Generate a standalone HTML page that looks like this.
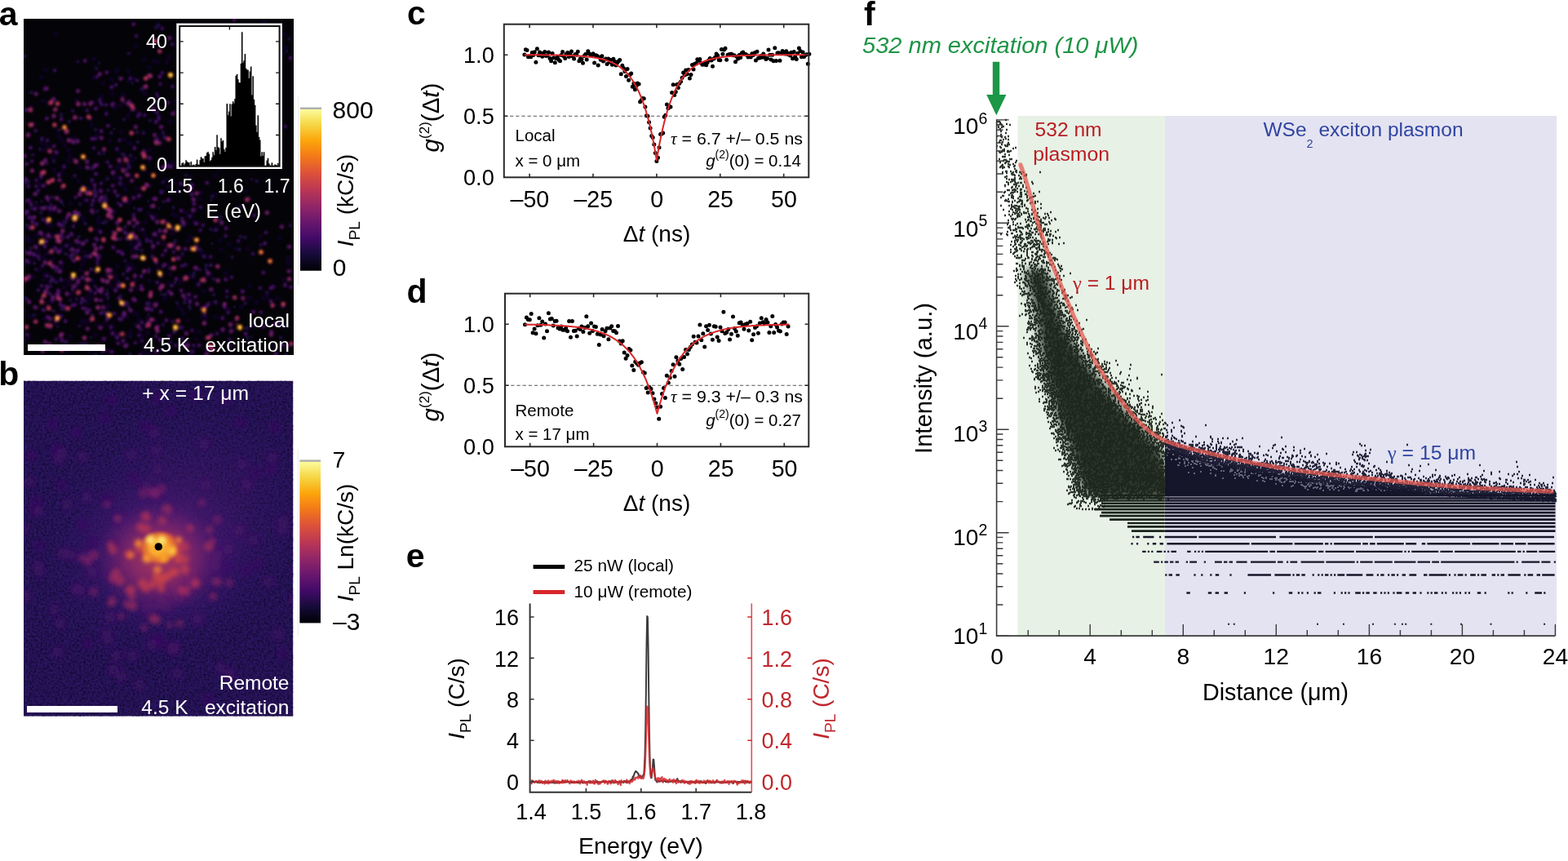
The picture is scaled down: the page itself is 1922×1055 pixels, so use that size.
<!DOCTYPE html>
<html><head><meta charset="utf-8"><title>Figure</title>
<style>html,body{margin:0;padding:0;background:#fff;overflow:hidden}svg{display:block}</style></head>
<body><svg width="1922" height="1055" viewBox="0 0 1922 1055" font-family="'Liberation Sans', Arial, Helvetica, sans-serif">
<defs><linearGradient id="cbar" x1="0" y1="1" x2="0" y2="0"><stop offset="0.0" stop-color="#000004"/><stop offset="0.1" stop-color="#160b39"/><stop offset="0.2" stop-color="#420a68"/><stop offset="0.3" stop-color="#6a176e"/><stop offset="0.4" stop-color="#932667"/><stop offset="0.5" stop-color="#bc3754"/><stop offset="0.6" stop-color="#dd513a"/><stop offset="0.7" stop-color="#f37819"/><stop offset="0.8" stop-color="#fca50a"/><stop offset="0.9" stop-color="#f6d746"/><stop offset="1.0" stop-color="#fcffa4"/></linearGradient><clipPath id="clipA"><rect x="29" y="23" width="331" height="412"/></clipPath><filter id="blurA" x="-5%" y="-5%" width="110%" height="110%"><feGaussianBlur stdDeviation="1.6"/></filter><clipPath id="clipB"><rect x="29" y="466.6" width="330.4" height="411.1"/></clipPath><filter id="noiseB" x="0" y="0" width="100%" height="100%" color-interpolation-filters="sRGB"><feTurbulence type="fractalNoise" baseFrequency="0.38" numOctaves="2" seed="3"/><feColorMatrix type="matrix" values="0 0 0 0 0.04  0 0 0 0 0.01  0 0 0 0 0.12  2.4 0 0 0 -0.95"/></filter><filter id="noiseB2" x="0" y="0" width="100%" height="100%" color-interpolation-filters="sRGB"><feTurbulence type="fractalNoise" baseFrequency="0.33" numOctaves="1" seed="9"/><feColorMatrix type="matrix" values="0 0 0 0 0.28  0 0 0 0 0.15  0 0 0 0 0.52  0 3.0 0 0 -1.55"/></filter><filter id="blurB" x="-30%" y="-30%" width="160%" height="160%"><feGaussianBlur stdDeviation="4"/></filter><filter id="blurB3" x="-30%" y="-30%" width="160%" height="160%"><feGaussianBlur stdDeviation="2.6"/></filter><radialGradient id="haloB"><stop offset="0" stop-color="#6a1e78" stop-opacity="0.9"/><stop offset="0.4" stop-color="#521a76" stop-opacity="0.6"/><stop offset="0.75" stop-color="#3c1670" stop-opacity="0.3"/><stop offset="1" stop-color="#2c1260" stop-opacity="0"/></radialGradient><radialGradient id="magB"><stop offset="0" stop-color="#c8444e"/><stop offset="0.45" stop-color="#a83262" stop-opacity="0.85"/><stop offset="1" stop-color="#7a2270" stop-opacity="0"/></radialGradient><radialGradient id="coreB"><stop offset="0" stop-color="#fbc040"/><stop offset="0.45" stop-color="#f7a02a"/><stop offset="0.75" stop-color="#ec7a2a" stop-opacity="0.8"/><stop offset="1" stop-color="#d85a3a" stop-opacity="0"/></radialGradient><filter id="blurP" x="-5%" y="-30%" width="110%" height="160%"><feGaussianBlur stdDeviation="2"/></filter><clipPath id="clipP"><rect x="1428" y="400" width="479" height="206"/></clipPath><filter id="blurF" x="-20%" y="-20%" width="140%" height="140%"><feGaussianBlur stdDeviation="6"/></filter><clipPath id="clipG"><rect x="1200" y="140" width="227.7" height="470"/></clipPath></defs>
<rect width="1922" height="1055" fill="#fff"/>
<text x="-1.2" y="31" font-size="41" font-weight="bold">a</text>
<rect x="29" y="23" width="331" height="412" fill="#040307"/>
<g clip-path="url(#clipA)"><g filter="url(#blurA)"><path d="M167.3 230.9h0M161.8 307h0M176.6 161.9h0M148.6 202h0M30.5 416.7h0M238.4 305.4h0M157.5 87.6h0M235.6 163.9h0M179.3 398.1h0M230 419.4h0M69.3 358.5h0M150.8 116.2h0M126.3 102.1h0M103.9 395.4h0M258.1 336.4h0M188.9 74.8h0M109.7 431.2h0M201.5 366.4h0M240.6 415h0M31.8 259.6h0M278.2 180.1h0M183.2 183.8h0M251.8 434.2h0M150.3 281.7h0M163.8 289.1h0M167.3 385.3h0M297.4 356.9h0M54.7 335.9h0M39.8 295.1h0M309.6 396.4h0M196.6 428.8h0M230.3 392.3h0M229.4 196.1h0M164.4 328.5h0M173.8 230.4h0M83.6 184h0M158.3 248.6h0M30.7 150.2h0M96.6 221.7h0M59.8 370.8h0M41 339.6h0M321.5 53.3h0M161.7 196.2h0M321.2 181.8h0M285.4 403.5h0M93.4 122.6h0M123.2 245.5h0M272 55.6h0M207.7 428.6h0M72.4 272.7h0M236 263.5h0M157.6 197.9h0M258.4 129.5h0M66.3 208.1h0M126.3 416.2h0M61.5 402.5h0M55.4 254.5h0M63.3 276.7h0M327 395.3h0M216.8 234.1h0M144.2 204.6h0M77.5 204h0M207.9 244.4h0M212.1 262.7h0M132.6 430h0M159.7 175.4h0M53.5 184.1h0M36.8 387.9h0M32.8 276.9h0M257.3 171.4h0M137.1 114.7h0M152.2 422.4h0M255.8 40.1h0M91.2 424.5h0M75.4 171h0M154.1 232.7h0M86 249.3h0M137.2 405.8h0M100.5 392.8h0M353.2 315.9h0M350.2 58.5h0M34 267h0M59.5 286.2h0M198.1 164.2h0M33.1 261.3h0M279.4 379.2h0M251.3 394.7h0M193.4 329.4h0M82.8 343.1h0M160.9 135.1h0M255.6 79.2h0M152.4 170.8h0M185.4 433.5h0M140.7 132.1h0M29.6 324h0M239.6 257.6h0M144.3 85.8h0M140.6 258.8h0M269.9 294.7h0M158 175.6h0M223.8 342.2h0M52.9 342.6h0M75 309h0M103 244.6h0M40.1 315.3h0M241.9 273.4h0M234.4 230.8h0M100.8 323.5h0M50.6 94.4h0M229.7 295.5h0M191.6 264.8h0M149.9 242.2h0M82.7 343.4h0M192.8 204.3h0M249.6 356.6h0M112.5 223.6h0M47.2 306.4h0M202.7 169.1h0M84 429.6h0M176.2 431.4h0M114.6 95.4h0M65.4 304h0M52.6 123.5h0M316.4 153.2h0M117.2 410.1h0M315 72.7h0M218.3 376.5h0M57.7 275.1h0M305 169h0M165.8 56.6h0M324.1 26.2h0M157.3 141.8h0M57.7 178.4h0M91 216.6h0M328.2 361.7h0M75.9 210.9h0M170.4 391.6h0M48.8 312.9h0M203.4 220.4h0M39.7 267.4h0M247.8 387.8h0M64.1 317.5h0M216.4 47.5h0M225.2 384.5h0M99 301.4h0M351.7 424.7h0M207.9 203h0M200.8 298.3h0M130.8 378.7h0M339.9 365.2h0M247.8 312.1h0M211 286.2h0M244.6 344.5h0M310.7 204.9h0M152.5 228.1h0M106.1 348.9h0M135.9 259.7h0M273.8 406h0M155.5 388.5h0M99.5 341.6h0M149.1 226.1h0M194.1 29.1h0M216.5 402.8h0M92.5 272.2h0M160.3 406.8h0M70.5 344.4h0M31.3 291.7h0M237.9 272.2h0M145.6 217.2h0M143.3 409.3h0M169.1 139h0M143.8 184.5h0M54.7 271.6h0M264.5 123.1h0M118.6 166.6h0M192.1 289.9h0M179.3 433.8h0M44.3 288.3h0M86.2 412h0M91.2 169.1h0M178.1 114.8h0M349.3 399.7h0M126 272.4h0M91.8 270.3h0M296.1 375.6h0M79.1 178h0M108.3 370.6h0M66.2 192.4h0M129.4 243.9h0M268.4 104.5h0M81 162.9h0M164.4 96.6h0M34.2 167.1h0M134.7 172.5h0M105 231.8h0M165.6 344.6h0M270.7 305.4h0M100.9 266.8h0M230.6 340.2h0M177.1 400.2h0M57.2 310.2h0M287.3 114.7h0M291.1 61.8h0M265.6 371.4h0M130.8 218.9h0M76.8 379.5h0M107.4 231.3h0M140.7 217.5h0M103.4 318.9h0M75.9 323.9h0M33.8 291h0M117.4 334h0M99.1 331.2h0M233.1 433.1h0M101.3 232.4h0M143.9 325.9h0M177.4 288.1h0M65 121.9h0M205.2 202.5h0M61.7 259.6h0M246.7 236.1h0M190.6 392.6h0M169.9 241.2h0M78.8 421.7h0M88.3 261.9h0M181.8 261.7h0M65.4 193h0M183 344h0M137.4 398.9h0M48 331.1h0M213.7 223.9h0M336.4 424.4h0M219.6 233.6h0M137.4 284h0M174.8 411.6h0M224.4 47.5h0M338.5 115.7h0M207.4 69.7h0M59.1 126.8h0M114.3 309.4h0M75.5 329.9h0M219.4 315.2h0M247.2 308.7h0M133.6 374.8h0M130.3 345.9h0M69.3 42.2h0M306 364.9h0M84.8 299.2h0M288.4 395.3h0M51.5 175.4h0M65.5 302.9h0M234 216.8h0M245.1 243.7h0M251.9 414.6h0M44.1 253.7h0M126.4 360.1h0M168.7 353.9h0M263.7 238.9h0M159.8 323.4h0M309.6 395.7h0M77.2 430h0M33.1 225.2h0M208.8 336.1h0M131.1 331.4h0M246.2 377.3h0M345.9 66.8h0M301.3 234.2h0M306.3 350.2h0M208.6 149.3h0M35 412.9h0M233.9 290.3h0M170.4 280.7h0M136.7 351.4h0M195.1 284h0M166.8 295h0M64.7 327.4h0M276.6 334.6h0M265.7 278.9h0M148.2 162.1h0M308.5 100h0M98.1 205.1h0M55.9 85.3h0M311.3 399.5h0M243.2 194.7h0M252.1 389h0M193.8 76.1h0M341.9 291.7h0M123.5 312.8h0M216.1 123.6h0M141.2 356.1h0M187.1 305.9h0M260.6 172.8h0M222.6 378.8h0M114.8 72.6h0M134.9 387.9h0M111.4 365.6h0M103.6 272.1h0M78.8 351.7h0M344.3 177.5h0M114.3 344.7h0M150 242.5h0M353.2 322.3h0M348.3 42.5h0M318.8 289.9h0M234 338.7h0M264.2 215.8h0M314.4 108.1h0M71.8 165.7h0M33 225.6h0M237.5 430.3h0M166 342.7h0M107.9 230.6h0M88.2 360.5h0M103.5 392.7h0M160.4 298.5h0M197.3 348.6h0M183.3 195.7h0M78.2 425.9h0M30.5 295.2h0M338.3 433.5h0M157.3 411.7h0M141.2 337.9h0M223.5 402.1h0M33.1 295.3h0M142.4 345.9h0M165.8 398.1h0M154.2 387.3h0M84.9 347.9h0M127.1 296.3h0M324.1 365.2h0M328.8 115.4h0M176.8 72.4h0M175.9 424.3h0M132.6 376.3h0M58.2 374.1h0M163.4 382.7h0M76.5 303.5h0M103.6 308.7h0M38.1 131h0M178.4 209.7h0M178.4 272.3h0M142 339.3h0M54.8 290h0M101.6 315.7h0M119.2 398.6h0M174.1 110h0M334.2 351.1h0M157.8 99.1h0M238.9 48.2h0M142.4 88h0M37.8 295.7h0M159.4 292.2h0M296.8 115.4h0M182.1 370.4h0M205.7 228.5h0M224.5 101.7h0M112.1 152.7h0M232.1 304.5h0M142.9 414.5h0M205 76.3h0M212 200.1h0M180.8 407.9h0M268 207.1h0M128.2 397.8h0M191.6 128.6h0M192.5 371h0M54.3 390.5h0M108.1 362.6h0M216.1 136.8h0M303.8 304.8h0M182.8 82.6h0M97.3 299.8h0M289.1 304.7h0M120.3 281.2h0M45 236.8h0M203.1 270.4h0M54 316.8h0M83.7 197.4h0M155.9 326.2h0M120.6 272.3h0M228.1 260.5h0M253.3 340.3h0M96 350.6h0M244.2 406.5h0M268.2 193.3h0M187.4 288.1h0M346.6 341.8h0M109.9 392.9h0M117.6 318.9h0M148.2 204h0M136.9 97h0M216.5 264.4h0M205.3 302.1h0M247.9 53.1h0M245.5 182.5h0M201.6 362.6h0M206 347h0M98.8 356.8h0M85.7 190.7h0M154.5 242.1h0M71.2 287.6h0M280.9 299.1h0M305.3 402.3h0M187.6 373.2h0M268.7 150h0M124.4 118.2h0M180.7 390.5h0M103.6 231.5h0M49.4 225.5h0M147.6 129.7h0M232.4 366.1h0M264.2 388.2h0M65.4 258.4h0M228.9 274.6h0M74.6 231.1h0M234.7 336.8h0M221.6 346.4h0M31.6 222.4h0M313.9 369.7h0M121.2 267h0" stroke="#160b39" stroke-width="6" stroke-linecap="round" opacity="0.6"/><path d="M153.6 192.3h0M140.2 158.1h0M294.2 403h0M182 385.6h0M70.9 400.2h0M77.4 251.1h0M62.7 291.7h0M125 432h0M30.1 346.8h0M36.1 221.9h0M79.1 277.1h0M308.4 412.8h0M258.8 245.4h0M162.1 102.1h0M351.5 63.1h0M127.3 188.4h0M181.7 246.2h0M270.7 271.6h0M308.4 219.5h0M200.2 234.4h0M138.2 129.7h0M74.6 341h0M197.4 360.6h0M44.3 247.9h0M50.9 171.5h0M123.8 341.5h0M111.4 413.6h0M160.3 412.8h0M287.6 376.1h0M75.8 249.1h0M84.2 377.1h0M186.1 93.4h0M256.7 370.6h0M50.9 246.8h0M195.3 255.3h0M252.3 344.9h0M217 276.4h0M164.5 255.1h0M145.4 345h0M166.2 193.6h0M153 126.4h0M130.2 140.8h0M46.5 376.9h0M98 264.2h0M131.3 355.4h0M121.4 76.9h0M259.7 298.6h0" stroke="#11082c" stroke-width="4.5" stroke-linecap="round"/><path d="M183.9 147.8h0M234.9 430.5h0M30.2 365h0M48.6 182.7h0M128.4 383.1h0M152 245.3h0M302.2 402.3h0M98.2 250.3h0M284.5 315.3h0M293.6 305.8h0M119.4 258.8h0M151.1 336.1h0M179.9 295.6h0M75 140.2h0M156.8 201.3h0M40.3 189.6h0M144.3 274.1h0M38.2 113.3h0M343.9 413.9h0M170.9 295h0M319.4 300.2h0M68.4 332h0M48 317.8h0M116.4 232.6h0M182.6 330.1h0M200.2 162.2h0M240.1 306.4h0M29.9 366.2h0M153.7 278h0M81 311.1h0M90.7 195.2h0M205 272.7h0M117.5 236.9h0M195.1 174.4h0M132.4 365.4h0M261.7 341.8h0M258.5 281.1h0M81.2 272h0M132.6 233h0M67.1 289h0M44.2 330.3h0M189.7 172.4h0M111 145.3h0M63.9 241.5h0M62 344.5h0M102.2 228.3h0M262.2 361.3h0M89.2 336.2h0M153.5 319.6h0M155.2 207.5h0M109.5 206h0M238 334.7h0M93.8 366.5h0M211.5 393.5h0M101.6 421.9h0M191.9 114.7h0M200.1 397.8h0M41.7 386.2h0M226.4 371.1h0M168.5 162.2h0M314.6 221.9h0M104.6 274.3h0M160.2 190.6h0M350.8 434.7h0M126.4 273h0M294.5 253.6h0M93.4 309.4h0M228 214.6h0M149.6 391.9h0M137.1 263.7h0M169.4 299.9h0M300.8 371.8h0M278.1 363.6h0M195.5 281.8h0M244.9 305.5h0M212.6 254.4h0M29.4 381.4h0M173.9 306.9h0M251.1 385.5h0M197.4 339h0M74.4 306.5h0M111.6 343h0M78.4 271.5h0M37.7 303.8h0M303.3 413.7h0M176.7 184h0M304.2 419.7h0M117.2 434.7h0M72.2 159.3h0M171.6 403.3h0M33.7 276h0M354.4 47.6h0M66 380.9h0M209.2 419.6h0M148.5 292.7h0M89.2 135.9h0M157.6 376.1h0M211.2 279.9h0M33.1 365.7h0M118.1 83.6h0M129.4 240.2h0M153.6 386.1h0M97.6 399.5h0M57.5 200.6h0M168.7 173.9h0M68.5 346h0M144.7 248.7h0M154.5 247h0M179.5 371.8h0M104.3 368.7h0M152.3 190h0M86.1 367.6h0M151.8 146.5h0M175.5 163.4h0M327.1 358.6h0M121.4 313.4h0M65.8 197.6h0M146.2 350.5h0M260 240.5h0M227.4 338.6h0M294.9 289.7h0M114 261.5h0M50.4 261h0M155.7 372.7h0M144.6 238.8h0M136.5 162.9h0M349.6 348.4h0M252.9 330.2h0M32.2 246.1h0M311.7 421.6h0M93.7 425.8h0M149.9 188.9h0M177.9 188.8h0M233.1 377.8h0M199.5 223.6h0M150 281.4h0M270.6 265.7h0M252.4 325.2h0M63.3 339.6h0M194 31.4h0M131.8 218.9h0M39 255.3h0M197.2 234.3h0M77.3 292.4h0M237.1 257.3h0M147.8 362.8h0M173.1 404.3h0M62.6 250.5h0M96.7 290.1h0M191.2 33.8h0M112.4 311.4h0M86.5 305.9h0M84.9 148.8h0M131.5 336.5h0M185 252.9h0M174 108.7h0M300.5 290.9h0M214.7 295.3h0M200.4 247h0M156.1 422.3h0M236.7 339.3h0M244.8 330.5h0M355.8 276.4h0M202.1 361.1h0M91.7 214.9h0M113 385.9h0M217.2 371h0M88.4 287.9h0M214.6 346.6h0M226.7 425.2h0M157.8 65.5h0M305.2 243.3h0M189.6 125.9h0M130.2 271.8h0M58.8 254.2h0M117.8 236.9h0M105.2 313.8h0M167.9 305.1h0M116.6 350.8h0M158.9 434.2h0M232.3 375.5h0M31.5 308h0M209.6 329h0M207.9 328.5h0M117.3 158.6h0M130.2 244h0M87.9 316.4h0M162.5 350.3h0M42.3 322.5h0M95.4 75.6h0M76.3 378.2h0M223.6 311.3h0M62.1 350.9h0M92.4 263.1h0M85.5 314.2h0" stroke="#210b45" stroke-width="4.6" stroke-linecap="round"/><path d="M78.9 204.4h0M135.6 332.5h0M278.2 356.9h0M237.4 423.3h0M187.6 268h0M346.8 374.9h0M180.1 293.8h0M73.3 295.9h0M323.2 400.5h0M193.6 400h0M213.7 407h0M155.1 371h0M168.2 98.6h0M171.6 434.6h0M130.3 128.6h0M89.9 277.3h0M35.2 321.3h0M118.7 94.3h0M349.6 154.8h0M43.7 160h0M211.1 54.3h0M326.1 285h0M109.8 379.8h0M47 233.6h0M33.6 310.8h0M47 355.6h0M97.1 296.8h0M74.6 246.3h0M223.3 414.9h0M34.6 342.2h0M122.1 122.7h0M115.5 310.2h0M34.8 228.5h0M71 390.3h0M235.4 404.7h0M106.3 294.8h0M197.5 351.6h0M196.4 103.2h0M158.5 204.6h0M235.7 431.1h0M292.4 295.4h0M198.8 89.3h0M177.5 141.3h0M199.3 312.6h0M182.3 227.8h0M142.2 103.9h0M212.9 308.8h0M148.2 308.6h0M156.3 332h0M170.3 257.1h0M182.5 332.7h0M111.8 330.2h0M193.2 118.1h0M52 325.8h0M92.4 373.3h0M158.1 214.6h0M62.3 344.5h0M211 302.4h0M146.7 224.7h0M248.8 275.9h0M116.5 359.5h0M119.1 293.9h0M281.3 415.9h0M186.7 314.3h0M92.7 241.7h0M119.5 354.7h0M264 370.1h0M265.8 408.7h0M245.7 282.3h0M191.7 322.1h0M36.4 279.5h0M105.2 378.1h0M130.9 385h0M60.7 359.6h0M167 44.2h0M52.5 268.8h0M68.8 415.7h0M199.3 205.6h0M192.6 346.1h0M112.8 220.5h0M173.9 395h0M237.7 244.8h0M156 341.4h0M30.8 222.3h0M191.1 412.2h0M60.9 222.9h0M226.7 365.9h0M116.3 233.1h0M33.4 409.9h0M119.6 322.4h0M243.3 349.4h0M128.4 246.4h0M143.6 239.9h0M174.8 281.3h0M58.1 172h0M192.7 170.5h0M146.5 171.8h0M131.8 198.6h0M311.5 263.9h0M57.8 354.4h0M112.6 251.2h0M116.7 170.3h0M276.7 289h0M122.8 125.2h0M106.5 245.5h0M211.4 106h0M99.2 144.8h0M223.1 325.8h0M210.5 350h0M258.5 325h0M44.4 228.2h0M98.7 422.3h0M194.6 146.1h0M106.9 135.3h0M111 356.5h0M37.8 310.2h0M44.5 220.8h0M67.5 253.7h0M130.4 139h0M171.4 140h0M140.5 384.2h0M182.5 92.1h0M172.7 256.6h0M130.5 256.1h0M159.7 96h0M281.7 424.2h0M222.2 401.2h0M319 352.9h0M124.6 128.1h0M50.8 366.5h0M99.6 371h0M279.6 382.9h0M139.1 126.8h0M67.1 86.2h0M49.4 298.1h0M194.7 143.3h0M108.9 353.5h0M75.2 343.3h0M124.1 224.7h0M81.2 418.6h0M163.8 263.5h0M131.1 360.6h0M193.8 297.9h0M186.5 379.7h0M29.9 68.9h0M96.1 342.9h0M57.6 338h0M258.1 314.8h0M310.1 311.1h0M46.4 314.2h0M51.5 169.7h0M227.4 324.5h0M250.5 314.5h0M170.3 410.7h0M81.2 301.1h0M185.2 295.7h0M50.3 254.8h0M335.3 351.5h0M197.7 236.2h0M232.5 265.2h0M342.7 397.9h0M121.5 187.8h0M68.6 394h0M164.1 277.4h0M225.6 423.1h0M198.6 34.7h0M173.3 350.5h0M201.9 168.5h0M75.1 387.3h0M173.9 417.6h0M213 299.5h0M113.9 205.8h0M206.2 125.7h0M181.8 372.3h0M215.3 423.3h0M232.8 369.1h0M51 350.2h0M264.5 281.9h0M246.1 253.8h0M139.6 210.9h0M143.4 182.3h0M320 382.7h0M283.9 339.6h0M69.4 295.6h0M135.7 401h0M223.2 267.9h0M225.2 275.6h0M65 342.8h0M115.1 181.3h0M39.2 197.6h0M148.1 218.5h0M166 420.1h0M54.7 109h0M89.1 354.5h0M243.5 348.2h0M192.5 137.9h0M169.1 142.3h0" stroke="#370a5c" stroke-width="4.8" stroke-linecap="round"/><path d="M240.7 328.6h0M197.1 382h0M332 369.1h0M112.7 125.4h0M207.2 357.4h0M240.4 274h0M356 71.1h0M104.2 74.5h0M117 240.1h0M105.4 422.6h0M138 408.9h0M202.2 324.1h0M237.9 249.9h0M53.3 380h0M153.7 285.5h0M324.7 298.3h0M71.9 358.8h0M136.1 258.3h0M221.9 225.3h0M152.2 246.2h0M72.1 214.5h0M57.6 350.9h0M35.1 245.5h0M234.9 237.8h0M131.4 391.5h0M87.2 286.5h0M53.4 227.8h0M90.4 174.6h0M301.2 408.9h0M275.2 376h0M332 353h0M191.8 430.7h0M183.5 193.2h0M147.9 251.5h0M56.8 296h0M143.3 273.3h0M149.1 348.8h0M254.2 428.4h0M356.7 351.7h0M205.7 203.8h0M68.8 186.5h0M276.6 342.5h0M117.6 213.3h0M119.1 201.9h0M136.7 106.8h0M144.7 420.6h0M50.2 216.8h0M202.8 307h0M138.3 227.6h0M183 378.6h0M141.8 355.7h0M338 433.8h0M117.5 132.9h0M100.9 366.1h0M140.8 234.6h0M123.2 284.3h0M76 416.8h0M101.7 377.6h0M124.1 234.3h0M135.4 204h0M286.9 24.3h0M235.2 226.8h0M31.7 219.5h0M58.5 388.5h0M191.1 149.4h0M64.6 367.9h0M163.7 29.7h0M151 386.9h0M173.3 338.4h0M42.9 256.2h0M89.1 374.2h0M346.1 422.6h0M145.8 365.6h0M206.1 245.4h0M37.4 180.9h0M137.1 431.1h0M239.6 363.8h0M165 181.5h0M143.9 413.3h0M120.5 316.5h0M137.5 128.2h0M171.2 299.9h0M207.4 411.6h0M38 250h0M39.7 272.2h0M78.6 375.5h0M222.1 356h0M32.2 260.7h0M132.3 154.1h0M101.9 340.1h0M123.8 383.6h0M74.4 321.4h0M127.7 415h0M209.8 204.6h0M68.4 304.6h0M95.5 307h0M165.6 368.4h0M186.3 265.6h0M69.5 327.7h0M310.9 382.3h0M146.4 390.7h0M227 304.9h0M222.2 258.1h0M114.4 245.5h0M158.7 329.5h0M188.5 243.6h0M57.4 145.3h0M170.6 239.7h0M112.8 170h0M75.2 146.3h0M138.8 303.3h0M52.6 296.9h0M130.8 88.8h0M124.3 160.8h0M66.1 179.1h0M61.7 255.4h0M163.8 242.5h0M322.9 334.1h0M74.1 373.2h0M203.9 392.4h0M232.9 369.9h0M297.3 357.2h0M75 276.1h0M32.6 200.9h0M83.3 290.5h0M33.3 259.2h0M277.1 279.8h0M36.8 266.4h0M51 286.7h0M166.5 303.3h0M55.1 302.1h0M150.4 311.3h0M72.1 274.9h0M216.2 341.6h0M80.3 393.4h0M123.8 368h0M138.4 290.6h0M32.7 319.2h0M200.3 325.9h0M144.5 308.1h0M254.9 373.6h0M117.8 292.5h0M244.2 423.1h0M251.5 376.3h0M90.5 319.7h0M272.9 389.8h0M151.1 417.5h0M99.1 233.1h0M71.4 356h0M123.2 233.7h0M195.9 416.3h0M231.5 360.8h0M116.1 227h0M196.1 282.9h0M349.4 349.6h0M45 274.5h0M253.8 224.1h0M195.7 94h0M58.9 245h0M41.9 311.7h0M69.4 187.1h0M75.4 288.4h0M121.9 245.5h0M32.2 134.8h0M88.6 312.2h0M82.1 266.7h0" stroke="#4c0d6a" stroke-width="4.9" stroke-linecap="round"/><path d="M224.3 272.3h0M61 421.7h0M165.2 337.8h0M41.9 266.2h0M92.3 259.7h0M138.2 211.5h0M159.8 287.2h0M39.8 152.3h0M237 243.9h0M179.5 378.3h0M239.4 328.1h0M70.3 387.5h0M354.1 332.3h0M228.4 408.5h0M253.6 433.9h0M43 237.7h0M71.7 308.5h0M163.9 366.6h0M124.9 353.9h0M182.4 395.6h0M66.8 255.2h0M123.2 401.8h0M57.1 108.2h0M240.1 302.4h0M36.4 310.1h0M190.7 243.7h0M187.6 301.6h0M166.3 155.5h0M142.8 292.9h0M110.5 314.3h0M70.6 361.1h0M273 403.6h0M95.5 345.5h0M210.2 360h0M73.1 220.7h0M271.9 272.9h0M189.5 165.4h0M134.2 260.3h0M102.1 298.2h0M127.3 428.6h0M44.2 115.1h0M187.6 133.9h0M160.5 355.3h0M200.7 204.8h0M354.4 302.2h0M107.4 402.8h0M154.1 424h0M61.5 390.4h0M148 96.3h0M90.9 350.6h0M59.4 288.8h0M212 139.2h0M192.7 271.9h0M95.9 261.7h0M57.7 241.8h0M95.2 173h0M65.7 121.5h0M35.8 370.1h0M64.6 364.1h0M71.5 390.8h0M126.3 376.5h0M124.4 241.8h0M150.8 373.3h0M163 314.5h0M58.8 271.2h0M337.6 397h0M106.8 204.9h0M169.8 400h0M258.9 410.9h0M115.6 300.1h0M258.9 354.5h0M73.2 332.7h0M106.8 197.9h0M224.6 362.3h0M49.3 284.9h0M255 334.6h0M43.7 302.4h0M55.2 321.8h0M122.3 90.7h0M89.1 305.8h0M345.3 277.7h0M106.9 383h0M236.7 257.3h0M72.6 258.4h0M207.8 46.6h0M93.6 295.2h0M112.7 258.2h0M283.2 406.1h0M43 376.4h0M82.1 359.9h0M158.2 124.9h0M189.7 286.8h0M174.1 354.4h0M30 190.9h0M156.2 292.1h0M230 423.6h0M53.7 255h0M89.2 173.4h0M332.7 406.8h0M117.6 311.9h0M152.2 383.6h0M123.8 303.2h0M124.3 169.1h0M135.2 331h0M197.6 155.4h0M145.4 350.3h0M103.7 127.6h0M95.6 111.5h0M159.8 380.1h0M241.4 372.2h0M168.3 273.1h0M218.6 316.5h0M195.6 175.2h0M55.7 196.2h0M55.4 419.1h0M161.5 221.5h0M116.6 203.1h0" stroke="#60146c" stroke-width="5" stroke-linecap="round"/><path d="M282.3 397.6h0M176.7 332.2h0M131.9 344.9h0M241.1 236.8h0M126.3 343.6h0M136.5 266.6h0M69.8 242.7h0M166.8 290.6h0M164.5 268.7h0M39.5 209.1h0M267.2 343.7h0M190.7 373.8h0M97.7 237.9h0M157.7 126.9h0M35.3 338.8h0M106.4 236.6h0M297.8 365.3h0M84.4 171.9h0M275.3 372.6h0M74.4 411.1h0M146.2 196.3h0M327.3 260.5h0M110.8 127h0M155.7 214.1h0M127.6 182.7h0M123 356.8h0M158.3 272.7h0M167.2 314h0M64.6 326h0M193.1 405.5h0M34.6 165.1h0M84.4 262.8h0M52.1 429.9h0M196.6 353.4h0M76.8 282.9h0M332.4 410h0M89.3 341h0M118 367.3h0M162.7 286.5h0M55.6 357.6h0M179.6 226.4h0M232.8 231.1h0M150.1 121.9h0M187.8 252.2h0M250.2 396.3h0M117.8 305.1h0M151 208.9h0M75.8 409.5h0M66 142.1h0" stroke="#741b6c" stroke-width="5.1" stroke-linecap="round"/><path d="M51.7 200.2h0M202.7 283h0M96 127.5h0M184.9 358.6h0M178.7 106h0M266.8 326.4h0M163.3 132.8h0M176.6 316.7h0M106.4 335h0M67.8 134.2h0M135.1 259h0M186.1 391.6h0M199 350.7h0M120 376.7h0M73.5 366.7h0M91.9 144h0M103.5 414h0M192 401.8h0M354.6 341.8h0M93.2 197.9h0M132.5 330.9h0" stroke="#892269" stroke-width="5.3" stroke-linecap="round"/><path d="M61 322.7h0M154.2 195.9h0M135.4 339.5h0M195.8 62.8h0M71.2 365.1h0M191.7 174.9h0M357.2 421.2h0M302.8 244.7h0M43.7 394.1h0M218.5 304.1h0M183.7 93h0M182.4 398.1h0M61.1 185.3h0M61.8 399h0M260.5 428.3h0M51.6 212h0M217.3 281h0M63 308.2h0M107.4 342.4h0M290.7 389.8h0M72.5 295.5h0M264.2 269.7h0M175.3 188.3h0M133.1 256h0M37.5 134.7h0M81.9 160.7h0M181.5 398.7h0M334.1 374.3h0M57.7 398.6h0M213.2 328.2h0M140.9 286.2h0M116.4 311h0M31 341.5h0M287.7 364.5h0M132.6 264h0M184.3 362.5h0M32.6 400.8h0" stroke="#9d2a62" stroke-width="5.4" stroke-linecap="round"/><path d="M176.3 230.9h0M227.7 341.1h0M66.9 152.9h0M62.5 125.8h0M178.7 95.9h0M95.1 316.5h0M126.9 293.6h0M106.6 352.8h0M206.9 170.6h0M108.7 143.3h0M129.3 251.2h0M162.2 348.4h0M64.4 220.7h0M149.8 409.3h0M110.6 236.9h0M53.8 210.9h0M95.9 358.4h0M257.9 423.5h0M113.3 390.8h0M145.6 280.9h0M139.1 291.4h0M59.8 377.8h0M70.6 127.1h0M176.8 191.8h0M70.6 290.5h0M51.2 370h0M255.4 413.8h0M120.4 424.5h0M39.9 278.7h0M53.9 362.3h0M153.3 244.1h0M161.7 129.5h0M75.5 428.3h0M218.3 393.2h0M147 269.4h0M161.2 163h0M83.2 378.1h0M190.5 318.3h0M167.7 215.3h0M212.7 317.7h0M200.6 290.6h0M248.8 342.9h0M190.6 50.3h0M111.2 280.9h0M37.6 153.1h0M77.9 227.7h0M90.4 268h0M59.4 223.3h0M347.2 372.6h0M208.4 300.4h0M199.3 272h0" stroke="#b23359" stroke-width="5.5" stroke-linecap="round"/><path d="M188 215h0M151 350h0M320 309h0M331 320h0" stroke="#d54b40" stroke-width="5.8" stroke-linecap="round"/><path d="M188 215h0M151 350h0M320 309h0M331 320h0" stroke="#fab219" stroke-width="2.6" stroke-linecap="round"/><path d="M102 232h0M79 156h0M207 277h0M250 380h0" stroke="#e25b32" stroke-width="5.9" stroke-linecap="round"/><path d="M102 232h0M79 156h0M207 277h0M250 380h0" stroke="#f8ca37" stroke-width="2.6" stroke-linecap="round"/><path d="M60 269h0M175 205h0M241 294h0M237 305h0M134 386h0M102 192h0M160 290h0M70 390h0" stroke="#ee6e21" stroke-width="6.1" stroke-linecap="round"/><path d="M60 269h0M175 205h0M241 294h0M237 305h0M134 386h0M102 192h0M160 290h0M70 390h0" stroke="#f8e15e" stroke-width="2.6" stroke-linecap="round"/><path d="M149 371h0M196 335h0M51 296h0M128 252h0M120 330h0" stroke="#f58315" stroke-width="6.2" stroke-linecap="round"/><path d="M149 371h0M196 335h0M51 296h0M128 252h0M120 330h0" stroke="#faf388" stroke-width="2.6" stroke-linecap="round"/><path d="M209 92h0M92 267h0M175 316h0M90 337h0M218 279h0M294 401h0M215 401h0" stroke="#fa9a0e" stroke-width="6.3" stroke-linecap="round"/><path d="M209 92h0M92 267h0M175 316h0M90 337h0M218 279h0M294 401h0M215 401h0" stroke="#faf388" stroke-width="2.6" stroke-linecap="round"/></g></g>
<rect x="216.3" y="28.6" width="129.6" height="178.4" fill="#fff"/>
<path d="M220.2 203.7V203.7H221.4V203.7H222.6V199.9H223.9V199.4H225.1V202.4H226.3V200.4H227.5V196.4H228.8V198.2H230V199.2H231.2V199.2H232.4V203.7H233.7V198.2H234.9V203.7H236.1V201.9H237.3V202.2H238.6V203.7H239.8V201.1H241V195.8H242.2V201.7H243.5V202.1H244.7V196.3H245.9V192.5H247.1V194.3H248.4V194.4H249.6V199.1H250.8V191.6H252V191.1H253.2V187.3H254.5V186.2H255.7V188.7H256.9V197.4H258.1V196.2H259.4V193.1H260.6V186.4H261.8V190.3H263V180.3H264.3V184.2H265.5V165.5H266.7V180.3H267.9V181.4H269.2V189H270.4V169.4H271.6V173.4H272.8V172.2H274.1V182.9H275.3V186.1H276.5V180.9H277.7V127.3H279V141.2H280.2V136.8H281.4V127.5H282.6V142.6H283.8V127.8H285.1V124.5H286.3V126.7H287.5V121.2H288.7V92.9H290V91H291.2V97.3H292.4V101.3H293.6V101.6H294.9V78H296.1V39.4H297.3V76.9H298.5V74.5H299.8V66.2H301V83.9H302.2V85.6H303.4V85.9H304.7V96H305.9V87.7H307.1V81.8H308.3V116.6H309.6V93.6H310.8V122H312V128.9H313.2V153.7H314.4V162H315.7V141.6H316.9V168.1H318.1V171.7H319.3V191.5H320.6V186.5H321.8V190.9H323V186.5H324.2V203.7H325.5V203.7H326.7V196.7H327.9V193.9H329.1V200.6H330.4V202.7H331.6V203.7H332.8V199.6H334V203.7H335.3V203.7H336.5V201.7H337.7V202.1H338.9V203.4H340.2V200H341.4V203.7H342.6V203.7Z" fill="#000" stroke="#000" stroke-width="0.4"/>
<rect x="220.2" y="32" width="122.4" height="171.7" fill="none" stroke="#111" stroke-width="2"/>
<path d="M342.6 165.5h-4.5M220.2 165.5h4.5M342.6 127.3h-4.5M220.2 127.3h4.5M342.6 89.1h-4.5M220.2 89.1h4.5M342.6 50.9h-4.5M220.2 50.9h4.5M281.4 32v4.5" stroke="#111" stroke-width="1.4" fill="none"/>
<text x="205" y="58.7" font-size="23.3" text-anchor="end" fill="#fff">40</text>
<text x="205" y="135.8" font-size="23.3" text-anchor="end" fill="#fff">20</text>
<text x="205" y="210" font-size="23.3" text-anchor="end" fill="#fff">0</text>
<text x="220.3" y="236" font-size="23" text-anchor="middle" fill="#fff">1.5</text>
<text x="282.7" y="236" font-size="23" text-anchor="middle" fill="#fff">1.6</text>
<text x="339.5" y="236" font-size="23" text-anchor="middle" fill="#fff">1.7</text>
<text x="286.2" y="266.5" font-size="23.5" text-anchor="middle" fill="#fff" textLength="67.6" lengthAdjust="spacingAndGlyphs">E (eV)</text>
<text x="355" y="400.6" font-size="24.5" text-anchor="end" fill="#fff">local</text>
<text x="355" y="430.5" font-size="24.5" text-anchor="end" fill="#fff">excitation</text>
<text x="176" y="430.5" font-size="24.5" fill="#fff">4.5 K</text>
<rect x="34" y="422" width="95" height="8" fill="#fff"/>
<line x1="365.7" y1="118" x2="365.7" y2="350" stroke="#ececec" stroke-width="1"/>
<rect x="368" y="132.5" width="26" height="199.2" fill="url(#cbar)"/>
<rect x="368" y="131.5" width="26" height="2.5" fill="#b0b0b0"/>
<text x="407.6" y="144.6" font-size="30">800</text>
<text x="407.8" y="338.3" font-size="30">0</text>
<text transform="translate(432.5 245.4) rotate(-90)" font-size="28" text-anchor="middle"><tspan font-style="italic">I</tspan><tspan font-size="19" dy="8.7">PL</tspan><tspan dy="-8.7"> (kC/s)</tspan></text>
<text x="-1.7" y="472" font-size="41" font-weight="bold">b</text>
<g clip-path="url(#clipB)">
<rect x="29" y="466.6" width="330.4" height="411.1" fill="#28155c"/>
<rect x="29" y="466.6" width="330.4" height="411.1" filter="url(#noiseB)" opacity="0.7"/>
<rect x="29" y="466.6" width="330.4" height="411.1" filter="url(#noiseB2)" opacity="0.35"/>
<ellipse cx="215" cy="650" rx="190" ry="150" fill="url(#haloB)" opacity="0.5" transform="rotate(-35 215 650)"/>
<ellipse cx="198" cy="678" rx="120" ry="105" fill="url(#haloB)" opacity="1"/>
<g filter="url(#blurB)"><path d="M294.6 517h0M135.9 490.1h0M301.8 700h0M141 666.7h0M179.2 522.2h0M-9.1 602.1h0M113.8 664.6h0M75.9 594.5h0M331.6 575.2h0M313.4 579.2h0M129 512h0M346.2 800.5h0M282.4 828.5h0M255 857.8h0M107.5 788.4h0M280 695h0M209.6 503.7h0M93.3 529.4h0M44.4 613.7h0M41.1 626.6h0M194.3 487.6h0M64.6 519.7h0M197.7 786.2h0M315.1 691.7h0M364.7 701.5h0M241 484.5h0M275.3 489.9h0M370 624.2h0M193.8 785.6h0M101.8 643.7h0M7.2 670h0M69 551h0M38 558.2h0M336.7 523.2h0M163.5 586.4h0M131.3 611.1h0M48.5 669.2h0M190.4 782.4h0" stroke="#420a68" stroke-width="13" stroke-linecap="round" opacity="0.6"/><path d="M213 796.5h0M86.9 679.5h0M346.3 649.2h0M310.2 661.4h0M142.3 803.3h0M129.7 776.6h0M252.2 593.9h0M171.2 838.8h0M359.8 734.8h0M388 649.9h0M190.8 552h0M106.4 609.2h0M189.6 530.7h0M73.3 764.3h0M139.4 820.6h0M71.4 562.2h0M372.6 632h0M13.5 639.2h0M208.7 629.4h0M215.7 720.8h0M186.6 745.8h0M186.1 790h0M48 699.8h0M100.9 559.4h0M161.8 803.7h0M193 574.9h0M98.5 723.5h0M296.4 568.4h0M237 706.7h0M144.8 636.2h0M281.3 825.6h0M132.5 783.9h0M82.1 618h0M35.6 590.2h0M250 543.7h0M217.3 825.2h0M32.1 729.7h0M269.4 818.2h0M48 625.9h0M261.4 711.9h0M76.5 555.5h0M328.7 713.1h0M148.5 828.7h0M347.6 637.9h0M385.2 619.4h0M340.6 777.2h0M198.6 737.6h0M333.6 560.8h0M161.3 557.3h0M28.7 649.4h0M16.4 660.4h0M70.5 798.8h0M66.8 746.6h0M46.4 692.9h0" stroke="#4c0d6a" stroke-width="13" stroke-linecap="round" opacity="0.6"/><path d="M242.3 758.6h0M191.3 603.4h0M264.7 693.2h0M178.8 745.8h0M292.8 650.2h0M134.9 756.5h0M112.2 700.1h0M302.3 593.8h0M219.9 731.9h0M180 595.6h0M279.9 672.6h0M77 677.9h0M214.3 793.1h0M265.6 680.1h0M93.6 721.9h0M204.2 744.3h0M211.2 794.1h0M236 702.7h0M105.3 680.6h0M152.6 693.2h0M234.6 714h0M216.8 727h0" stroke="#56106b" stroke-width="13" stroke-linecap="round" opacity="0.6"/><path d="M185.1 718.6h0M215.7 718.7h0M138.2 706h0M231.7 702.1h0M234.1 716.1h0M190.5 712.1h0" stroke="#60146c" stroke-width="13" stroke-linecap="round" opacity="0.6"/></g>
<ellipse cx="195" cy="684" rx="78" ry="68" fill="url(#magB)" opacity="0.7"/>
<g filter="url(#blurB3)" opacity="0.85"><circle cx="174.8" cy="714.9" r="6" fill="#c73f4c" opacity="0.8"/><circle cx="179.3" cy="648.1" r="5.9" fill="#bf3952" opacity="0.8"/><circle cx="161.8" cy="730.4" r="5" fill="#aa305c" opacity="0.7"/><circle cx="143.9" cy="635" r="4.6" fill="#a82f5d" opacity="0.6"/><circle cx="218.5" cy="685.2" r="5.5" fill="#ce4546" opacity="0.9"/><circle cx="204.9" cy="705.8" r="5.3" fill="#d14744" opacity="0.9"/><circle cx="130.9" cy="617.9" r="5.4" fill="#882269" opacity="0.5"/><circle cx="187.2" cy="716.3" r="5" fill="#ca4249" opacity="0.8"/><circle cx="157.2" cy="679.2" r="5" fill="#bf3952" opacity="0.8"/><circle cx="213.2" cy="701" r="5.6" fill="#cf4645" opacity="0.9"/><circle cx="261.3" cy="730.7" r="5.3" fill="#9c2a63" opacity="0.6"/><circle cx="142.2" cy="702.1" r="6.2" fill="#b0325a" opacity="0.7"/><circle cx="220.4" cy="763.9" r="5.4" fill="#942766" opacity="0.5"/><circle cx="208.3" cy="663.4" r="5.9" fill="#c53e4d" opacity="0.9"/><circle cx="148.5" cy="755.2" r="4.8" fill="#942666" opacity="0.5"/><circle cx="135.7" cy="667.8" r="4.8" fill="#b33358" opacity="0.7"/><circle cx="160.6" cy="722.5" r="5.8" fill="#bd3853" opacity="0.7"/><circle cx="217.9" cy="672.4" r="6.2" fill="#c63f4c" opacity="0.9"/><circle cx="225.9" cy="697.7" r="5.9" fill="#c43d4e" opacity="0.8"/><circle cx="176.4" cy="769.3" r="5" fill="#912567" opacity="0.5"/><circle cx="172.4" cy="646" r="5.7" fill="#bc3754" opacity="0.8"/><circle cx="114.8" cy="725.1" r="6" fill="#902567" opacity="0.5"/><circle cx="190.6" cy="606.5" r="5" fill="#8c2368" opacity="0.5"/><circle cx="135.9" cy="739.2" r="4.7" fill="#a12c61" opacity="0.6"/><circle cx="162.4" cy="742.2" r="6.3" fill="#a62e5e" opacity="0.7"/><circle cx="197.1" cy="713.6" r="5.3" fill="#c7404b" opacity="0.9"/><circle cx="222.2" cy="723.5" r="4.9" fill="#b63557" opacity="0.7"/><circle cx="257.1" cy="648.9" r="4.9" fill="#9f2b62" opacity="0.6"/><circle cx="199.5" cy="708.7" r="5.4" fill="#cf4645" opacity="0.9"/><circle cx="175.6" cy="604.2" r="6.5" fill="#8b2368" opacity="0.5"/><circle cx="197.4" cy="721.4" r="4.7" fill="#c63f4c" opacity="0.8"/><circle cx="200.5" cy="658.4" r="5.5" fill="#c43d4e" opacity="0.8"/><circle cx="185.8" cy="603.5" r="5.7" fill="#902568" opacity="0.5"/><circle cx="218.3" cy="681.5" r="4.9" fill="#d24942" opacity="0.9"/><circle cx="146.8" cy="711.3" r="6.4" fill="#b43458" opacity="0.7"/><circle cx="207.2" cy="660.8" r="4.6" fill="#c43e4d" opacity="0.8"/><circle cx="138" cy="735.8" r="5.7" fill="#992964" opacity="0.6"/><circle cx="99.4" cy="683.8" r="4.5" fill="#962766" opacity="0.5"/><circle cx="191.3" cy="759.3" r="6.4" fill="#9f2b61" opacity="0.6"/><circle cx="227.5" cy="724" r="6.3" fill="#ae315b" opacity="0.7"/><circle cx="266.4" cy="712.9" r="5.9" fill="#9e2b62" opacity="0.6"/><circle cx="180.1" cy="633.9" r="5.1" fill="#af325a" opacity="0.7"/><circle cx="138.5" cy="709.3" r="5.2" fill="#aa305c" opacity="0.7"/><circle cx="238.8" cy="715.4" r="4.7" fill="#ad315b" opacity="0.7"/><circle cx="226.4" cy="684.9" r="5.3" fill="#c43d4e" opacity="0.8"/><circle cx="260.5" cy="663.1" r="4.6" fill="#9e2a62" opacity="0.6"/><circle cx="107.6" cy="687.5" r="5.8" fill="#972865" opacity="0.6"/><circle cx="255.9" cy="669.8" r="6" fill="#b13259" opacity="0.7"/><circle cx="138.4" cy="674" r="5.6" fill="#bb3754" opacity="0.7"/><circle cx="226.5" cy="669.7" r="5.7" fill="#be3952" opacity="0.8"/><circle cx="187.1" cy="757.5" r="5.6" fill="#a12c61" opacity="0.6"/><circle cx="266.2" cy="637" r="6.4" fill="#882269" opacity="0.5"/><circle cx="178.1" cy="632.5" r="6.3" fill="#b13259" opacity="0.7"/><circle cx="192.4" cy="706.4" r="5.7" fill="#d04744" opacity="0.9"/><circle cx="190.4" cy="603.4" r="4.9" fill="#8c2368" opacity="0.5"/><circle cx="170.6" cy="673.5" r="4.7" fill="#c9414a" opacity="0.9"/><circle cx="239.8" cy="714.6" r="6" fill="#b73556" opacity="0.7"/><circle cx="198.7" cy="637.8" r="5.6" fill="#b13259" opacity="0.7"/><circle cx="158" cy="723.5" r="5.4" fill="#b33358" opacity="0.7"/><circle cx="207.9" cy="766" r="4.6" fill="#8a2369" opacity="0.5"/><circle cx="247.4" cy="616" r="4.8" fill="#942667" opacity="0.5"/><circle cx="207.6" cy="660.3" r="6.4" fill="#ca4249" opacity="0.8"/><circle cx="197.8" cy="599.1" r="6.4" fill="#902567" opacity="0.5"/><circle cx="115.2" cy="679.9" r="6.3" fill="#9d2a62" opacity="0.6"/><circle cx="204.6" cy="623.4" r="6.5" fill="#ac305c" opacity="0.6"/><circle cx="281.2" cy="714.1" r="5.8" fill="#8f2568" opacity="0.5"/><circle cx="211.9" cy="676.3" r="4.6" fill="#cc4348" opacity="0.9"/><circle cx="155.2" cy="740.3" r="5.1" fill="#a52d5f" opacity="0.6"/><circle cx="233" cy="647.1" r="4.9" fill="#b23359" opacity="0.7"/><circle cx="178.6" cy="720.4" r="5.4" fill="#c43d4e" opacity="0.8"/></g>
<ellipse cx="195" cy="671" rx="25" ry="22" fill="url(#coreB)"/>
<g filter="url(#blurB3)"><circle cx="184.6" cy="661.4" r="5.5" fill="#fde46e"/><circle cx="198.3" cy="662" r="5.5" fill="#fde46e"/><circle cx="210.8" cy="675.1" r="5.5" fill="#fcc040"/><circle cx="200.5" cy="684" r="5" fill="#f7a22c"/><circle cx="180" cy="684" r="5.5" fill="#f49030"/><circle cx="170" cy="666" r="5" fill="#f08030"/><circle cx="190" cy="672" r="6" fill="#fbb030"/><circle cx="218.7" cy="662" r="4.5" fill="#e8703a"/><circle cx="160" cy="680" r="4.5" fill="#e06a3a"/><circle cx="193" cy="698" r="5" fill="#e07040"/></g>
</g>
<circle cx="194.3" cy="669.9" r="4.7" fill="#000"/>
<text x="174.3" y="490" font-size="24.5" fill="#fff" textLength="130.8" lengthAdjust="spacingAndGlyphs">+ x = 17 μm</text>
<text x="354.5" y="844.6" font-size="24.5" text-anchor="end" fill="#fff">Remote</text>
<text x="354.5" y="875" font-size="24.5" text-anchor="end" fill="#fff">excitation</text>
<text x="173.3" y="875" font-size="24.5" fill="#fff">4.5 K</text>
<rect x="33" y="865" width="111" height="8" fill="#fff"/>
<line x1="365.3" y1="550" x2="365.3" y2="780" stroke="#ececec" stroke-width="1"/>
<rect x="367.3" y="564.4" width="25.7" height="199" fill="url(#cbar)"/>
<rect x="367.3" y="563.4" width="25.7" height="2.5" fill="#b0b0b0"/>
<text x="407.6" y="572.8" font-size="28.5">7</text>
<text x="408" y="772.3" font-size="30">–3</text>
<text transform="translate(432.5 665) rotate(-90)" font-size="28" text-anchor="middle"><tspan font-style="italic">I</tspan><tspan font-size="19" dy="8.7">PL</tspan><tspan dy="-8.7"> Ln(kC/s)</tspan></text>
<text x="499" y="30.3" font-size="41" font-weight="bold">c</text>
<line x1="617.8" y1="142.2" x2="991.3" y2="142.2" stroke="#555" stroke-width="1.1" stroke-dasharray="4.2 3"/>
<path d="M642.9 67.1h0M644.4 60.7h0M646 61.4h0M647.5 69.7h0M649.1 68.7h0M650.7 69.8h0M652.2 64.5h0M653.8 67.6h0M655.3 63.7h0M656.9 76.2h0M658.4 59.8h0M660 67.8h0M661.6 64.1h0M663.1 68h0M664.7 69.2h0M666.2 65.1h0M667.8 63.4h0M669.4 68.4h0M670.9 68.1h0M672.5 64.1h0M674 71.6h0M675.6 74.7h0M677.1 65.6h0M678.7 70.7h0M680.3 76.8h0M681.8 71.5h0M683.4 69.8h0M684.9 73.3h0M686.5 74.8h0M688 67.5h0M689.6 63.4h0M691.2 68.9h0M692.7 71.4h0M694.3 66h0M695.8 64.5h0M697.4 69.4h0M699 65.4h0M700.5 63.1h0M702.1 69.1h0M703.6 72.1h0M705.2 66.6h0M706.7 67.2h0M708.3 63.2h0M709.9 74.7h0M711.4 71.8h0M713 72.8h0M714.5 77.2h0M716.1 68.4h0M717.7 66.6h0M719.2 72.9h0M720.8 62.8h0M722.3 65.7h0M723.9 66.9h0M725.4 68.1h0M727 65.7h0M728.6 76.9h0M730.1 67.8h0M731.7 68.2h0M733.2 79.9h0M734.8 70h0M736.3 73.2h0M737.9 68.7h0M739.5 74.9h0M741 73.3h0M742.6 72.1h0M744.1 78.4h0M745.7 71.9h0M747.3 75.9h0M748.8 73.6h0M750.4 79.2h0M751.9 72.2h0M753.5 75.3h0M755 79.9h0M756.6 76.9h0M758.2 74.9h0M759.7 73.4h0M761.3 90.7h0M762.8 80.2h0M764.4 83.5h0M765.9 87.6h0M767.5 93.6h0M769.1 84.4h0M770.6 98.3h0M772.2 91.4h0M773.7 90h0M775.3 106.2h0M776.9 102.3h0M778.4 109.8h0M780 105.1h0M781.5 102.1h0M783.1 102.9h0M784.6 124.7h0M786.2 122.7h0M787.8 120.6h0M789.3 120.8h0M790.9 131.1h0M792.4 141.8h0M794 142.3h0M795.6 149.8h0M797.1 157.1h0M798.7 166.5h0M800.2 168.5h0M801.8 176.9h0M803.3 187.5h0M804.9 197.4h0M806.5 193.2h0M808 180.7h0M809.6 164.6h0M811.1 163.9h0M812.7 163h0M814.2 143.3h0M815.8 141.2h0M817.4 128.1h0M818.9 132.8h0M820.5 130.6h0M822 131h0M823.6 113.6h0M825.2 103.8h0M826.7 116.6h0M828.3 112.5h0M829.8 103.4h0M831.4 107.5h0M832.9 102.2h0M834.5 100.1h0M836.1 95.3h0M837.6 88.9h0M839.2 92.1h0M840.7 86h0M842.3 90.7h0M843.9 85.6h0M845.4 96h0M847 91.4h0M848.5 79.4h0M850.1 84.9h0M851.6 78.2h0M853.2 77.4h0M854.8 72.7h0M856.3 74.3h0M857.9 72.5h0M859.4 77.2h0M861 79.3h0M862.5 78.9h0M864.1 77.1h0M865.7 79.7h0M867.2 76.4h0M868.8 73.7h0M870.3 71.6h0M871.9 74h0M873.5 81.3h0M875 72h0M876.6 70.3h0M878.1 65.9h0M879.7 68h0M881.2 73.6h0M882.8 73.8h0M884.4 60.4h0M885.9 66.2h0M887.5 60.9h0M889 59.3h0M890.6 73.3h0M892.1 67.3h0M893.7 66.8h0M895.3 66.2h0M896.8 66.2h0M898.4 67.7h0M899.9 67.7h0M901.5 75.7h0M903.1 69.2h0M904.6 71.9h0M906.2 67.6h0M907.7 70.4h0M909.3 65.1h0M910.8 64.1h0M912.4 66.5h0M914 66.4h0M915.5 67.4h0M917.1 69.9h0M918.6 68.5h0M920.2 70.1h0M921.8 65.8h0M923.3 67.6h0M924.9 64.8h0M926.4 74h0M928 63.3h0M929.5 71.2h0M931.1 71h0M932.7 68.4h0M934.2 70.2h0M935.8 66h0M937.3 70.2h0M938.9 72.5h0M940.4 71.5h0M942 61.1h0M943.6 67.2h0M945.1 73h0M946.7 67.3h0M948.2 74.8h0M949.8 58.7h0M951.4 74.6h0M952.9 65h0M954.5 64.7h0M956 74.3h0M957.6 65.8h0M959.1 62.5h0M960.7 65h0M962.3 66h0M963.8 62.7h0M965.4 66.5h0M966.9 65.6h0M968.5 67.9h0M970 64.2h0M971.6 71.8h0M973.2 63.4h0M974.7 69.7h0M976.3 72.5h0M977.8 65.5h0M979.4 59.1h0M981 62.6h0M982.5 69.7h0M984.1 63.9h0M985.6 69.4h0M987.2 67.8h0M988.7 66.8h0M990.3 78.3h0M991.9 66.3h0" stroke="#000" stroke-width="5" stroke-linecap="round" fill="none"/>
<path d="M642.9 67.3L643.6 67.3L644.4 67.3L645.2 67.3L646 67.3L646.8 67.3L647.5 67.3L648.3 67.3L649.1 67.3L649.9 67.3L650.7 67.3L651.4 67.3L652.2 67.3L653 67.3L653.8 67.3L654.6 67.3L655.3 67.3L656.1 67.3L656.9 67.3L657.7 67.3L658.4 67.3L659.2 67.3L660 67.3L660.8 67.3L661.6 67.3L662.3 67.3L663.1 67.3L663.9 67.4L664.7 67.4L665.5 67.4L666.2 67.4L667 67.4L667.8 67.4L668.6 67.4L669.4 67.4L670.1 67.4L670.9 67.4L671.7 67.4L672.5 67.4L673.2 67.4L674 67.4L674.8 67.5L675.6 67.5L676.4 67.5L677.1 67.5L677.9 67.5L678.7 67.5L679.5 67.5L680.3 67.5L681 67.5L681.8 67.6L682.6 67.6L683.4 67.6L684.2 67.6L684.9 67.6L685.7 67.6L686.5 67.6L687.3 67.7L688 67.7L688.8 67.7L689.6 67.7L690.4 67.7L691.2 67.8L691.9 67.8L692.7 67.8L693.5 67.8L694.3 67.8L695.1 67.9L695.8 67.9L696.6 67.9L697.4 67.9L698.2 68L699 68L699.7 68L700.5 68.1L701.3 68.1L702.1 68.1L702.9 68.2L703.6 68.2L704.4 68.2L705.2 68.3L706 68.3L706.7 68.4L707.5 68.4L708.3 68.5L709.1 68.5L709.9 68.6L710.6 68.6L711.4 68.7L712.2 68.7L713 68.8L713.8 68.8L714.5 68.9L715.3 69L716.1 69L716.9 69.1L717.7 69.2L718.4 69.3L719.2 69.3L720 69.4L720.8 69.5L721.5 69.6L722.3 69.7L723.1 69.8L723.9 69.9L724.7 70L725.4 70.1L726.2 70.2L727 70.3L727.8 70.4L728.6 70.5L729.3 70.7L730.1 70.8L730.9 70.9L731.7 71.1L732.5 71.2L733.2 71.4L734 71.5L734.8 71.7L735.6 71.9L736.3 72L737.1 72.2L737.9 72.4L738.7 72.6L739.5 72.8L740.2 73L741 73.3L741.8 73.5L742.6 73.7L743.4 74L744.1 74.2L744.9 74.5L745.7 74.8L746.5 75.1L747.3 75.4L748 75.7L748.8 76L749.6 76.3L750.4 76.7L751.1 77L751.9 77.4L752.7 77.8L753.5 78.2L754.3 78.6L755 79.1L755.8 79.5L756.6 80L757.4 80.5L758.2 81L758.9 81.5L759.7 82L760.5 82.6L761.3 83.2L762.1 83.8L762.8 84.4L763.6 85.1L764.4 85.7L765.2 86.4L765.9 87.2L766.7 87.9L767.5 88.7L768.3 89.5L769.1 90.4L769.8 91.3L770.6 92.2L771.4 93.1L772.2 94.1L773 95.2L773.7 96.2L774.5 97.3L775.3 98.5L776.1 99.7L776.9 100.9L777.6 102.2L778.4 103.5L779.2 104.9L780 106.3L780.8 107.8L781.5 109.3L782.3 110.9L783.1 112.6L783.9 114.3L784.6 116.1L785.4 118L786.2 119.9L787 121.9L787.8 124L788.5 126.2L789.3 128.4L790.1 130.7L790.9 133.1L791.7 135.7L792.4 138.3L793.2 141L794 143.8L794.8 146.7L795.6 149.7L796.3 152.8L797.1 156.1L797.9 159.5L798.7 163L799.4 166.6L800.2 170.4L801 174.3L801.8 178.4L802.6 182.6L803.3 187L804.1 191.6L804.9 196.3L805.7 191.6L806.5 187L807.2 182.6L808 178.4L808.8 174.3L809.6 170.4L810.4 166.6L811.1 163L811.9 159.5L812.7 156.1L813.5 152.8L814.2 149.7L815 146.7L815.8 143.8L816.6 141L817.4 138.3L818.1 135.7L818.9 133.1L819.7 130.7L820.5 128.4L821.3 126.2L822 124L822.8 121.9L823.6 119.9L824.4 118L825.2 116.1L825.9 114.3L826.7 112.6L827.5 110.9L828.3 109.3L829 107.8L829.8 106.3L830.6 104.9L831.4 103.5L832.2 102.2L832.9 100.9L833.7 99.7L834.5 98.5L835.3 97.3L836.1 96.2L836.8 95.2L837.6 94.1L838.4 93.1L839.2 92.2L840 91.3L840.7 90.4L841.5 89.5L842.3 88.7L843.1 87.9L843.9 87.2L844.6 86.4L845.4 85.7L846.2 85.1L847 84.4L847.7 83.8L848.5 83.2L849.3 82.6L850.1 82L850.9 81.5L851.6 81L852.4 80.5L853.2 80L854 79.5L854.8 79.1L855.5 78.6L856.3 78.2L857.1 77.8L857.9 77.4L858.7 77L859.4 76.7L860.2 76.3L861 76L861.8 75.7L862.5 75.4L863.3 75.1L864.1 74.8L864.9 74.5L865.7 74.2L866.4 74L867.2 73.7L868 73.5L868.8 73.3L869.6 73L870.3 72.8L871.1 72.6L871.9 72.4L872.7 72.2L873.5 72L874.2 71.9L875 71.7L875.8 71.5L876.6 71.4L877.3 71.2L878.1 71.1L878.9 70.9L879.7 70.8L880.5 70.7L881.2 70.5L882 70.4L882.8 70.3L883.6 70.2L884.4 70.1L885.1 70L885.9 69.9L886.7 69.8L887.5 69.7L888.3 69.6L889 69.5L889.8 69.4L890.6 69.3L891.4 69.3L892.1 69.2L892.9 69.1L893.7 69L894.5 69L895.3 68.9L896 68.8L896.8 68.8L897.6 68.7L898.4 68.7L899.2 68.6L899.9 68.6L900.7 68.5L901.5 68.5L902.3 68.4L903.1 68.4L903.8 68.3L904.6 68.3L905.4 68.2L906.2 68.2L906.9 68.2L907.7 68.1L908.5 68.1L909.3 68.1L910.1 68L910.8 68L911.6 68L912.4 67.9L913.2 67.9L914 67.9L914.7 67.9L915.5 67.8L916.3 67.8L917.1 67.8L917.9 67.8L918.6 67.8L919.4 67.7L920.2 67.7L921 67.7L921.8 67.7L922.5 67.7L923.3 67.6L924.1 67.6L924.9 67.6L925.6 67.6L926.4 67.6L927.2 67.6L928 67.6L928.8 67.5L929.5 67.5L930.3 67.5L931.1 67.5L931.9 67.5L932.7 67.5L933.4 67.5L934.2 67.5L935 67.5L935.8 67.4L936.6 67.4L937.3 67.4L938.1 67.4L938.9 67.4L939.7 67.4L940.4 67.4L941.2 67.4L942 67.4L942.8 67.4L943.6 67.4L944.3 67.4L945.1 67.4L945.9 67.4L946.7 67.3L947.5 67.3L948.2 67.3L949 67.3L949.8 67.3L950.6 67.3L951.4 67.3L952.1 67.3L952.9 67.3L953.7 67.3L954.5 67.3L955.2 67.3L956 67.3L956.8 67.3L957.6 67.3L958.4 67.3L959.1 67.3L959.9 67.3L960.7 67.3L961.5 67.3L962.3 67.3L963 67.3L963.8 67.3L964.6 67.3L965.4 67.3L966.2 67.3L966.9 67.3L967.7 67.3L968.5 67.3L969.3 67.2L970 67.2L970.8 67.2L971.6 67.2L972.4 67.2L973.2 67.2L973.9 67.2L974.7 67.2L975.5 67.2L976.3 67.2L977.1 67.2L977.8 67.2L978.6 67.2L979.4 67.2L980.2 67.2L981 67.2L981.7 67.2L982.5 67.2L983.3 67.2L984.1 67.2L984.8 67.2L985.6 67.2L986.4 67.2L987.2 67.2L988 67.2L988.7 67.2L989.5 67.2L990.3 67.2L991.1 67.2L991.9 67.2" stroke="#d8262a" stroke-width="2" fill="none" stroke-linejoin="round"/>
<rect x="617.8" y="29.7" width="373.5" height="187.6" fill="none" stroke="#2a2a2a" stroke-width="2"/>
<path d="M649.1 217.3v-4.5M649.1 29.7v4.5M727 217.3v-4.5M727 29.7v4.5M804.9 217.3v-4.5M804.9 29.7v4.5M882.8 217.3v-4.5M882.8 29.7v4.5M960.7 217.3v-4.5M960.7 29.7v4.5M617.8 142.2h4.7M991.3 142.2h-4.7M617.8 67.2h4.7M991.3 67.2h-4.7" stroke="#2a2a2a" stroke-width="1.6" fill="none"/>
<text x="605.8" y="77.3" font-size="27.2" text-anchor="end">1.0</text>
<text x="605.8" y="152.3" font-size="27.2" text-anchor="end">0.5</text>
<text x="605.8" y="227.4" font-size="27.2" text-anchor="end">0.0</text>
<text x="649.4" y="253.7" font-size="28.6" text-anchor="middle">–50</text>
<text x="727.3" y="253.7" font-size="28.6" text-anchor="middle">–25</text>
<text x="805.2" y="253.7" font-size="28.6" text-anchor="middle">0</text>
<text x="883.1" y="253.7" font-size="28.6" text-anchor="middle">25</text>
<text x="961" y="253.7" font-size="28.6" text-anchor="middle">50</text>
<text x="805" y="295.5" font-size="28" text-anchor="middle">Δ<tspan font-style="italic">t</tspan> (ns)</text>
<text transform="translate(538 144) rotate(-90)" font-size="29.5" text-anchor="middle"><tspan font-style="italic">g</tspan><tspan font-size="17" dy="-12">(2)</tspan><tspan dy="12">(Δ</tspan><tspan font-style="italic">t</tspan>)</text>
<text x="631.5" y="172.5" font-size="20.5">Local</text>
<text x="631.5" y="203.7" font-size="20.5">x = 0 μm</text>
<text x="984" y="177" font-size="20.5" text-anchor="end" textLength="162" lengthAdjust="spacingAndGlyphs"><tspan font-family="Liberation Serif, serif" font-style="italic">τ</tspan> = 6.7 +/– 0.5 ns</text>
<text x="982" y="204" font-size="20.5" text-anchor="end"><tspan font-style="italic">g</tspan><tspan font-size="14" dy="-10">(2)</tspan><tspan dy="10">(0) = 0.14</tspan></text>
<text x="498.6" y="370.7" font-size="41" font-weight="bold">d</text>
<line x1="619" y1="472.2" x2="991.3" y2="472.2" stroke="#555" stroke-width="1.1" stroke-dasharray="4.2 3"/>
<path d="M643.5 397.7h0M645.4 389h0M647.3 391.5h0M649.3 391.7h0M651.2 384.4h0M653.1 407.7h0M655.1 403h0M657 408.8h0M658.9 398.8h0M660.9 389.7h0M662.8 398.2h0M664.7 394h0M666.7 413.9h0M668.6 397h0M670.5 405.7h0M672.4 383.7h0M674.4 391.1h0M676.3 390.6h0M678.2 399h0M680.2 393.6h0M682.1 393.3h0M684 401.7h0M686 403.1h0M687.9 400h0M689.8 404.2h0M691.8 404.3h0M693.7 401.9h0M695.6 405.7h0M697.6 393.5h0M699.5 413.2h0M701.4 393.4h0M703.4 405.6h0M705.3 405.2h0M707.2 412h0M709.2 402.3h0M711.1 403.5h0M713 400.1h0M714.9 406.4h0M716.9 401.6h0M718.8 387.7h0M720.7 399.7h0M722.7 408.2h0M724.6 396.1h0M726.5 405.4h0M728.5 400h0M730.4 400.4h0M732.3 409.2h0M734.3 422.5h0M736.2 410.1h0M738.1 403.4h0M740.1 411.8h0M742 405.8h0M743.9 402.2h0M745.9 415.7h0M747.8 402h0M749.7 399.8h0M751.7 405.4h0M753.6 405.8h0M755.5 407.7h0M757.5 399.5h0M759.4 418h0M761.3 421h0M763.2 417.7h0M765.2 432h0M767.1 439.2h0M769 435.6h0M771 427.4h0M772.9 428.9h0M774.8 447.9h0M776.8 453.4h0M778.7 443.3h0M780.6 445.2h0M782.6 447.3h0M784.5 444.7h0M786.4 443.8h0M788.4 455.9h0M790.3 457h0M792.2 475.5h0M794.2 481h0M796.1 474.4h0M798 476.4h0M800 481.7h0M801.9 489h0M803.8 494.1h0M805.7 499.1h0M807.7 513.3h0M809.6 498.3h0M811.5 482.4h0M813.5 475.5h0M815.4 487.5h0M817.3 460.3h0M819.3 468.9h0M821.2 462.8h0M823.1 454.6h0M825.1 446.8h0M827 461.2h0M828.9 437.8h0M830.9 442.2h0M832.8 446.3h0M834.7 439.4h0M836.7 452.6h0M838.6 437.5h0M840.5 428.4h0M842.5 433.7h0M844.4 428.5h0M846.3 425.2h0M848.3 421.9h0M850.2 412.2h0M852.1 419.3h0M854 419.9h0M856 411.9h0M857.9 398h0M859.8 416.8h0M861.8 408.7h0M863.7 424.9h0M865.6 399.8h0M867.6 404.6h0M869.5 398.2h0M871.4 408.9h0M873.4 416.3h0M875.3 399.7h0M877.2 400.2h0M879.2 413h0M881.1 417.4h0M883 401h0M885 405.7h0M886.9 382.2h0M888.8 408.5h0M890.8 407.3h0M892.7 403.5h0M894.6 416h0M896.5 409.3h0M898.5 388.1h0M900.4 402.4h0M902.3 406.1h0M904.3 411.3h0M906.2 395.8h0M908.1 394.9h0M910.1 398.1h0M912 403.2h0M913.9 397.3h0M915.9 396.5h0M917.8 405.1h0M919.7 394.2h0M921.7 416.7h0M923.6 409.7h0M925.5 401.5h0M927.5 399.7h0M929.4 408.3h0M931.3 395.9h0M933.3 389.8h0M935.2 394.7h0M937.1 396.5h0M939.1 391.5h0M941 394.9h0M942.9 407.6h0M944.8 399.8h0M946.8 387.4h0M948.7 407.4h0M950.6 397.4h0M952.6 401.1h0M954.5 405.3h0M956.4 406.1h0M958.4 396.9h0M960.3 395.1h0M962.2 395.1h0M964.2 409.6h0M966.1 400h0" stroke="#000" stroke-width="5" stroke-linecap="round" fill="none"/>
<path d="M643.5 397.6L644.2 397.6L645 397.6L645.8 397.6L646.6 397.7L647.4 397.7L648.1 397.7L648.9 397.7L649.7 397.7L650.5 397.7L651.3 397.7L652 397.7L652.8 397.8L653.6 397.8L654.4 397.8L655.2 397.8L655.9 397.8L656.7 397.8L657.5 397.9L658.3 397.9L659 397.9L659.8 397.9L660.6 397.9L661.4 398L662.2 398L662.9 398L663.7 398L664.5 398L665.3 398.1L666.1 398.1L666.8 398.1L667.6 398.1L668.4 398.2L669.2 398.2L670 398.2L670.7 398.2L671.5 398.3L672.3 398.3L673.1 398.3L673.8 398.4L674.6 398.4L675.4 398.4L676.2 398.5L677 398.5L677.7 398.5L678.5 398.6L679.3 398.6L680.1 398.6L680.9 398.7L681.6 398.7L682.4 398.8L683.2 398.8L684 398.9L684.8 398.9L685.5 398.9L686.3 399L687.1 399L687.9 399.1L688.6 399.1L689.4 399.2L690.2 399.3L691 399.3L691.8 399.4L692.5 399.4L693.3 399.5L694.1 399.5L694.9 399.6L695.7 399.7L696.4 399.7L697.2 399.8L698 399.9L698.8 400L699.6 400L700.3 400.1L701.1 400.2L701.9 400.3L702.7 400.4L703.5 400.4L704.2 400.5L705 400.6L705.8 400.7L706.6 400.8L707.3 400.9L708.1 401L708.9 401.1L709.7 401.2L710.5 401.3L711.2 401.4L712 401.6L712.8 401.7L713.6 401.8L714.4 401.9L715.1 402L715.9 402.2L716.7 402.3L717.5 402.5L718.3 402.6L719 402.7L719.8 402.9L720.6 403.1L721.4 403.2L722.1 403.4L722.9 403.5L723.7 403.7L724.5 403.9L725.3 404.1L726 404.3L726.8 404.5L727.6 404.7L728.4 404.9L729.2 405.1L729.9 405.3L730.7 405.5L731.5 405.7L732.3 406L733.1 406.2L733.8 406.4L734.6 406.7L735.4 406.9L736.2 407.2L736.9 407.5L737.7 407.8L738.5 408.1L739.3 408.4L740.1 408.7L740.8 409L741.6 409.3L742.4 409.6L743.2 410L744 410.3L744.7 410.7L745.5 411L746.3 411.4L747.1 411.8L747.9 412.2L748.6 412.6L749.4 413L750.2 413.4L751 413.9L751.7 414.3L752.5 414.8L753.3 415.3L754.1 415.8L754.9 416.3L755.6 416.8L756.4 417.3L757.2 417.9L758 418.5L758.8 419L759.5 419.6L760.3 420.2L761.1 420.9L761.9 421.5L762.7 422.2L763.4 422.9L764.2 423.6L765 424.3L765.8 425L766.5 425.8L767.3 426.6L768.1 427.4L768.9 428.2L769.7 429L770.4 429.9L771.2 430.8L772 431.7L772.8 432.6L773.6 433.6L774.3 434.6L775.1 435.6L775.9 436.7L776.7 437.7L777.5 438.8L778.2 440L779 441.1L779.8 442.3L780.6 443.6L781.4 444.8L782.1 446.1L782.9 447.5L783.7 448.8L784.5 450.2L785.2 451.7L786 453.2L786.8 454.7L787.6 456.2L788.4 457.9L789.1 459.5L789.9 461.2L790.7 462.9L791.5 464.7L792.3 466.6L793 468.5L793.8 470.4L794.6 472.4L795.4 474.5L796.2 476.6L796.9 478.7L797.7 480.9L798.5 483.2L799.3 485.6L800 488L800.8 490.5L801.6 493L802.4 495.6L803.2 498.3L803.9 501L804.7 503.9L805.5 506.8L806.3 503.9L807.1 501L807.8 498.3L808.6 495.6L809.4 493L810.2 490.5L811 488L811.7 485.6L812.5 483.2L813.3 480.9L814.1 478.7L814.8 476.6L815.6 474.5L816.4 472.4L817.2 470.4L818 468.5L818.7 466.6L819.5 464.7L820.3 462.9L821.1 461.2L821.9 459.5L822.6 457.9L823.4 456.2L824.2 454.7L825 453.2L825.8 451.7L826.5 450.2L827.3 448.8L828.1 447.5L828.9 446.1L829.6 444.8L830.4 443.6L831.2 442.3L832 441.1L832.8 440L833.5 438.8L834.3 437.7L835.1 436.7L835.9 435.6L836.7 434.6L837.4 433.6L838.2 432.6L839 431.7L839.8 430.8L840.6 429.9L841.3 429L842.1 428.2L842.9 427.4L843.7 426.6L844.5 425.8L845.2 425L846 424.3L846.8 423.6L847.6 422.9L848.3 422.2L849.1 421.5L849.9 420.9L850.7 420.2L851.5 419.6L852.2 419L853 418.5L853.8 417.9L854.6 417.3L855.4 416.8L856.1 416.3L856.9 415.8L857.7 415.3L858.5 414.8L859.3 414.3L860 413.9L860.8 413.4L861.6 413L862.4 412.6L863.1 412.2L863.9 411.8L864.7 411.4L865.5 411L866.3 410.7L867 410.3L867.8 410L868.6 409.6L869.4 409.3L870.2 409L870.9 408.7L871.7 408.4L872.5 408.1L873.3 407.8L874.1 407.5L874.8 407.2L875.6 406.9L876.4 406.7L877.2 406.4L877.9 406.2L878.7 406L879.5 405.7L880.3 405.5L881.1 405.3L881.8 405.1L882.6 404.9L883.4 404.7L884.2 404.5L885 404.3L885.7 404.1L886.5 403.9L887.3 403.7L888.1 403.5L888.9 403.4L889.6 403.2L890.4 403.1L891.2 402.9L892 402.7L892.7 402.6L893.5 402.5L894.3 402.3L895.1 402.2L895.9 402L896.6 401.9L897.4 401.8L898.2 401.7L899 401.6L899.8 401.4L900.5 401.3L901.3 401.2L902.1 401.1L902.9 401L903.7 400.9L904.4 400.8L905.2 400.7L906 400.6L906.8 400.5L907.5 400.4L908.3 400.4L909.1 400.3L909.9 400.2L910.7 400.1L911.4 400L912.2 400L913 399.9L913.8 399.8L914.6 399.7L915.3 399.7L916.1 399.6L916.9 399.5L917.7 399.5L918.5 399.4L919.2 399.4L920 399.3L920.8 399.3L921.6 399.2L922.4 399.1L923.1 399.1L923.9 399L924.7 399L925.5 398.9L926.2 398.9L927 398.9L927.8 398.8L928.6 398.8L929.4 398.7L930.1 398.7L930.9 398.6L931.7 398.6L932.5 398.6L933.3 398.5L934 398.5L934.8 398.5L935.6 398.4L936.4 398.4L937.2 398.4L937.9 398.3L938.7 398.3L939.5 398.3L940.3 398.2L941 398.2L941.8 398.2L942.6 398.2L943.4 398.1L944.2 398.1L944.9 398.1L945.7 398.1L946.5 398L947.3 398L948.1 398L948.8 398L949.6 398L950.4 397.9L951.2 397.9L952 397.9L952.7 397.9L953.5 397.9L954.3 397.8L955.1 397.8L955.8 397.8L956.6 397.8L957.4 397.8L958.2 397.8L959 397.7L959.7 397.7L960.5 397.7L961.3 397.7L962.1 397.7L962.9 397.7L963.6 397.7L964.4 397.7L965.2 397.6L966 397.6L966.8 397.6L967.5 397.6" stroke="#d8262a" stroke-width="2" fill="none" stroke-linejoin="round"/>
<rect x="619" y="359.7" width="372.3" height="187.6" fill="none" stroke="#2a2a2a" stroke-width="2"/>
<path d="M649.7 547.3v-4.5M649.7 359.7v4.5M727.6 547.3v-4.5M727.6 359.7v4.5M805.5 547.3v-4.5M805.5 359.7v4.5M883.4 547.3v-4.5M883.4 359.7v4.5M961.3 547.3v-4.5M961.3 359.7v4.5M619 472.2h4.7M991.3 472.2h-4.7M619 397.2h4.7M991.3 397.2h-4.7" stroke="#2a2a2a" stroke-width="1.6" fill="none"/>
<text x="605.8" y="407.3" font-size="27.2" text-anchor="end">1.0</text>
<text x="605.8" y="482.3" font-size="27.2" text-anchor="end">0.5</text>
<text x="605.8" y="557.4" font-size="27.2" text-anchor="end">0.0</text>
<text x="650" y="583.7" font-size="28.6" text-anchor="middle">–50</text>
<text x="727.9" y="583.7" font-size="28.6" text-anchor="middle">–25</text>
<text x="805.8" y="583.7" font-size="28.6" text-anchor="middle">0</text>
<text x="883.7" y="583.7" font-size="28.6" text-anchor="middle">25</text>
<text x="961.6" y="583.7" font-size="28.6" text-anchor="middle">50</text>
<text x="805" y="625.5" font-size="28" text-anchor="middle">Δ<tspan font-style="italic">t</tspan> (ns)</text>
<text transform="translate(538 474) rotate(-90)" font-size="29.5" text-anchor="middle"><tspan font-style="italic">g</tspan><tspan font-size="17" dy="-12">(2)</tspan><tspan dy="12">(Δ</tspan><tspan font-style="italic">t</tspan>)</text>
<text x="631.5" y="509.5" font-size="20.5">Remote</text>
<text x="631.5" y="539.2" font-size="20.5">x = 17 μm</text>
<text x="984" y="493.3" font-size="20.5" text-anchor="end" textLength="162" lengthAdjust="spacingAndGlyphs"><tspan font-family="Liberation Serif, serif" font-style="italic">τ</tspan> = 9.3 +/– 0.3 ns</text>
<text x="982" y="522.4" font-size="20.5" text-anchor="end"><tspan font-style="italic">g</tspan><tspan font-size="14" dy="-10">(2)</tspan><tspan dy="10">(0) = 0.27</tspan></text>
<text x="497.8" y="695.3" font-size="41" font-weight="bold">e</text>
<path d="M653.6 694.4H692.2" stroke="#000" stroke-width="5"/>
<path d="M653.6 725.5H692.2" stroke="#d8262a" stroke-width="5"/>
<text x="703.5" y="700.4" font-size="20.8">25 nW (local)</text>
<text x="703.5" y="731.9" font-size="20.8">10 μW (remote)</text>
<path d="M651 958.7L651.7 959.1L652.3 958.4L653 958L653.7 957.5L654.4 958.2L655 958.6L655.7 958.7L656.4 957.8L657.1 957.2L657.7 958.1L658.4 959L659.1 958.8L659.8 957.2L660.4 958.1L661.1 959.3L661.8 958.3L662.5 959L663.1 958.6L663.8 958.5L664.5 958.7L665.2 957.9L665.8 958.3L666.5 958.6L667.2 958L667.8 957.7L668.5 959.3L669.2 958.4L669.9 958.8L670.5 958.3L671.2 959L671.9 958.2L672.6 958.3L673.2 958.4L673.9 958.9L674.6 958.5L675.3 958.9L675.9 959.1L676.6 958.1L677.3 958.9L678 957.5L678.6 957.8L679.3 959.5L680 958.1L680.7 958.9L681.3 958.2L682 958.2L682.7 959.5L683.4 958.4L684 958.4L684.7 957.6L685.4 959L686 957.8L686.7 958.9L687.4 958.4L688.1 958.8L688.7 957.3L689.4 957.9L690.1 956.7L690.8 957.8L691.4 957.7L692.1 957.7L692.8 958.6L693.5 958.3L694.1 957.4L694.8 958.5L695.5 958.1L696.2 958.2L696.8 957.8L697.5 958.5L698.2 958.3L698.9 958.1L699.5 958.2L700.2 958.8L700.9 957.7L701.5 959L702.2 959L702.9 959L703.6 957.6L704.2 958.5L704.9 958.8L705.6 958.9L706.3 958L706.9 958.9L707.6 959L708.3 957.8L709 959L709.6 958.4L710.3 958.2L711 958.5L711.7 958.3L712.3 957.4L713 958.6L713.7 959L714.4 959.4L715 958.4L715.7 958.5L716.4 958.1L717.1 958.5L717.7 958.5L718.4 958.7L719.1 958.6L719.7 958.1L720.4 958.5L721.1 958.2L721.8 957L722.4 957.9L723.1 959.2L723.8 957.1L724.5 958L725.1 958.8L725.8 957.7L726.5 958.2L727.2 958.6L727.8 958.6L728.5 958.9L729.2 958.2L729.9 957.6L730.5 958.4L731.2 958L731.9 957L732.6 959L733.2 958.1L733.9 958.4L734.6 958.9L735.2 958.9L735.9 958.2L736.6 957.9L737.3 958.6L737.9 958.2L738.6 957.8L739.3 958L740 957.7L740.6 957.9L741.3 957.9L742 957.1L742.7 957.8L743.3 958.1L744 957.8L744.7 958.8L745.4 958.4L746 957.7L746.7 957.8L747.4 957.2L748.1 958.2L748.7 959.1L749.4 956.9L750.1 957.5L750.8 958.8L751.4 957.3L752.1 958.1L752.8 959.3L753.4 958.4L754.1 958.4L754.8 957.1L755.5 958.6L756.1 958.3L756.8 958.3L757.5 958.3L758.2 958.6L758.8 957.9L759.5 957.4L760.2 957.6L760.9 958.6L761.5 958.7L762.2 957.9L762.9 958.4L763.6 958.4L764.2 959L764.9 956.7L765.6 957.3L766.3 958.5L766.9 957.3L767.6 957L768.3 959.3L768.9 958.2L769.6 958L770.3 957.3L771 957.7L771.6 957.7L772.3 957.4L773 955.8L773.7 955.1L774.3 956L775 955.1L775.7 951.4L776.4 952L777 949.9L777.7 947.8L778.4 946.2L779.1 944.9L779.7 945.1L780.4 946.3L781.1 946.3L781.8 947.6L782.4 947.9L783.1 950.2L783.8 951.8L784.5 952.1L785.1 950.8L785.8 952L786.5 952.8L787.1 951.6L787.8 950.9L788.5 949.5L789.2 948.9L789.8 941.6L790.5 925.6L791.2 894.9L791.9 846.1L792.5 791.3L793.2 755.1L793.9 756.2L794.6 793.7L795.2 847.8L795.9 897.9L796.6 930.3L797.3 947.1L797.9 952.8L798.6 953.1L799.3 946.7L800 939.6L800.6 930.6L801.3 930.7L802 939.9L802.6 948.3L803.3 955.9L804 956.4L804.7 956.4L805.3 958.5L806 957.8L806.7 956.4L807.4 957.2L808 957.8L808.7 957.3L809.4 957.5L810.1 956.7L810.7 956.9L811.4 957.4L812.1 957.6L812.8 957.3L813.4 956.4L814.1 957L814.8 956.9L815.5 957.4L816.1 958.2L816.8 957.8L817.5 957L818.2 957.3L818.8 958L819.5 958.5L820.2 957.4L820.8 957.7L821.5 957.8L822.2 957.8L822.9 957.4L823.5 957.4L824.2 957L824.9 957.1L825.6 956.8L826.2 957.2L826.9 957.9L827.6 957.7L828.3 957L828.9 956.7L829.6 955L830.3 954L831 955.8L831.6 957.7L832.3 956.7L833 957.8L833.7 957.5L834.3 958.8L835 956.9L835.7 957.5L836.3 958.1L837 958.2L837.7 958L838.4 958.1L839 958.2L839.7 958.8L840.4 957.3L841.1 958.1L841.7 958L842.4 958L843.1 959.6L843.8 957.8L844.4 958.3L845.1 958.3L845.8 958.1L846.5 958.8L847.1 957.6L847.8 958.6L848.5 958.7L849.2 958.7L849.8 958.1L850.5 957.7L851.2 958.6L851.9 959.1L852.5 957.5L853.2 958.9L853.9 957.4L854.5 958.2L855.2 958.6L855.9 958.6L856.6 957.9L857.2 957.6L857.9 958.3L858.6 957.6L859.3 956.9L859.9 958.3L860.6 958.9L861.3 958.9L862 959.1L862.6 958.6L863.3 958.7L864 959.1L864.7 957.9L865.3 959.9L866 959.1L866.7 957L867.4 957.6L868 957.9L868.7 957.9L869.4 957.1L870 957.9L870.7 958.2L871.4 959L872.1 958.3L872.7 958.7L873.4 958.7L874.1 958.7L874.8 958.3L875.4 958.4L876.1 957.7L876.8 959.1L877.5 958.3L878.1 957.1L878.8 958.2L879.5 957.5L880.2 957.5L880.8 957.4L881.5 957.8L882.2 959.1L882.9 958.4L883.5 958.5L884.2 959.2L884.9 958.5L885.6 959L886.2 959.3L886.9 958.1L887.6 958.3L888.2 958.7L888.9 958.8L889.6 958.6L890.3 958.5L890.9 958.5L891.6 958.3L892.3 958.5L893 958L893.6 957.9L894.3 958L895 958.6L895.7 958.6L896.3 958L897 958.4L897.7 958.3L898.4 959.8L899 959.9L899.7 958L900.4 958L901.1 957.4L901.7 957.8L902.4 958.1L903.1 958.2L903.7 959.1L904.4 957.7L905.1 958.6L905.8 957.9L906.4 958.1L907.1 958.1L907.8 957.7L908.5 958.5L909.1 958.5L909.8 958.8L910.5 958.5L911.2 957.2L911.8 958.5L912.5 957.5L913.2 957.7L913.9 957.8L914.5 957.7L915.2 958.9L915.9 958L916.6 957.2L917.2 958.7L917.9 958.3L918.6 958.7L919.3 958L919.9 958.9L920.6 957.2" stroke="#3c3c3c" stroke-width="2" fill="none" stroke-linejoin="round"/>
<path d="M651 958.7L651.7 960.2L652.3 956L653 957L653.7 957.6L654.4 957.6L655 958.7L655.7 958.5L656.4 957.3L657.1 957.1L657.7 957.1L658.4 958L659.1 958.8L659.8 958.5L660.4 956.8L661.1 956.4L661.8 958.7L662.5 958.8L663.1 956.7L663.8 957.3L664.5 957.4L665.2 959.9L665.8 958.7L666.5 958.9L667.2 958L667.8 960.4L668.5 956.6L669.2 957.9L669.9 957.7L670.5 959.7L671.2 958.3L671.9 956.5L672.6 960.2L673.2 957.8L673.9 957.3L674.6 959.1L675.3 957.2L675.9 958.6L676.6 956.7L677.3 957.6L678 957.9L678.6 955.7L679.3 957.2L680 956.6L680.7 959.7L681.3 959L682 957.2L682.7 957.1L683.4 958.3L684 957.2L684.7 959.6L685.4 958L686 959.7L686.7 957.8L687.4 958.8L688.1 959L688.7 958.2L689.4 955.9L690.1 959.5L690.8 959L691.4 956.9L692.1 958.8L692.8 956L693.5 957.9L694.1 958.1L694.8 957.8L695.5 956L696.2 957.4L696.8 957.6L697.5 957.9L698.2 960.2L698.9 959.3L699.5 956.4L700.2 957.2L700.9 957.6L701.5 957.4L702.2 958.9L702.9 957.8L703.6 959.4L704.2 957.7L704.9 959.1L705.6 958.5L706.3 957.7L706.9 958.6L707.6 957.4L708.3 957.7L709 957.8L709.6 956.6L710.3 960.1L711 960.2L711.7 957.5L712.3 957L713 955.7L713.7 957.3L714.4 957.2L715 959.3L715.7 957.3L716.4 957.4L717.1 959.6L717.7 959.4L718.4 958.4L719.1 957.9L719.7 961.9L720.4 958.1L721.1 957.9L721.8 958.5L722.4 957.9L723.1 957.7L723.8 959.5L724.5 957.7L725.1 958.5L725.8 959.4L726.5 958L727.2 956.4L727.8 960.1L728.5 960.3L729.2 960.3L729.9 955.7L730.5 958.5L731.2 958.3L731.9 959.2L732.6 959.4L733.2 960.8L733.9 958L734.6 957.9L735.2 960.7L735.9 959.5L736.6 959.1L737.3 958.2L737.9 957.9L738.6 956.8L739.3 956.5L740 956.8L740.6 956.5L741.3 959.7L742 958.9L742.7 956.7L743.3 957.8L744 958.1L744.7 960.7L745.4 960.5L746 957.2L746.7 957.7L747.4 958.5L748.1 958.6L748.7 960.3L749.4 957.6L750.1 956.8L750.8 956L751.4 958L752.1 958.3L752.8 959.4L753.4 956.5L754.1 955.9L754.8 958.8L755.5 957.6L756.1 957.9L756.8 958.7L757.5 961.1L758.2 958.4L758.8 957.1L759.5 959.7L760.2 958.9L760.9 962L761.5 956.2L762.2 957.1L762.9 957.7L763.6 958L764.2 958.5L764.9 957.7L765.6 958L766.3 957.9L766.9 957.6L767.6 957.3L768.3 955.5L768.9 959.2L769.6 957L770.3 958.1L771 958.7L771.6 960.2L772.3 956.4L773 958.3L773.7 957.8L774.3 956.1L775 957.9L775.7 956.2L776.4 955.9L777 954.4L777.7 953.7L778.4 955.5L779.1 952.7L779.7 953.5L780.4 952.8L781.1 952.9L781.8 951.4L782.4 953.8L783.1 952L783.8 951L784.5 953L785.1 950.2L785.8 953.9L786.5 952.8L787.1 953.7L787.8 953.7L788.5 954L789.2 952.2L789.8 948.7L790.5 942.5L791.2 926.3L791.9 904.2L792.5 884.6L793.2 865.7L793.9 866.4L794.6 882.2L795.2 902.8L795.9 925.6L796.6 940.6L797.3 947.5L797.9 952.1L798.6 946.7L799.3 945L800 941L800.6 941.4L801.3 943.9L802 946.9L802.6 951.4L803.3 952.6L804 955.2L804.7 954.6L805.3 954.4L806 957.3L806.7 953L807.4 956.6L808 957.4L808.7 953.8L809.4 953.3L810.1 956.9L810.7 956.8L811.4 952.2L812.1 956L812.8 958.7L813.4 957L814.1 953.8L814.8 955.5L815.5 955.5L816.1 954.9L816.8 955.6L817.5 957L818.2 958.6L818.8 956.1L819.5 958.1L820.2 956.8L820.8 954.6L821.5 956.2L822.2 956.8L822.9 956.9L823.5 956.1L824.2 955.9L824.9 958.8L825.6 956.9L826.2 955L826.9 956.3L827.6 958.2L828.3 958.2L828.9 960L829.6 958.4L830.3 955.4L831 957.6L831.6 958.6L832.3 958.3L833 957.7L833.7 957.8L834.3 958.1L835 958.7L835.7 956.9L836.3 955.8L837 958.5L837.7 958.5L838.4 956.3L839 959.7L839.7 958.6L840.4 958.4L841.1 957.7L841.7 958.3L842.4 959.1L843.1 957.6L843.8 959.5L844.4 960.2L845.1 960.6L845.8 957.1L846.5 960.3L847.1 957.5L847.8 957.2L848.5 957.1L849.2 958.3L849.8 958.8L850.5 958L851.2 958.9L851.9 959.8L852.5 956.6L853.2 959.3L853.9 955.9L854.5 957.5L855.2 958.7L855.9 957.6L856.6 956.6L857.2 959.9L857.9 959.4L858.6 959.5L859.3 958L859.9 957.7L860.6 958.2L861.3 959.1L862 958.9L862.6 956.7L863.3 956.8L864 958L864.7 959.9L865.3 957.4L866 957.9L866.7 957.9L867.4 956L868 957.2L868.7 959.5L869.4 959.4L870 956.5L870.7 958L871.4 957.1L872.1 958.4L872.7 959.4L873.4 957.8L874.1 956.2L874.8 957.7L875.4 959.6L876.1 958.5L876.8 958.8L877.5 957.9L878.1 956.8L878.8 955.6L879.5 957.8L880.2 958.7L880.8 958L881.5 958.1L882.2 958.6L882.9 958.1L883.5 958.1L884.2 959.6L884.9 957.4L885.6 958.6L886.2 959.3L886.9 957.5L887.6 958.7L888.2 955.9L888.9 957.5L889.6 958L890.3 959.1L890.9 958.6L891.6 957.1L892.3 959L893 957.2L893.6 960.8L894.3 957.9L895 957.1L895.7 957.7L896.3 958.1L897 956.9L897.7 959.2L898.4 959.4L899 958L899.7 956.6L900.4 957.6L901.1 958.4L901.7 957.8L902.4 957.6L903.1 959.7L903.7 961.7L904.4 959.4L905.1 960L905.8 958.9L906.4 959.7L907.1 959.2L907.8 957.6L908.5 958L909.1 958.2L909.8 956L910.5 958.7L911.2 958.6L911.8 956.5L912.5 959.5L913.2 960.2L913.9 956.5L914.5 957.7L915.2 957.4L915.9 957.3L916.6 957L917.2 958.7L917.9 958.2L918.6 959.5L919.3 957.9L919.9 957.8L920.6 958.7" stroke="#d3282c" stroke-width="2.2" fill="none" stroke-linejoin="round" opacity="0.85"/>
<path d="M649.6 739.4V970.7H921.3" stroke="#333" stroke-width="2" fill="none"/>
<path d="M921.3 739.4V970.7" stroke="#d8262a" stroke-width="1.6" fill="none" opacity="0.8"/>
<path d="M649.6 957.6h5M649.6 907.2h5M649.6 856.8h5M649.6 806.4h5M649.6 756h5M718.4 970.7v-5M785.8 970.7v-5M853.2 970.7v-5" stroke="#333" stroke-width="1.6" fill="none"/>
<path d="M921.3 957.6h-5M921.3 907.2h-5M921.3 856.8h-5M921.3 806.4h-5M921.3 756h-5" stroke="#d8262a" stroke-width="1.6" fill="none"/>
<text x="636" y="967.8" font-size="27" text-anchor="end">0</text>
<text x="636" y="917.4" font-size="27" text-anchor="end">4</text>
<text x="636" y="867" font-size="27" text-anchor="end">8</text>
<text x="636" y="816.6" font-size="27" text-anchor="end">12</text>
<text x="636" y="766.2" font-size="27" text-anchor="end">16</text>
<text x="933.5" y="967.8" font-size="27" fill="#c0272d">0.0</text>
<text x="933.5" y="917.4" font-size="27" fill="#c0272d">0.4</text>
<text x="933.5" y="867" font-size="27" fill="#c0272d">0.8</text>
<text x="933.5" y="816.6" font-size="27" fill="#c0272d">1.2</text>
<text x="933.5" y="766.2" font-size="27" fill="#c0272d">1.6</text>
<text x="651" y="1004" font-size="27" text-anchor="middle">1.4</text>
<text x="718.4" y="1004" font-size="27" text-anchor="middle">1.5</text>
<text x="785.8" y="1004" font-size="27" text-anchor="middle">1.6</text>
<text x="853.2" y="1004" font-size="27" text-anchor="middle">1.7</text>
<text x="920.6" y="1004" font-size="27" text-anchor="middle">1.8</text>
<text x="785.4" y="1045.6" font-size="28" text-anchor="middle" textLength="152.8" lengthAdjust="spacingAndGlyphs">Energy (eV)</text>
<text transform="translate(569 856) rotate(-90)" font-size="28" text-anchor="middle"><tspan font-style="italic">I</tspan><tspan font-size="19" dy="8">PL</tspan><tspan dy="-8"> (C/s)</tspan></text>
<text transform="translate(1016 856) rotate(-90)" font-size="28" text-anchor="middle" fill="#c0272d"><tspan font-style="italic">I</tspan><tspan font-size="19" dy="8">PL</tspan><tspan dy="-8"> (C/s)</tspan></text>
<text x="1059" y="31" font-size="41" font-weight="bold">f</text>
<text x="1057" y="65" font-size="27.5" fill="#1e9446" font-style="italic" textLength="338.5" lengthAdjust="spacingAndGlyphs">532 nm excitation (10 μW)</text>
<path d="M1216.8 75.8H1225.2V116H1233.4L1221.3 141.2L1209.2 116H1216.8Z" fill="#1c9647"/>
<rect x="1247.5" y="142" width="180.5" height="637.1" fill="#e7f1e6"/>
<rect x="1428" y="142" width="480" height="637.1" fill="#e4e3f1"/>
<g clip-path="url(#clipP)"><path d="M1400 552L1427.7 547.6L1432.7 550.2L1437.7 552L1442.7 553.3L1447.7 554.3L1452.7 555.4L1457.7 556.9L1462.7 558.9L1467.7 561.1L1472.7 563.2L1477.7 564.9L1482.7 566L1487.7 566.6L1492.7 566.8L1497.7 567.2L1502.7 567.9L1507.7 569L1512.7 570.5L1517.7 572.1L1522.7 573.3L1527.7 574L1532.7 574.2L1537.7 574.2L1542.7 574.2L1547.7 574.7L1552.7 575.8L1557.7 577.4L1562.7 579.2L1567.7 580.8L1572.7 581.9L1577.7 582.5L1582.7 582.8L1587.7 583.1L1592.7 583.7L1597.7 584.9L1602.7 586.4L1607.7 588.1L1612.7 589.6L1617.7 590.5L1622.7 590.8L1627.7 590.7L1632.7 590.4L1637.7 590.4L1642.7 590.8L1647.7 591.6L1652.7 592.7L1657.7 593.6L1662.7 594L1667.7 593.9L1672.7 593.4L1677.7 592.8L1682.7 592.5L1687.7 592.8L1692.7 593.6L1697.7 594.9L1702.7 596.1L1707.7 597.1L1712.7 597.6L1717.7 597.7L1722.7 597.7L1727.7 597.9L1732.7 598.6L1737.7 599.8L1742.7 601.4L1747.7 602.9L1752.7 604L1757.7 604.5L1762.7 604.5L1767.7 604.2L1772.7 603.9L1777.7 604L1782.7 604.5L1787.7 605.4L1792.7 606.3L1797.7 606.8L1802.7 606.8L1807.7 606.3L1812.7 605.5L1817.7 604.7L1822.7 604.4L1827.7 604.6L1832.7 605.4L1837.7 606.3L1842.7 607.1L1847.7 607.5L1852.7 607.4L1857.7 607L1862.7 606.7L1867.7 606.8L1872.7 607.4L1877.7 608.6L1882.7 609.9L1887.7 611.1L1892.7 611.8L1897.7 611.9L1906.5 611.6L1930 611.6L1930 640L1400 640Z" fill="#15152b" filter="url(#blurP)"/></g>
<g clip-path="url(#clipG)"><path d="M1256.9 330L1257.9 335L1259 340L1260 345L1261.1 350L1262.4 355L1263.9 360L1265.4 365L1266.9 370L1268.4 375L1269.7 380L1270.5 385L1271.3 390L1272.2 395L1273 400L1273.5 405L1274 410L1274.4 415L1274.9 420L1275.8 425L1276.7 430L1277.7 435L1278.7 440L1279.3 445L1279.8 450L1280.3 455L1280.8 460L1282 465L1284 470L1286.1 475L1288.1 480L1289.8 485L1290.8 490L1291.8 495L1292.8 500L1294 505L1296 510L1298 515L1300 520L1302 525L1303.9 530L1305.8 535L1307.7 540L1309.6 545L1311.3 550L1312.9 555L1314.4 560L1316 565L1317.6 570L1319.1 575L1320.6 580L1322.2 585L1323.7 590L1325.4 595L1327 600L1333.2 605L1339.5 610L1456.3 610L1452.2 605L1448 600L1443.9 595L1439.9 590L1436.7 585L1434.3 580L1431.9 575L1429.5 570L1427.3 565L1425.4 560L1423.5 555L1421.5 550L1419 545L1414 540L1409 535L1404 530L1399 525L1393.9 520L1388.9 515L1383.8 510L1378.7 505L1374.6 500L1370.7 495L1366.7 490L1362.8 485L1358.8 480L1354.8 475L1350.9 470L1346.9 465L1343.1 460L1339.5 455L1336 450L1332.4 445L1328.8 440L1325.3 435L1321.9 430L1318.4 425L1315.1 420L1312.6 415L1310 410L1307.5 405L1305 400L1302.9 395L1300.8 390L1298.6 385L1296.5 380L1294.9 375L1293.4 370L1291.9 365L1290.4 360L1288.9 355L1287.4 350L1285.9 345L1284.3 340L1282.8 335L1281.3 330Z" fill="#2c362c" filter="url(#blurF)"/></g>
<path d="M1427.7 607.2H1906.5M1427.7 610.5H1906.5M1427.7 613.5H1906.5M1427.7 616.8H1906.5M1427.7 620.4H1906.5M1427.7 624.2H1906.5M1427.7 628.1H1906.5M1427.7 632.2H1906.5M1427.7 636.6H1906.5M1427.7 641H1906.5M1427.7 645.4H1906.5M1427.7 650.6H1906.5" stroke="#161629" stroke-width="2.7" fill="none"/>
<path d="M1350 607.2H1427.7M1350 610.5H1427.7M1348 613.5H1427.7M1350 616.8H1427.7M1350 620.4H1427.7M1342 624.2H1427.7M1350 628.1H1427.7M1348 632.2H1427.7M1360 636.6H1427.7M1382 641H1427.7M1382 645.4H1427.7M1387 650.6H1427.7" stroke="#1a241a" stroke-width="2.7" fill="none"/>
<path d="M1388 658h2.2M1392.4 658h2.2M1394.6 658h2.2M1401.2 658h2.2M1403.4 658h2.2M1405.6 658h2.2M1407.8 658h2.2M1410 658h2.2M1412.2 658h2.2M1421 658h2.2M1427.6 658h2.2M1429.8 658h2.2M1432 658h2.2M1434.2 658h2.2M1436.4 658h2.2M1438.6 658h2.2M1440.8 658h2.2M1443 658h2.2M1445.2 658h2.2M1447.4 658h2.2M1449.6 658h2.2M1451.8 658h2.2M1454 658h2.2M1456.2 658h2.2M1458.4 658h2.2M1460.6 658h2.2M1462.8 658h2.2M1465 658h2.2M1469.4 658h2.2M1471.6 658h2.2M1473.8 658h2.2M1476 658h2.2M1478.2 658h2.2M1480.4 658h2.2M1482.6 658h2.2M1484.8 658h2.2M1487 658h2.2M1489.2 658h2.2M1491.4 658h2.2M1493.6 658h2.2M1495.8 658h2.2M1498 658h2.2M1500.2 658h2.2M1502.4 658h2.2M1504.6 658h2.2M1506.8 658h2.2M1509 658h2.2M1511.2 658h2.2M1513.4 658h2.2M1515.6 658h2.2M1517.8 658h2.2M1520 658h2.2M1522.2 658h2.2M1524.4 658h2.2M1526.6 658h2.2M1528.8 658h2.2M1531 658h2.2M1533.2 658h2.2M1535.4 658h2.2M1537.6 658h2.2M1539.8 658h2.2M1542 658h2.2M1544.2 658h2.2M1546.4 658h2.2M1548.6 658h2.2M1550.8 658h2.2M1553 658h2.2M1555.2 658h2.2M1557.4 658h2.2M1559.6 658h2.2M1561.8 658h2.2M1568.4 658h2.2M1570.6 658h2.2M1572.8 658h2.2M1575 658h2.2M1577.2 658h2.2M1579.4 658h2.2M1581.6 658h2.2M1583.8 658h2.2M1586 658h2.2M1588.2 658h2.2M1590.4 658h2.2M1592.6 658h2.2M1594.8 658h2.2M1597 658h2.2M1599.2 658h2.2M1601.4 658h2.2M1603.6 658h2.2M1605.8 658h2.2M1608 658h2.2M1610.2 658h2.2M1612.4 658h2.2M1614.6 658h2.2M1616.8 658h2.2M1619 658h2.2M1621.2 658h2.2M1623.4 658h2.2M1625.6 658h2.2M1627.8 658h2.2M1630 658h2.2M1632.2 658h2.2M1634.4 658h2.2M1636.6 658h2.2M1638.8 658h2.2M1641 658h2.2M1643.2 658h2.2M1645.4 658h2.2M1647.6 658h2.2M1649.8 658h2.2M1652 658h2.2M1654.2 658h2.2M1656.4 658h2.2M1658.6 658h2.2M1660.8 658h2.2M1663 658h2.2M1665.2 658h2.2M1667.4 658h2.2M1669.6 658h2.2M1671.8 658h2.2M1674 658h2.2M1676.2 658h2.2M1678.4 658h2.2M1680.6 658h2.2M1685 658h2.2M1687.2 658h2.2M1689.4 658h2.2M1691.6 658h2.2M1693.8 658h2.2M1696 658h2.2M1698.2 658h2.2M1700.4 658h2.2M1702.6 658h2.2M1704.8 658h2.2M1707 658h2.2M1709.2 658h2.2M1711.4 658h2.2M1713.6 658h2.2M1715.8 658h2.2M1718 658h2.2M1720.2 658h2.2M1722.4 658h2.2M1724.6 658h2.2M1726.8 658h2.2M1729 658h2.2M1731.2 658h2.2M1733.4 658h2.2M1735.6 658h2.2M1737.8 658h2.2M1740 658h2.2M1742.2 658h2.2M1744.4 658h2.2M1746.6 658h2.2M1748.8 658h2.2M1751 658h2.2M1753.2 658h2.2M1755.4 658h2.2M1757.6 658h2.2M1759.8 658h2.2M1762 658h2.2M1764.2 658h2.2M1766.4 658h2.2M1768.6 658h2.2M1770.8 658h2.2M1773 658h2.2M1775.2 658h2.2M1777.4 658h2.2M1779.6 658h2.2M1781.8 658h2.2M1784 658h2.2M1786.2 658h2.2M1788.4 658h2.2M1790.6 658h2.2M1792.8 658h2.2M1795 658h2.2M1797.2 658h2.2M1799.4 658h2.2M1801.6 658h2.2M1803.8 658h2.2M1806 658h2.2M1808.2 658h2.2M1810.4 658h2.2M1812.6 658h2.2M1814.8 658h2.2M1817 658h2.2M1819.2 658h2.2M1821.4 658h2.2M1823.6 658h2.2M1825.8 658h2.2M1828 658h2.2M1830.2 658h2.2M1832.4 658h2.2M1834.6 658h2.2M1836.8 658h2.2M1839 658h2.2M1841.2 658h2.2M1843.4 658h2.2M1845.6 658h2.2M1847.8 658h2.2M1850 658h2.2M1852.2 658h2.2M1854.4 658h2.2M1856.6 658h2.2M1858.8 658h2.2M1861 658h2.2M1863.2 658h2.2M1865.4 658h2.2M1867.6 658h2.2M1869.8 658h2.2M1872 658h2.2M1874.2 658h2.2M1876.4 658h2.2M1878.6 658h2.2M1880.8 658h2.2M1883 658h2.2M1885.2 658h2.2M1887.4 658h2.2M1889.6 658h2.2M1891.8 658h2.2M1894 658h2.2M1896.2 658h2.2M1898.4 658h2.2M1900.6 658h2.2M1902.8 658h2.2M1386.4 666.3h2.2M1393 666.3h2.2M1406.2 666.3h2.2M1412.8 666.3h2.2M1415 666.3h2.2M1421.6 666.3h2.2M1423.8 666.3h2.2M1430.4 666.3h2.2M1432.6 666.3h2.2M1434.8 666.3h2.2M1437 666.3h2.2M1439.2 666.3h2.2M1441.4 666.3h2.2M1443.6 666.3h2.2M1445.8 666.3h2.2M1448 666.3h2.2M1450.2 666.3h2.2M1452.4 666.3h2.2M1454.6 666.3h2.2M1456.8 666.3h2.2M1459 666.3h2.2M1461.2 666.3h2.2M1463.4 666.3h2.2M1465.6 666.3h2.2M1467.8 666.3h2.2M1470 666.3h2.2M1472.2 666.3h2.2M1474.4 666.3h2.2M1476.6 666.3h2.2M1478.8 666.3h2.2M1481 666.3h2.2M1483.2 666.3h2.2M1485.4 666.3h2.2M1487.6 666.3h2.2M1489.8 666.3h2.2M1492 666.3h2.2M1494.2 666.3h2.2M1496.4 666.3h2.2M1498.6 666.3h2.2M1500.8 666.3h2.2M1503 666.3h2.2M1505.2 666.3h2.2M1507.4 666.3h2.2M1509.6 666.3h2.2M1511.8 666.3h2.2M1514 666.3h2.2M1516.2 666.3h2.2M1518.4 666.3h2.2M1520.6 666.3h2.2M1522.8 666.3h2.2M1525 666.3h2.2M1527.2 666.3h2.2M1529.4 666.3h2.2M1533.8 666.3h2.2M1536 666.3h2.2M1538.2 666.3h2.2M1540.4 666.3h2.2M1542.6 666.3h2.2M1544.8 666.3h2.2M1547 666.3h2.2M1549.2 666.3h2.2M1551.4 666.3h2.2M1553.6 666.3h2.2M1555.8 666.3h2.2M1558 666.3h2.2M1560.2 666.3h2.2M1562.4 666.3h2.2M1564.6 666.3h2.2M1566.8 666.3h2.2M1569 666.3h2.2M1571.2 666.3h2.2M1573.4 666.3h2.2M1575.6 666.3h2.2M1577.8 666.3h2.2M1580 666.3h2.2M1582.2 666.3h2.2M1586.6 666.3h2.2M1588.8 666.3h2.2M1591 666.3h2.2M1593.2 666.3h2.2M1595.4 666.3h2.2M1597.6 666.3h2.2M1599.8 666.3h2.2M1602 666.3h2.2M1604.2 666.3h2.2M1606.4 666.3h2.2M1608.6 666.3h2.2M1610.8 666.3h2.2M1613 666.3h2.2M1615.2 666.3h2.2M1617.4 666.3h2.2M1619.6 666.3h2.2M1624 666.3h2.2M1626.2 666.3h2.2M1630.6 666.3h2.2M1635 666.3h2.2M1637.2 666.3h2.2M1639.4 666.3h2.2M1641.6 666.3h2.2M1643.8 666.3h2.2M1646 666.3h2.2M1648.2 666.3h2.2M1650.4 666.3h2.2M1652.6 666.3h2.2M1654.8 666.3h2.2M1657 666.3h2.2M1659.2 666.3h2.2M1661.4 666.3h2.2M1663.6 666.3h2.2M1665.8 666.3h2.2M1670.2 666.3h2.2M1672.4 666.3h2.2M1674.6 666.3h2.2M1679 666.3h2.2M1681.2 666.3h2.2M1683.4 666.3h2.2M1687.8 666.3h2.2M1690 666.3h2.2M1692.2 666.3h2.2M1694.4 666.3h2.2M1696.6 666.3h2.2M1698.8 666.3h2.2M1701 666.3h2.2M1703.2 666.3h2.2M1705.4 666.3h2.2M1707.6 666.3h2.2M1709.8 666.3h2.2M1712 666.3h2.2M1714.2 666.3h2.2M1716.4 666.3h2.2M1718.6 666.3h2.2M1723 666.3h2.2M1725.2 666.3h2.2M1727.4 666.3h2.2M1729.6 666.3h2.2M1731.8 666.3h2.2M1734 666.3h2.2M1742.8 666.3h2.2M1745 666.3h2.2M1749.4 666.3h2.2M1751.6 666.3h2.2M1753.8 666.3h2.2M1756 666.3h2.2M1758.2 666.3h2.2M1760.4 666.3h2.2M1762.6 666.3h2.2M1764.8 666.3h2.2M1767 666.3h2.2M1769.2 666.3h2.2M1771.4 666.3h2.2M1773.6 666.3h2.2M1775.8 666.3h2.2M1778 666.3h2.2M1780.2 666.3h2.2M1782.4 666.3h2.2M1784.6 666.3h2.2M1786.8 666.3h2.2M1789 666.3h2.2M1791.2 666.3h2.2M1793.4 666.3h2.2M1795.6 666.3h2.2M1797.8 666.3h2.2M1800 666.3h2.2M1804.4 666.3h2.2M1806.6 666.3h2.2M1808.8 666.3h2.2M1811 666.3h2.2M1813.2 666.3h2.2M1815.4 666.3h2.2M1817.6 666.3h2.2M1819.8 666.3h2.2M1822 666.3h2.2M1824.2 666.3h2.2M1826.4 666.3h2.2M1828.6 666.3h2.2M1830.8 666.3h2.2M1833 666.3h2.2M1835.2 666.3h2.2M1839.6 666.3h2.2M1841.8 666.3h2.2M1844 666.3h2.2M1846.2 666.3h2.2M1848.4 666.3h2.2M1850.6 666.3h2.2M1852.8 666.3h2.2M1857.2 666.3h2.2M1859.4 666.3h2.2M1861.6 666.3h2.2M1863.8 666.3h2.2M1866 666.3h2.2M1868.2 666.3h2.2M1872.6 666.3h2.2M1874.8 666.3h2.2M1877 666.3h2.2M1879.2 666.3h2.2M1881.4 666.3h2.2M1883.6 666.3h2.2M1885.8 666.3h2.2M1888 666.3h2.2M1890.2 666.3h2.2M1892.4 666.3h2.2M1894.6 666.3h2.2M1896.8 666.3h2.2M1899 666.3h2.2M1901.2 666.3h2.2M1903.4 666.3h2.2M1400.2 675.9h2.2M1402.4 675.9h2.2M1406.8 675.9h2.2M1411.2 675.9h2.2M1417.8 675.9h2.2M1420 675.9h2.2M1422.2 675.9h2.2M1426.6 675.9h2.2M1431 675.9h2.2M1435.4 675.9h2.2M1437.6 675.9h2.2M1439.8 675.9h2.2M1455.2 675.9h2.2M1457.4 675.9h2.2M1464 675.9h2.2M1468.4 675.9h2.2M1472.8 675.9h2.2M1477.2 675.9h2.2M1479.4 675.9h2.2M1481.6 675.9h2.2M1483.8 675.9h2.2M1486 675.9h2.2M1488.2 675.9h2.2M1490.4 675.9h2.2M1492.6 675.9h2.2M1494.8 675.9h2.2M1497 675.9h2.2M1499.2 675.9h2.2M1501.4 675.9h2.2M1503.6 675.9h2.2M1505.8 675.9h2.2M1508 675.9h2.2M1510.2 675.9h2.2M1512.4 675.9h2.2M1514.6 675.9h2.2M1516.8 675.9h2.2M1519 675.9h2.2M1521.2 675.9h2.2M1523.4 675.9h2.2M1525.6 675.9h2.2M1527.8 675.9h2.2M1530 675.9h2.2M1532.2 675.9h2.2M1534.4 675.9h2.2M1536.6 675.9h2.2M1538.8 675.9h2.2M1541 675.9h2.2M1543.2 675.9h2.2M1545.4 675.9h2.2M1547.6 675.9h2.2M1549.8 675.9h2.2M1552 675.9h2.2M1556.4 675.9h2.2M1558.6 675.9h2.2M1560.8 675.9h2.2M1565.2 675.9h2.2M1567.4 675.9h2.2M1569.6 675.9h2.2M1571.8 675.9h2.2M1574 675.9h2.2M1576.2 675.9h2.2M1578.4 675.9h2.2M1580.6 675.9h2.2M1582.8 675.9h2.2M1585 675.9h2.2M1587.2 675.9h2.2M1589.4 675.9h2.2M1591.6 675.9h2.2M1593.8 675.9h2.2M1596 675.9h2.2M1598.2 675.9h2.2M1600.4 675.9h2.2M1602.6 675.9h2.2M1604.8 675.9h2.2M1607 675.9h2.2M1609.2 675.9h2.2M1611.4 675.9h2.2M1615.8 675.9h2.2M1618 675.9h2.2M1620.2 675.9h2.2M1624.6 675.9h2.2M1626.8 675.9h2.2M1629 675.9h2.2M1631.2 675.9h2.2M1633.4 675.9h2.2M1635.6 675.9h2.2M1637.8 675.9h2.2M1640 675.9h2.2M1642.2 675.9h2.2M1644.4 675.9h2.2M1646.6 675.9h2.2M1648.8 675.9h2.2M1651 675.9h2.2M1653.2 675.9h2.2M1655.4 675.9h2.2M1657.6 675.9h2.2M1662 675.9h2.2M1664.2 675.9h2.2M1666.4 675.9h2.2M1668.6 675.9h2.2M1670.8 675.9h2.2M1673 675.9h2.2M1675.2 675.9h2.2M1677.4 675.9h2.2M1679.6 675.9h2.2M1681.8 675.9h2.2M1684 675.9h2.2M1686.2 675.9h2.2M1688.4 675.9h2.2M1690.6 675.9h2.2M1692.8 675.9h2.2M1695 675.9h2.2M1697.2 675.9h2.2M1699.4 675.9h2.2M1701.6 675.9h2.2M1703.8 675.9h2.2M1706 675.9h2.2M1708.2 675.9h2.2M1710.4 675.9h2.2M1712.6 675.9h2.2M1714.8 675.9h2.2M1717 675.9h2.2M1721.4 675.9h2.2M1725.8 675.9h2.2M1730.2 675.9h2.2M1732.4 675.9h2.2M1734.6 675.9h2.2M1736.8 675.9h2.2M1739 675.9h2.2M1741.2 675.9h2.2M1743.4 675.9h2.2M1745.6 675.9h2.2M1747.8 675.9h2.2M1750 675.9h2.2M1752.2 675.9h2.2M1754.4 675.9h2.2M1756.6 675.9h2.2M1758.8 675.9h2.2M1761 675.9h2.2M1765.4 675.9h2.2M1767.6 675.9h2.2M1769.8 675.9h2.2M1772 675.9h2.2M1774.2 675.9h2.2M1776.4 675.9h2.2M1778.6 675.9h2.2M1783 675.9h2.2M1785.2 675.9h2.2M1787.4 675.9h2.2M1789.6 675.9h2.2M1791.8 675.9h2.2M1794 675.9h2.2M1796.2 675.9h2.2M1798.4 675.9h2.2M1800.6 675.9h2.2M1802.8 675.9h2.2M1805 675.9h2.2M1807.2 675.9h2.2M1809.4 675.9h2.2M1811.6 675.9h2.2M1813.8 675.9h2.2M1816 675.9h2.2M1818.2 675.9h2.2M1820.4 675.9h2.2M1822.6 675.9h2.2M1824.8 675.9h2.2M1827 675.9h2.2M1829.2 675.9h2.2M1831.4 675.9h2.2M1833.6 675.9h2.2M1835.8 675.9h2.2M1838 675.9h2.2M1840.2 675.9h2.2M1842.4 675.9h2.2M1844.6 675.9h2.2M1846.8 675.9h2.2M1849 675.9h2.2M1851.2 675.9h2.2M1853.4 675.9h2.2M1855.6 675.9h2.2M1860 675.9h2.2M1862.2 675.9h2.2M1866.6 675.9h2.2M1871 675.9h2.2M1873.2 675.9h2.2M1875.4 675.9h2.2M1877.6 675.9h2.2M1879.8 675.9h2.2M1882 675.9h2.2M1886.4 675.9h2.2M1888.6 675.9h2.2M1890.8 675.9h2.2M1893 675.9h2.2M1895.2 675.9h2.2M1897.4 675.9h2.2M1899.6 675.9h2.2M1901.8 675.9h2.2M1904 675.9h2.2M1414.2 688.6h2.2M1416.4 688.6h2.2M1418.6 688.6h2.2M1423 688.6h2.2M1427.4 688.6h2.2M1429.6 688.6h2.2M1434 688.6h2.2M1436.2 688.6h2.2M1440.6 688.6h2.2M1442.8 688.6h2.2M1453.8 688.6h2.2M1458.2 688.6h2.2M1460.4 688.6h2.2M1462.6 688.6h2.2M1464.8 688.6h2.2M1475.8 688.6h2.2M1489 688.6h2.2M1491.2 688.6h2.2M1493.4 688.6h2.2M1495.6 688.6h2.2M1500 688.6h2.2M1502.2 688.6h2.2M1506.6 688.6h2.2M1508.8 688.6h2.2M1515.4 688.6h2.2M1517.6 688.6h2.2M1519.8 688.6h2.2M1522 688.6h2.2M1524.2 688.6h2.2M1526.4 688.6h2.2M1533 688.6h2.2M1535.2 688.6h2.2M1537.4 688.6h2.2M1539.6 688.6h2.2M1541.8 688.6h2.2M1544 688.6h2.2M1546.2 688.6h2.2M1548.4 688.6h2.2M1550.6 688.6h2.2M1552.8 688.6h2.2M1555 688.6h2.2M1557.2 688.6h2.2M1559.4 688.6h2.2M1561.6 688.6h2.2M1566 688.6h2.2M1568.2 688.6h2.2M1570.4 688.6h2.2M1577 688.6h2.2M1581.4 688.6h2.2M1583.6 688.6h2.2M1585.8 688.6h2.2M1588 688.6h2.2M1594.6 688.6h2.2M1596.8 688.6h2.2M1599 688.6h2.2M1601.2 688.6h2.2M1603.4 688.6h2.2M1605.6 688.6h2.2M1607.8 688.6h2.2M1610 688.6h2.2M1612.2 688.6h2.2M1614.4 688.6h2.2M1616.6 688.6h2.2M1618.8 688.6h2.2M1621 688.6h2.2M1625.4 688.6h2.2M1627.6 688.6h2.2M1629.8 688.6h2.2M1632 688.6h2.2M1634.2 688.6h2.2M1636.4 688.6h2.2M1638.6 688.6h2.2M1640.8 688.6h2.2M1643 688.6h2.2M1645.2 688.6h2.2M1647.4 688.6h2.2M1649.6 688.6h2.2M1651.8 688.6h2.2M1654 688.6h2.2M1656.2 688.6h2.2M1658.4 688.6h2.2M1662.8 688.6h2.2M1667.2 688.6h2.2M1669.4 688.6h2.2M1671.6 688.6h2.2M1673.8 688.6h2.2M1676 688.6h2.2M1678.2 688.6h2.2M1680.4 688.6h2.2M1684.8 688.6h2.2M1687 688.6h2.2M1689.2 688.6h2.2M1691.4 688.6h2.2M1693.6 688.6h2.2M1695.8 688.6h2.2M1698 688.6h2.2M1700.2 688.6h2.2M1702.4 688.6h2.2M1704.6 688.6h2.2M1709 688.6h2.2M1711.2 688.6h2.2M1713.4 688.6h2.2M1715.6 688.6h2.2M1717.8 688.6h2.2M1720 688.6h2.2M1722.2 688.6h2.2M1724.4 688.6h2.2M1726.6 688.6h2.2M1728.8 688.6h2.2M1731 688.6h2.2M1733.2 688.6h2.2M1737.6 688.6h2.2M1739.8 688.6h2.2M1742 688.6h2.2M1744.2 688.6h2.2M1746.4 688.6h2.2M1748.6 688.6h2.2M1750.8 688.6h2.2M1755.2 688.6h2.2M1757.4 688.6h2.2M1759.6 688.6h2.2M1761.8 688.6h2.2M1766.2 688.6h2.2M1768.4 688.6h2.2M1770.6 688.6h2.2M1772.8 688.6h2.2M1775 688.6h2.2M1777.2 688.6h2.2M1779.4 688.6h2.2M1781.6 688.6h2.2M1783.8 688.6h2.2M1786 688.6h2.2M1788.2 688.6h2.2M1790.4 688.6h2.2M1792.6 688.6h2.2M1794.8 688.6h2.2M1797 688.6h2.2M1799.2 688.6h2.2M1801.4 688.6h2.2M1803.6 688.6h2.2M1805.8 688.6h2.2M1808 688.6h2.2M1810.2 688.6h2.2M1812.4 688.6h2.2M1814.6 688.6h2.2M1816.8 688.6h2.2M1819 688.6h2.2M1821.2 688.6h2.2M1823.4 688.6h2.2M1825.6 688.6h2.2M1827.8 688.6h2.2M1830 688.6h2.2M1832.2 688.6h2.2M1834.4 688.6h2.2M1836.6 688.6h2.2M1838.8 688.6h2.2M1841 688.6h2.2M1843.2 688.6h2.2M1845.4 688.6h2.2M1847.6 688.6h2.2M1849.8 688.6h2.2M1852 688.6h2.2M1854.2 688.6h2.2M1858.6 688.6h2.2M1865.2 688.6h2.2M1867.4 688.6h2.2M1869.6 688.6h2.2M1871.8 688.6h2.2M1874 688.6h2.2M1876.2 688.6h2.2M1878.4 688.6h2.2M1880.6 688.6h2.2M1882.8 688.6h2.2M1885 688.6h2.2M1889.4 688.6h2.2M1891.6 688.6h2.2M1893.8 688.6h2.2M1896 688.6h2.2M1898.2 688.6h2.2M1904.8 688.6h2.2M1428.2 704.5h2.2M1432.6 704.5h2.2M1434.8 704.5h2.2M1441.4 704.5h2.2M1443.6 704.5h2.2M1463.4 704.5h2.2M1472.2 704.5h2.2M1483.2 704.5h2.2M1489.8 704.5h2.2M1492 704.5h2.2M1507.4 704.5h2.2M1529.4 704.5h2.2M1531.6 704.5h2.2M1533.8 704.5h2.2M1536 704.5h2.2M1538.2 704.5h2.2M1540.4 704.5h2.2M1542.6 704.5h2.2M1544.8 704.5h2.2M1547 704.5h2.2M1549.2 704.5h2.2M1551.4 704.5h2.2M1553.6 704.5h2.2M1555.8 704.5h2.2M1562.4 704.5h2.2M1564.6 704.5h2.2M1566.8 704.5h2.2M1569 704.5h2.2M1571.2 704.5h2.2M1573.4 704.5h2.2M1575.6 704.5h2.2M1577.8 704.5h2.2M1580 704.5h2.2M1584.4 704.5h2.2M1588.8 704.5h2.2M1591 704.5h2.2M1595.4 704.5h2.2M1597.6 704.5h2.2M1608.6 704.5h2.2M1615.2 704.5h2.2M1619.6 704.5h2.2M1624 704.5h2.2M1626.2 704.5h2.2M1630.6 704.5h2.2M1635 704.5h2.2M1639.4 704.5h2.2M1641.6 704.5h2.2M1643.8 704.5h2.2M1646 704.5h2.2M1650.4 704.5h2.2M1652.6 704.5h2.2M1654.8 704.5h2.2M1657 704.5h2.2M1659.2 704.5h2.2M1661.4 704.5h2.2M1663.6 704.5h2.2M1665.8 704.5h2.2M1668 704.5h2.2M1674.6 704.5h2.2M1676.8 704.5h2.2M1679 704.5h2.2M1681.2 704.5h2.2M1687.8 704.5h2.2M1692.2 704.5h2.2M1694.4 704.5h2.2M1701 704.5h2.2M1705.4 704.5h2.2M1707.6 704.5h2.2M1712 704.5h2.2M1718.6 704.5h2.2M1720.8 704.5h2.2M1727.4 704.5h2.2M1729.6 704.5h2.2M1731.8 704.5h2.2M1734 704.5h2.2M1745 704.5h2.2M1747.2 704.5h2.2M1751.6 704.5h2.2M1753.8 704.5h2.2M1756 704.5h2.2M1758.2 704.5h2.2M1760.4 704.5h2.2M1762.6 704.5h2.2M1764.8 704.5h2.2M1767 704.5h2.2M1769.2 704.5h2.2M1771.4 704.5h2.2M1775.8 704.5h2.2M1782.4 704.5h2.2M1786.8 704.5h2.2M1789 704.5h2.2M1791.2 704.5h2.2M1795.6 704.5h2.2M1802.2 704.5h2.2M1804.4 704.5h2.2M1806.6 704.5h2.2M1811 704.5h2.2M1815.4 704.5h2.2M1817.6 704.5h2.2M1819.8 704.5h2.2M1828.6 704.5h2.2M1830.8 704.5h2.2M1835.2 704.5h2.2M1839.6 704.5h2.2M1841.8 704.5h2.2M1848.4 704.5h2.2M1850.6 704.5h2.2M1852.8 704.5h2.2M1855 704.5h2.2M1857.2 704.5h2.2M1859.4 704.5h2.2M1861.6 704.5h2.2M1868.2 704.5h2.2M1872.6 704.5h2.2M1874.8 704.5h2.2M1877 704.5h2.2M1883.6 704.5h2.2M1885.8 704.5h2.2M1890.2 704.5h2.2M1892.4 704.5h2.2M1894.6 704.5h2.2M1896.8 704.5h2.2M1899 704.5h2.2M1901.2 704.5h2.2M1903.4 704.5h2.2M1454.4 726.5h2.2M1456.6 726.5h2.2M1480.8 726.5h2.2M1483 726.5h2.2M1489.6 726.5h2.2M1491.8 726.5h2.2M1500.6 726.5h2.2M1502.8 726.5h2.2M1524.8 726.5h2.2M1560 726.5h2.2M1579.8 726.5h2.2M1582 726.5h2.2M1590.8 726.5h2.2M1595.2 726.5h2.2M1601.8 726.5h2.2M1610.6 726.5h2.2M1615 726.5h2.2M1617.2 726.5h2.2M1634.8 726.5h2.2M1643.6 726.5h2.2M1648 726.5h2.2M1652.4 726.5h2.2M1661.2 726.5h2.2M1663.4 726.5h2.2M1665.6 726.5h2.2M1670 726.5h2.2M1674.4 726.5h2.2M1676.6 726.5h2.2M1683.2 726.5h2.2M1685.4 726.5h2.2M1692 726.5h2.2M1696.4 726.5h2.2M1700.8 726.5h2.2M1707.4 726.5h2.2M1711.8 726.5h2.2M1714 726.5h2.2M1716.2 726.5h2.2M1722.8 726.5h2.2M1725 726.5h2.2M1731.6 726.5h2.2M1733.8 726.5h2.2M1740.4 726.5h2.2M1749.2 726.5h2.2M1753.6 726.5h2.2M1758 726.5h2.2M1760.2 726.5h2.2M1766.8 726.5h2.2M1771.2 726.5h2.2M1780 726.5h2.2M1784.4 726.5h2.2M1788.8 726.5h2.2M1795.4 726.5h2.2M1799.8 726.5h2.2M1810.8 726.5h2.2M1813 726.5h2.2M1819.6 726.5h2.2M1848.2 726.5h2.2M1852.6 726.5h2.2M1870.2 726.5h2.2M1881.2 726.5h2.2M1883.4 726.5h2.2M1885.6 726.5h2.2M1887.8 726.5h2.2M1892.2 726.5h2.2" stroke="#161629" stroke-width="2.4" fill="none"/>
<path d="M1505.1 764.7h2M1614 764.7h2M1790.1 764.7h2M1826.5 764.7h2M1682 764.7h2M1717.9 764.7h2M1753.3 764.7h2M1511.8 764.7h2M1645.9 764.7h2M1722.2 764.7h2M1892.1 764.7h2M1708.9 764.7h2" stroke="#202030" stroke-width="2" fill="none"/>
<path d="M1484 566h2M1750 600h2M1523 585h2M1614 588h2M1567 582h2M1609 587h2M1580 580h2M1688 596h2M1600 586h2M1491 567h2M1477 565h2M1611 597h2M1562 586h2M1744 598h2M1623 593h2M1496 569h2M1603 588h2M1614 597h2M1675 599h2M1451 568h2M1593 589h2M1765 601h2M1622 587h2M1607 590h2M1676 596h2M1529 586h2M1665 597h2M1613 593h2M1531 576h2M1519 582h2M1627 594h2M1639 588h2M1673 595h2M1521 578h2M1594 583h2M1674 596h2M1516 577h2M1653 593h2M1550 578h2M1666 599h2M1486 562h2M1455 570h2M1653 592h2M1706 595h2M1742 597h2M1704 594h2M1647 595h2M1574 590h2M1542 574h2M1620 584h2M1463 568h2M1660 594h2M1761 600h2M1541 576h2M1567 578h2M1568 590h2M1740 600h2M1566 588h2M1522 571h2M1460 565h2M1531 572h2M1639 597h2M1581 587h2M1569 578h2M1444 553h2M1542 578h2M1579 585h2M1523 576h2M1682 595h2M1571 582h2M1584 595h2M1474 563h2M1437 557h2M1493 569h2M1619 585h2M1699 594h2M1625 595h2M1735 599h2M1680 593h2M1575 582h2M1588 586h2M1654 593h2M1744 599h2M1686 592h2M1689 594h2M1620 591h2M1519 569h2M1613 589h2M1549 590h2M1677 593h2M1631 586h2M1696 601h2M1672 596h2M1496 577h2M1511 568h2M1554 578h2M1509 566h2M1587 590h2M1464 568h2M1508 569h2M1717 595h2M1700 595h2M1528 578h2M1594 594h2M1431 552h2M1729 600h2M1594 591h2M1513 570h2M1486 573h2M1704 597h2M1592 584h2M1643 588h2M1626 592h2M1469 564h2M1645 589h2M1430 558h2M1755 601h2M1543 578h2M1594 587h2M1594 584h2M1476 558h2M1703 593h2M1458 557h2M1471 558h2M1519 568h2M1662 594h2M1692 601h2M1627 587h2M1499 566h2M1640 594h2M1563 577h2M1572 579h2M1509 568h2M1633 591h2M1470 568h2M1490 562h2M1654 590h2M1637 588h2M1520 574h2M1661 596h2M1545 577h2M1625 590h2M1455 563h2M1510 573h2M1488 567h2M1471 562h2M1711 597h2M1571 580h2M1618 598h2M1741 598h2M1697 596h2M1451 566h2M1470 564h2M1453 552h2M1477 562h2M1637 587h2M1669 593h2M1571 580h2M1520 573h2M1528 572h2M1570 582h2M1546 576h2M1547 575h2M1633 587h2M1600 596h2M1619 588h2M1523 576h2M1441 550h2M1516 576h2M1617 599h2M1725 601h2M1455 558h2M1622 590h2M1593 588h2M1528 584h2M1533 580h2M1604 596h2M1704 599h2M1447 551h2M1456 579h2M1694 600h2M1503 572h2M1699 596h2M1551 576h2M1479 560h2M1477 559h2M1465 557h2M1542 572h2M1483 564h2M1531 570h2M1652 597h2M1495 570h2M1521 582h2M1585 587h2M1443 549h2M1499 566h2M1478 558h2M1659 593h2M1689 597h2M1548 586h2M1526 572h2M1514 572h2M1643 594h2M1496 569h2M1727 599h2M1573 591h2M1629 596h2M1753 599h2M1732 602h2M1465 565h2M1568 586h2M1481 567h2M1680 594h2M1456 557h2M1447 556h2M1539 574h2M1559 577h2M1778 602h2M1669 593h2M1489 583h2M1640 587h2M1638 592h2M1754 600h2M1459 569h2M1705 599h2M1656 594h2M1766 600h2M1441 552h2M1566 578h2M1598 584h2M1634 594h2M1771 601h2M1761 600h2M1629 591h2M1508 575h2M1701 597h2M1620 591h2M1640 590h2M1464 559h2M1765 600h2M1558 587h2M1705 594h2M1699 599h2M1720 598h2M1765 599h2M1584 581h2M1471 578h2M1573 583h2M1451 552h2M1632 595h2M1473 565h2M1700 594h2M1457 557h2M1627 598h2M1472 561h2M1695 593h2M1467 566h2M1624 586h2M1572 580h2M1688 598h2M1500 569h2M1466 559h2M1755 599h2M1488 574h2M1672 595h2M1538 577h2M1507 577h2M1613 598h2M1518 583h2M1753 601h2M1643 588h2M1520 578h2M1475 562h2M1569 582h2M1760 599h2M1502 565h2M1601 586h2M1468 557h2M1454 561h2M1704 599h2M1593 585h2M1509 577h2M1478 570h2M1548 576h2M1623 588h2M1554 576h2M1659 597h2M1443 550h2M1513 586h2M1569 580h2M1646 596h2M1440 563h2M1468 558h2M1799 601h2M1544 582h2M1677 595h2M1686 600h2M1670 598h2M1635 586h2M1679 593h2M1470 561h2M1582 596h2M1564 584h2M1499 577h2M1556 587h2M1659 590h2M1715 596h2M1522 571h2M1544 576h2M1520 576h2M1616 585h2M1510 567h2M1486 564h2M1674 594h2M1511 574h2M1506 569h2M1571 585h2M1615 584h2M1572 581h2M1736 601h2M1681 599h2M1435 549h2M1550 577h2M1477 564h2M1711 600h2M1682 598h2M1490 562h2M1710 599h2M1506 565h2M1708 594h2M1686 593h2M1568 588h2M1625 586h2M1636 598h2M1689 593h2M1494 568h2M1649 594h2M1705 599h2M1565 584h2M1443 570h2M1558 581h2M1555 578h2M1496 570h2M1477 565h2M1441 563h2M1618 595h2M1518 570h2M1627 588h2M1597 585h2M1457 560h2M1551 586h2M1677 595h2M1690 597h2M1477 562h2M1643 596h2M1677 595h2M1608 592h2M1676 601h2M1480 568h2M1540 589h2M1591 582h2M1643 587h2M1674 593h2M1563 593h2M1454 557h2M1773 599h2M1577 587h2M1594 584h2M1473 564h2M1658 594h2M1667 593h2M1445 558h2M1546 585h2M1670 593h2M1578 585h2M1635 588h2M1466 569h2M1629 600h2M1598 589h2M1655 597h2M1488 567h2M1654 590h2M1596 595h2M1575 586h2M1474 558h2M1463 555h2M1469 564h2M1474 560h2M1713 597h2M1490 575h2M1658 591h2M1497 571h2M1707 599h2M1535 580h2M1525 579h2M1606 594h2M1466 560h2M1433 548h2M1570 591h2M1743 601h2M1686 597h2M1680 592h2M1643 590h2M1661 591h2M1616 585h2M1497 572h2M1562 586h2M1441 554h2M1605 584h2M1662 600h2M1506 569h2M1770 600h2M1606 591h2M1656 589h2M1557 578h2M1531 574h2M1667 598h2M1517 573h2M1687 596h2M1572 583h2M1573 586h2M1525 582h2M1551 585h2M1519 575h2M1640 592h2M1496 567h2M1739 598h2M1520 574h2M1772 601h2M1579 584h2M1604 591h2M1581 586h2M1525 577h2M1498 586h2M1472 558h2M1522 569h2M1566 578h2M1490 568h2M1601 585h2M1453 563h2M1468 565h2M1446 552h2M1586 592h2M1665 599h2M1565 577h2M1431 545h2M1571 578h2M1640 587h2M1599 598h2M1444 561h2M1642 589h2M1610 589h2M1544 573h2M1467 561h2M1644 591h2M1560 577h2M1626 595h2M1666 597h2M1669 594h2M1445 562h2M1590 581h2M1711 595h2M1521 570h2M1660 596h2M1651 595h2M1774 601h2M1444 570h2M1482 566h2M1525 570h2M1756 600h2M1543 577h2M1571 595h2M1537 575h2M1661 593h2M1562 577h2M1515 569h2M1625 585h2M1704 601h2M1535 580h2M1668 599h2M1619 586h2M1653 590h2M1525 571h2M1477 569h2M1445 553h2M1430 553h2M1602 594h2M1711 596h2M1525 571h2M1698 597h2M1470 560h2M1480 563h2M1513 579h2M1605 595h2M1679 596h2M1653 598h2M1785 601h2M1617 590h2M1570 586h2M1692 599h2M1666 596h2M1703 595h2M1559 583h2M1661 602h2M1656 592h2M1735 600h2M1648 589h2M1658 596h2M1501 568h2M1520 568h2M1661 594h2M1500 565h2M1596 585h2M1553 577h2M1690 599h2M1455 553h2M1505 570h2M1662 602h2M1431 555h2M1720 595h2M1433 548h2M1530 583h2M1579 584h2M1442 556h2M1476 560h2M1644 595h2M1544 577h2M1434 549h2M1673 590h2M1595 594h2M1453 561h2M1483 576h2M1449 552h2M1448 559h2M1450 556h2M1539 579h2M1767 602h2M1463 580h2M1647 589h2M1470 565h2M1579 584h2M1455 557h2M1609 598h2M1576 588h2M1491 570h2M1734 600h2M1526 572h2M1583 584h2M1544 577h2M1681 595h2M1643 590h2M1785 600h2M1610 589h2M1677 592h2M1622 588h2M1563 588h2M1473 563h2M1486 562h2M1444 562h2M1465 556h2M1474 560h2M1615 587h2M1644 589h2M1619 593h2M1618 592h2M1654 593h2M1582 590h2M1446 553h2M1522 576h2M1495 563h2M1515 567h2M1517 571h2M1435 563h2M1548 574h2M1510 576h2M1443 553h2M1704 598h2M1542 582h2M1449 554h2M1602 587h2M1518 580h2M1596 588h2M1647 589h2M1625 588h2M1630 595h2M1467 565h2M1555 582h2M1507 578h2M1641 595h2M1543 575h2M1500 571h2M1623 592h2M1627 586h2M1512 582h2M1580 590h2M1631 589h2M1700 597h2M1639 597h2M1528 576h2M1471 571h2M1644 592h2M1525 575h2M1564 586h2M1602 600h2M1516 570h2M1597 583h2M1603 593h2M1509 577h2M1546 579h2M1558 584h2M1669 590h2M1578 581h2M1530 576h2M1547 578h2M1621 601h2M1432 551h2M1465 562h2M1484 570h2M1514 572h2M1647 597h2M1522 574h2M1542 583h2M1736 598h2M1467 558h2M1736 597h2M1643 594h2M1464 560h2M1643 589h2M1524 572h2M1646 599h2M1649 593h2M1679 594h2M1677 596h2M1483 571h2M1461 565h2M1515 581h2M1576 580h2M1546 577h2M1634 588h2M1713 598h2M1600 591h2M1704 594h2M1445 550h2M1640 601h2M1699 594h2M1633 596h2M1434 553h2M1568 580h2M1456 567h2M1440 553h2M1680 592h2M1567 578h2M1517 573h2M1685 595h2M1445 567h2M1635 592h2M1571 585h2M1694 595h2M1699 600h2M1529 573h2M1663 599h2M1716 601h2M1619 588h2M1501 568h2M1606 586h2M1452 571h2M1547 589h2M1667 592h2M1529 570h2M1506 568h2M1552 580h2M1579 580h2M1540 572h2M1535 575h2M1767 600h2M1496 577h2M1724 599h2M1655 591h2M1441 555h2M1537 575h2M1522 575h2M1538 580h2M1608 587h2M1667 591h2M1701 597h2M1717 595h2M1461 566h2M1530 574h2M1599 583h2M1510 569h2M1624 591h2M1617 593h2M1458 557h2M1560 580h2M1454 558h2M1661 596h2M1670 601h2M1475 561h2M1733 602h2M1495 565h2M1489 582h2M1632 598h2M1575 580h2M1527 572h2M1644 589h2M1671 601h2M1548 577h2M1636 591h2M1610 587h2M1481 563h2M1620 591h2M1469 559h2M1644 594h2M1471 562h2M1590 582h2M1663 600h2M1753 600h2M1734 597h2M1441 550h2M1587 588h2M1483 567h2M1666 595h2M1704 600h2M1522 583h2M1638 594h2M1563 580h2M1759 602h2M1435 548h2M1486 572h2M1627 596h2M1729 600h2M1591 582h2M1732 600h2M1598 596h2M1543 576h2M1529 575h2M1581 585h2M1482 565h2M1651 593h2M1455 564h2M1527 573h2M1802 602h2M1500 565h2M1730 597h2M1661 601h2M1570 579h2M1783 601h2M1634 600h2M1518 576h2M1559 583h2M1623 591h2M1697 593h2M1479 570h2M1751 599h2M1603 585h2M1481 571h2M1674 594h2M1622 591h2M1605 586h2M1683 594h2M1483 580h2M1574 580h2M1461 573h2M1450 563h2M1726 596h2M1689 595h2M1586 592h2M1680 597h2M1730 596h2M1674 597h2M1591 591h2M1584 590h2" stroke="#9896b6" stroke-width="1.8" fill="none" stroke-opacity="0.6"/>
<path d="M1348 510h2M1313 452h2M1311 429h2M1371 575h2M1370 599h2M1223 155h2M1279 414h2M1390 562h2M1356 467h2M1396 572h2M1415 551h2M1295 466h2M1298 431h2M1391 599h2M1365 536h2M1285 461h2M1275 276h2M1289 494h2M1388 537h2M1319 582h2M1340 528h2M1372 552h2M1369 476h2M1269 394h2M1296 453h2M1378 567h2M1411 522h2M1298 425h2M1294 486h2M1304 426h2M1320 488h2M1293 403h2M1294 405h2M1332 559h2M1342 582h2M1282 326h2M1265 413h2M1285 493h2M1282 342h2M1401 549h2M1276 448h2M1242 254h2M1328 483h2M1290 450h2M1288 490h2M1339 552h2M1285 510h2M1357 501h2M1250 301h2M1270 427h2M1384 584h2M1388 572h2M1382 575h2M1394 527h2M1404 553h2M1273 465h2M1296 474h2M1403 593h2M1276 361h2M1338 586h2M1315 418h2M1348 540h2M1406 543h2M1315 587h2M1363 497h2M1414 585h2M1297 442h2M1323 460h2M1382 532h2M1367 496h2M1305 464h2M1294 529h2M1383 503h2M1388 540h2M1359 542h2M1287 387h2M1383 497h2M1278 299h2M1377 553h2M1413 585h2M1394 540h2M1231 235h2M1324 516h2M1376 511h2M1389 603h2M1259 315h2M1313 410h2M1319 398h2M1422 592h2M1300 408h2M1325 558h2M1247 224h2M1350 550h2M1307 556h2M1308 409h2M1347 579h2M1386 572h2M1283 449h2M1300 460h2M1251 307h2M1296 539h2M1267 378h2M1297 459h2M1293 506h2M1261 383h2M1295 457h2M1264 317h2M1314 554h2M1375 508h2M1257 385h2M1343 508h2M1257 339h2M1247 336h2M1225 150h2M1408 597h2M1269 350h2M1383 563h2M1315 564h2M1264 422h2M1347 531h2M1321 567h2M1364 492h2M1342 555h2M1417 562h2M1327 523h2M1297 520h2M1422 596h2M1302 426h2M1371 509h2M1280 447h2M1341 506h2M1358 545h2M1357 488h2M1404 596h2M1310 390h2M1373 554h2M1328 456h2M1389 577h2M1392 576h2M1331 482h2M1324 458h2M1388 549h2M1336 590h2M1392 566h2M1248 228h2M1343 530h2M1392 605h2M1324 421h2M1359 530h2M1347 460h2M1417 537h2M1230 185h2M1400 576h2M1368 605h2M1322 596h2M1312 508h2M1421 582h2M1250 330h2M1305 519h2M1323 588h2M1275 278h2M1313 496h2M1407 580h2M1349 521h2M1336 603h2M1394 531h2M1300 496h2M1400 576h2M1260 376h2M1232 170h2M1366 497h2M1391 535h2M1402 567h2M1329 602h2M1303 463h2M1276 308h2M1390 596h2M1317 450h2M1337 438h2M1257 302h2M1233 212h2M1361 576h2M1313 581h2M1284 445h2M1405 601h2M1362 577h2M1330 597h2M1357 600h2M1377 525h2M1393 594h2M1323 581h2M1335 463h2M1331 566h2M1298 499h2M1300 428h2M1364 477h2M1344 505h2M1412 602h2M1354 506h2M1244 292h2M1310 548h2M1421 579h2M1312 560h2M1404 583h2M1261 322h2M1321 595h2M1364 511h2M1271 419h2M1349 519h2M1394 526h2M1302 479h2M1428 555h2M1268 476h2M1382 585h2M1313 525h2M1304 530h2M1323 467h2M1389 609h2M1320 566h2M1401 601h2M1380 522h2M1335 592h2M1354 597h2M1370 600h2M1314 463h2M1298 464h2M1357 462h2M1317 464h2M1333 534h2M1398 610h2M1340 591h2M1329 559h2M1348 490h2M1305 508h2M1283 426h2M1366 481h2M1235 247h2M1258 278h2M1291 472h2M1294 517h2M1283 450h2M1290 440h2M1273 304h2M1397 553h2M1416 530h2M1385 508h2M1270 391h2M1279 464h2M1364 485h2M1326 591h2M1274 430h2M1339 520h2M1380 517h2M1321 527h2M1350 557h2M1254 302h2M1338 489h2M1262 415h2M1258 371h2M1343 496h2M1338 441h2M1415 540h2M1417 554h2M1403 574h2M1310 473h2M1398 604h2M1280 501h2M1357 590h2M1375 582h2M1271 428h2M1379 552h2M1403 599h2M1398 515h2M1382 501h2M1306 473h2M1273 460h2M1363 506h2M1304 415h2M1360 512h2M1387 525h2M1383 520h2M1342 490h2M1418 604h2M1391 558h2M1323 597h2M1354 536h2M1316 492h2M1326 429h2M1315 505h2M1324 486h2M1267 319h2M1375 575h2M1361 578h2M1284 464h2M1322 592h2M1275 436h2M1416 563h2M1419 581h2M1354 602h2M1294 513h2M1381 534h2M1239 241h2M1377 591h2M1233 211h2M1322 538h2M1243 314h2M1299 428h2M1367 526h2M1301 516h2M1287 354h2M1323 472h2M1296 400h2M1325 522h2M1308 562h2M1315 581h2M1341 480h2M1328 492h2M1345 505h2M1324 584h2M1313 432h2M1357 589h2M1323 496h2M1320 481h2M1285 502h2M1296 487h2M1368 477h2M1412 591h2M1321 583h2M1368 589h2M1256 269h2M1313 467h2M1250 297h2M1269 304h2M1408 576h2M1424 554h2M1275 362h2M1322 492h2M1228 206h2M1336 509h2M1305 436h2M1239 195h2M1234 288h2M1338 494h2M1277 330h2M1267 331h2M1396 607h2M1307 581h2M1410 540h2M1398 585h2M1347 469h2M1261 350h2M1389 581h2M1411 537h2M1315 570h2M1316 538h2M1379 579h2M1350 493h2M1383 609h2M1421 530h2M1285 492h2M1268 374h2M1356 612h2M1226 161h2M1398 581h2M1299 524h2M1411 584h2M1294 470h2M1305 418h2M1297 436h2M1255 299h2M1341 608h2M1368 545h2M1293 509h2M1340 497h2M1352 518h2M1323 511h2M1305 377h2M1418 553h2M1393 580h2M1384 603h2M1276 375h2M1345 550h2M1311 429h2M1344 514h2M1326 532h2M1383 530h2M1391 519h2M1294 445h2M1386 599h2M1259 256h2M1336 559h2M1393 547h2M1313 377h2M1409 585h2M1260 289h2M1302 520h2M1264 390h2M1340 431h2M1291 419h2M1334 531h2M1306 425h2M1251 263h2M1425 599h2M1379 594h2M1300 427h2M1385 603h2M1249 289h2M1292 420h2M1365 485h2M1243 235h2M1263 346h2M1401 612h2M1271 295h2M1274 465h2M1308 512h2M1330 453h2M1225 151h2M1306 405h2M1348 509h2M1273 316h2M1328 542h2M1404 540h2M1266 432h2M1333 474h2M1288 460h2M1331 449h2M1246 274h2M1417 539h2M1360 569h2M1395 600h2M1284 322h2M1297 495h2M1364 534h2M1305 381h2M1422 565h2M1255 342h2M1339 506h2M1380 567h2M1319 592h2M1333 508h2M1346 565h2M1349 484h2M1360 489h2M1297 457h2M1426 555h2M1303 506h2M1353 552h2M1256 381h2M1334 589h2M1336 435h2M1386 580h2M1357 603h2M1259 297h2M1384 606h2M1349 480h2M1251 342h2M1310 401h2M1279 312h2M1351 476h2M1423 582h2M1304 553h2M1296 388h2M1334 490h2M1240 247h2M1417 563h2M1352 552h2M1349 597h2M1361 492h2M1360 596h2M1274 296h2M1318 442h2M1330 476h2M1263 397h2M1390 599h2M1353 540h2M1294 539h2M1268 347h2M1261 387h2M1268 474h2M1311 444h2M1333 579h2M1313 561h2M1328 553h2M1335 436h2M1312 444h2M1348 548h2M1289 344h2M1240 248h2M1317 564h2M1245 332h2M1354 550h2M1394 498h2M1375 570h2M1356 584h2M1366 602h2M1300 393h2M1381 530h2M1244 342h2M1263 452h2M1405 555h2M1272 460h2M1323 510h2M1348 574h2M1274 410h2M1300 437h2M1308 508h2M1340 597h2M1338 435h2M1246 307h2M1325 502h2M1334 599h2M1269 409h2M1396 588h2M1302 516h2M1381 611h2M1340 602h2M1291 492h2M1332 557h2M1290 483h2M1354 461h2M1357 584h2M1379 577h2M1324 473h2M1314 489h2M1319 557h2M1313 480h2M1365 492h2M1395 599h2M1258 307h2M1317 442h2M1254 319h2M1358 540h2M1331 583h2M1234 284h2M1272 348h2M1410 545h2M1370 526h2M1285 464h2M1334 562h2M1275 454h2M1308 485h2M1336 548h2M1369 514h2M1399 528h2M1345 508h2M1359 546h2M1293 426h2M1356 495h2M1300 427h2M1277 371h2M1240 233h2M1371 502h2M1284 432h2M1277 339h2M1309 535h2M1410 590h2M1261 264h2M1338 499h2M1372 555h2M1386 538h2M1293 432h2M1288 380h2M1392 576h2M1385 558h2M1263 394h2M1306 522h2M1344 529h2M1393 517h2M1374 505h2M1379 492h2M1308 489h2M1359 574h2M1319 448h2M1282 353h2M1283 360h2M1376 530h2M1326 505h2M1322 592h2M1290 492h2M1359 586h2M1338 593h2M1310 465h2M1251 313h2M1347 520h2M1408 609h2M1393 532h2M1301 509h2M1327 607h2M1318 509h2M1414 549h2M1254 353h2M1360 551h2M1339 599h2M1314 409h2M1322 569h2M1361 507h2M1241 275h2M1307 576h2M1365 590h2M1289 506h2M1268 405h2M1265 352h2M1320 592h2M1239 213h2M1280 386h2M1355 513h2M1250 232h2M1278 333h2M1271 363h2M1310 496h2M1310 526h2M1372 604h2M1341 471h2M1357 572h2M1321 565h2M1222 149h2M1316 448h2M1330 495h2M1343 477h2M1235 279h2M1416 548h2M1263 298h2M1228 211h2M1320 499h2M1357 553h2M1346 487h2M1270 462h2M1297 420h2M1341 546h2M1271 461h2M1316 600h2M1348 563h2M1276 453h2M1413 610h2M1280 451h2M1391 536h2M1393 589h2M1364 600h2M1374 561h2M1325 601h2M1333 532h2M1297 481h2M1329 470h2M1373 498h2M1228 240h2M1406 531h2M1363 543h2M1259 433h2M1389 587h2M1323 411h2M1367 552h2M1425 588h2M1338 549h2M1376 541h2M1291 498h2M1310 426h2M1277 283h2M1396 557h2M1375 476h2M1355 538h2M1303 555h2M1280 384h2M1274 313h2M1315 413h2M1244 229h2M1357 549h2M1402 571h2M1275 394h2M1318 427h2M1260 371h2M1361 594h2M1381 584h2M1348 564h2M1372 490h2M1314 552h2M1367 497h2M1380 582h2M1421 541h2M1343 476h2M1269 412h2M1245 284h2M1387 601h2M1267 335h2M1339 563h2M1376 538h2M1424 598h2M1294 365h2M1321 540h2M1319 447h2M1308 393h2M1328 524h2M1323 451h2M1383 585h2M1320 550h2M1299 442h2M1286 349h2M1329 563h2M1410 577h2M1321 446h2M1271 337h2M1260 366h2M1313 497h2M1410 553h2M1307 478h2M1252 250h2M1324 540h2M1309 384h2M1387 545h2M1282 448h2M1345 465h2M1341 595h2M1307 466h2M1268 318h2M1409 531h2M1408 589h2M1270 396h2M1340 553h2M1370 521h2M1291 482h2M1297 440h2M1301 557h2M1315 448h2M1358 499h2M1371 491h2M1358 565h2M1279 353h2M1276 292h2M1308 484h2M1301 525h2M1320 596h2M1386 500h2M1338 532h2M1356 534h2M1374 531h2M1349 569h2M1395 536h2M1301 517h2M1239 236h2M1286 482h2M1283 474h2M1392 577h2M1422 542h2M1290 364h2M1293 409h2M1360 519h2M1388 530h2M1315 528h2M1305 571h2M1307 446h2M1400 607h2M1341 525h2M1334 520h2M1378 581h2M1369 609h2M1320 476h2M1410 610h2M1415 531h2M1390 537h2M1349 560h2M1284 460h2M1393 547h2M1339 559h2M1296 530h2M1399 604h2M1271 309h2M1374 593h2M1394 522h2M1279 470h2M1390 552h2M1302 400h2M1374 596h2M1272 412h2M1332 563h2M1346 468h2M1272 389h2M1420 594h2M1381 495h2M1285 432h2M1359 546h2M1292 441h2M1279 503h2M1342 481h2M1290 367h2M1361 517h2M1278 453h2M1244 281h2M1319 591h2M1387 604h2M1319 499h2M1356 609h2M1338 524h2M1351 588h2M1243 255h2M1308 406h2M1350 526h2M1277 337h2M1317 447h2M1320 488h2M1349 595h2M1284 481h2M1310 496h2M1293 431h2M1273 408h2M1344 605h2M1358 580h2M1298 454h2M1301 383h2M1375 592h2M1321 551h2M1350 557h2M1281 437h2M1309 484h2M1305 538h2M1236 220h2M1283 415h2M1382 522h2M1394 582h2M1323 479h2M1319 393h2M1308 412h2M1356 600h2M1251 262h2M1360 478h2M1409 581h2M1350 533h2M1228 155h2M1361 544h2M1301 356h2M1411 604h2M1330 509h2M1288 471h2M1370 492h2M1309 548h2M1249 326h2M1373 556h2M1318 443h2M1310 447h2M1277 435h2M1339 501h2M1330 442h2M1323 549h2M1274 460h2M1350 586h2M1303 468h2M1261 375h2M1304 555h2M1284 500h2M1423 547h2M1249 241h2M1314 571h2M1410 581h2M1414 539h2M1320 441h2M1358 481h2M1339 497h2M1286 423h2M1250 233h2M1267 345h2M1328 505h2M1340 524h2M1330 477h2M1384 545h2M1354 465h2M1354 501h2M1393 554h2M1242 310h2M1329 494h2M1316 414h2M1358 502h2M1313 520h2M1248 263h2M1344 494h2M1307 408h2M1262 291h2M1272 461h2M1260 384h2M1362 463h2M1244 258h2M1288 437h2M1304 467h2M1269 316h2M1422 579h2M1420 612h2M1275 350h2M1386 555h2M1360 528h2M1282 433h2M1318 374h2M1322 496h2M1417 550h2M1291 359h2M1269 284h2M1400 529h2M1405 537h2M1394 608h2M1408 530h2M1350 567h2M1258 293h2M1304 366h2M1284 358h2M1350 490h2M1279 280h2M1274 385h2M1272 475h2M1355 507h2M1344 536h2M1416 585h2M1278 283h2M1386 513h2M1371 503h2M1332 513h2M1323 479h2M1321 587h2M1328 565h2M1251 250h2M1318 408h2M1340 544h2M1301 359h2M1303 372h2M1379 511h2M1396 561h2M1250 298h2M1331 509h2M1243 346h2M1385 528h2M1335 523h2M1324 450h2M1393 611h2M1348 544h2M1355 545h2M1227 177h2M1299 396h2M1346 457h2M1397 600h2M1280 459h2M1245 227h2M1405 599h2M1366 553h2M1296 410h2M1256 300h2M1398 586h2M1328 571h2M1322 567h2M1328 523h2M1417 564h2M1291 475h2M1303 357h2M1272 287h2M1281 406h2M1318 540h2M1282 416h2M1249 265h2M1262 339h2M1337 563h2M1306 518h2M1383 596h2M1388 579h2M1291 449h2M1401 564h2M1352 481h2M1337 485h2M1310 404h2M1300 537h2M1357 560h2M1388 522h2M1405 534h2M1377 521h2M1313 538h2M1292 459h2M1371 480h2M1319 563h2M1373 576h2M1271 454h2M1279 375h2M1417 527h2M1321 542h2M1359 546h2M1335 568h2M1297 436h2M1318 583h2M1233 287h2M1305 504h2M1386 527h2M1248 254h2M1351 557h2M1272 480h2M1273 278h2M1239 242h2M1367 499h2M1241 211h2M1311 476h2M1358 468h2M1324 527h2M1314 507h2M1424 572h2M1318 461h2M1347 587h2M1336 491h2M1271 381h2M1258 310h2M1287 451h2M1315 594h2M1282 458h2M1289 502h2M1422 542h2M1320 558h2M1305 486h2M1345 549h2M1282 448h2M1371 497h2M1295 468h2M1257 285h2M1339 568h2M1296 334h2M1303 497h2M1399 609h2M1294 509h2M1413 589h2M1284 517h2M1402 602h2M1352 513h2M1362 546h2M1359 572h2M1263 398h2M1302 547h2M1404 586h2M1291 483h2M1299 512h2M1406 524h2M1312 492h2M1371 510h2M1300 495h2M1353 612h2M1284 396h2M1334 607h2M1348 608h2M1386 598h2M1376 584h2M1362 470h2M1239 286h2M1272 432h2M1381 495h2M1373 501h2M1398 608h2M1381 495h2M1259 332h2M1336 598h2M1313 405h2M1350 505h2M1362 468h2M1356 463h2M1298 372h2M1281 461h2M1336 464h2M1308 416h2M1305 540h2M1320 560h2M1403 563h2M1324 489h2M1399 574h2M1399 558h2M1357 581h2M1298 485h2M1277 360h2M1365 611h2M1378 602h2M1364 531h2M1299 461h2M1392 517h2M1374 504h2M1403 554h2M1289 485h2M1314 499h2M1371 529h2M1353 498h2M1342 459h2M1404 571h2M1320 439h2M1225 172h2M1348 498h2M1296 503h2M1272 299h2M1267 344h2M1363 605h2M1325 437h2M1376 512h2M1340 537h2M1283 449h2M1359 486h2M1351 461h2M1391 535h2M1373 594h2M1384 547h2M1246 331h2M1277 357h2M1325 579h2M1298 491h2M1284 341h2M1282 467h2M1364 484h2M1244 224h2M1384 560h2M1267 362h2M1275 468h2M1377 521h2M1298 529h2M1272 336h2M1321 534h2M1336 515h2M1362 494h2M1352 525h2M1380 576h2M1295 414h2M1361 537h2M1401 566h2M1348 568h2M1268 345h2M1278 346h2M1421 535h2M1301 512h2M1385 605h2M1301 557h2M1265 285h2M1310 453h2M1301 416h2M1316 403h2M1420 607h2M1313 539h2M1357 597h2M1388 539h2M1283 310h2M1333 609h2M1290 466h2M1294 348h2M1329 470h2M1417 572h2M1414 598h2M1290 342h2M1388 523h2M1405 533h2M1274 342h2M1383 597h2M1358 509h2M1319 445h2M1338 530h2M1395 556h2M1223 156h2M1399 576h2M1390 513h2M1242 204h2M1284 295h2M1284 374h2M1275 278h2M1291 397h2M1394 548h2M1259 266h2M1376 533h2M1268 376h2M1390 596h2M1312 423h2M1354 464h2M1353 604h2M1328 586h2M1285 414h2M1261 377h2M1243 222h2M1427 541h2M1329 603h2M1336 548h2M1322 475h2M1310 548h2M1308 472h2M1308 507h2M1336 562h2M1424 536h2M1356 553h2M1298 506h2M1273 300h2M1339 573h2M1396 514h2M1336 534h2M1300 493h2M1364 540h2M1281 356h2M1411 572h2M1267 294h2M1308 561h2M1314 452h2M1235 171h2M1360 568h2M1338 593h2M1265 291h2M1290 492h2M1262 304h2M1323 479h2M1267 272h2M1329 451h2M1316 446h2M1300 428h2M1366 560h2M1375 592h2M1371 529h2M1333 544h2M1286 485h2M1281 386h2M1329 544h2M1290 357h2M1411 528h2M1294 542h2M1398 513h2M1336 516h2M1373 502h2M1229 171h2M1292 370h2M1349 537h2M1366 606h2M1346 602h2M1308 500h2M1366 483h2M1309 435h2M1423 543h2M1294 360h2M1340 522h2M1306 416h2M1374 576h2M1323 534h2M1415 590h2M1302 461h2M1330 461h2M1339 507h2M1245 294h2M1301 478h2M1360 607h2M1276 467h2M1310 472h2M1308 579h2M1256 380h2M1278 267h2M1298 393h2M1366 593h2M1327 456h2M1366 580h2M1359 596h2M1290 443h2M1355 537h2M1396 523h2M1425 547h2M1267 380h2M1299 377h2M1241 302h2M1356 506h2M1279 397h2M1246 266h2M1318 487h2M1381 533h2M1271 393h2M1427 590h2M1379 584h2M1386 574h2M1331 481h2M1329 503h2M1335 555h2M1422 599h2M1338 442h2M1263 402h2M1265 372h2M1343 588h2M1333 507h2M1378 570h2M1313 551h2M1277 486h2M1338 512h2M1331 443h2M1319 532h2M1367 519h2M1348 544h2M1320 590h2M1397 577h2M1399 565h2M1405 507h2M1298 553h2M1375 544h2M1304 547h2M1376 518h2M1422 564h2M1313 412h2M1305 540h2M1314 447h2M1327 448h2M1414 572h2M1249 279h2M1312 434h2M1295 456h2M1277 306h2M1324 459h2M1356 597h2M1300 538h2M1272 463h2M1426 576h2M1384 580h2M1323 502h2M1312 560h2M1347 489h2M1280 408h2M1326 526h2M1326 539h2M1286 358h2M1352 546h2M1412 588h2M1404 557h2M1396 545h2M1296 423h2M1411 586h2M1307 572h2M1266 260h2M1305 529h2M1384 596h2M1316 430h2M1341 562h2M1317 589h2M1273 405h2M1399 604h2M1290 517h2M1287 386h2M1365 530h2M1297 460h2M1308 497h2M1380 591h2M1268 452h2M1252 357h2M1269 338h2M1261 324h2M1327 538h2M1329 595h2M1264 309h2M1427 572h2M1327 585h2M1336 515h2M1406 576h2M1348 569h2M1257 261h2M1304 558h2M1288 462h2M1345 539h2M1279 425h2M1307 525h2M1244 255h2M1388 589h2M1247 316h2M1340 515h2M1369 590h2M1320 567h2M1321 491h2M1425 553h2M1343 549h2M1269 462h2M1280 330h2M1317 594h2M1349 604h2M1338 495h2M1311 428h2M1286 332h2M1355 507h2M1272 437h2M1284 299h2M1345 427h2M1232 179h2M1375 599h2M1316 414h2M1322 474h2M1409 531h2M1297 403h2M1364 558h2M1326 447h2M1311 569h2M1386 597h2M1330 532h2M1358 608h2M1313 457h2M1367 576h2M1289 362h2M1324 473h2M1272 350h2M1293 365h2M1408 594h2M1364 491h2M1287 523h2M1353 607h2M1409 557h2M1305 487h2M1298 486h2M1385 606h2M1403 516h2M1296 324h2M1265 371h2M1355 528h2M1291 423h2M1328 541h2M1292 514h2M1366 565h2M1403 598h2M1245 209h2M1316 558h2M1278 466h2M1355 552h2M1257 272h2M1284 313h2M1362 522h2M1351 471h2M1398 570h2M1313 388h2M1367 553h2M1392 598h2M1261 338h2M1390 524h2M1296 425h2M1355 539h2M1360 557h2M1316 431h2M1276 353h2M1243 295h2M1242 233h2M1350 471h2M1377 562h2M1306 493h2M1355 541h2M1338 566h2M1390 595h2M1273 378h2M1426 588h2M1420 560h2M1381 578h2M1321 467h2M1268 311h2M1405 527h2M1321 565h2M1296 403h2M1273 429h2M1366 542h2M1347 528h2M1295 404h2M1265 430h2M1295 418h2M1329 547h2M1291 377h2M1373 501h2M1267 371h2M1265 416h2M1340 546h2M1346 606h2M1307 521h2M1322 579h2M1329 512h2M1342 434h2M1267 281h2M1283 437h2M1290 478h2M1273 368h2M1294 408h2M1294 538h2M1311 474h2M1305 557h2M1326 547h2M1327 472h2M1392 580h2M1288 491h2M1425 580h2M1293 520h2M1404 606h2M1309 530h2M1343 499h2M1421 542h2M1317 425h2M1363 541h2M1302 453h2M1321 465h2M1353 524h2M1405 533h2M1325 568h2M1259 316h2M1411 584h2M1249 353h2M1336 498h2M1313 453h2M1355 549h2M1303 436h2M1272 370h2M1274 275h2M1296 481h2M1391 604h2M1286 380h2M1293 552h2M1310 474h2M1272 359h2M1273 376h2M1261 283h2M1306 538h2M1306 421h2M1298 536h2M1270 305h2M1366 591h2M1388 540h2M1369 582h2M1296 526h2M1331 579h2M1279 460h2M1287 391h2M1278 284h2M1289 500h2M1295 530h2M1256 323h2M1246 264h2M1335 483h2M1349 569h2M1323 472h2M1288 391h2M1311 587h2M1274 459h2M1268 430h2M1270 264h2M1352 520h2M1408 560h2M1415 541h2M1332 537h2M1341 488h2M1390 587h2M1319 558h2M1289 522h2M1315 603h2M1323 488h2M1377 534h2M1253 211h2M1382 580h2M1374 537h2M1401 541h2M1225 199h2M1351 489h2M1229 205h2M1422 572h2M1396 590h2M1400 579h2M1311 557h2M1295 318h2M1260 335h2M1312 445h2M1365 504h2M1309 564h2M1420 568h2M1253 346h2M1296 527h2M1369 487h2M1360 559h2M1271 433h2M1385 610h2M1321 527h2M1381 603h2M1343 570h2M1323 477h2M1395 551h2M1346 533h2M1272 344h2M1334 595h2M1334 516h2M1348 525h2M1274 331h2M1367 515h2M1425 603h2M1335 584h2M1328 451h2M1277 473h2M1268 324h2M1276 373h2M1304 453h2M1336 538h2M1342 563h2M1234 177h2M1369 581h2M1359 496h2M1280 315h2M1334 442h2M1388 584h2M1384 607h2M1310 395h2M1226 165h2M1326 512h2M1352 529h2M1326 551h2M1334 435h2M1298 342h2M1411 575h2M1357 542h2M1373 548h2M1360 540h2M1272 460h2M1317 425h2M1301 526h2M1281 429h2M1351 463h2M1342 572h2M1378 596h2M1328 575h2M1387 588h2M1324 522h2M1290 381h2M1319 420h2M1408 515h2M1354 587h2M1333 584h2M1354 559h2M1345 494h2M1416 538h2M1344 562h2M1233 210h2M1341 469h2M1375 574h2M1262 339h2M1267 327h2M1383 588h2M1401 582h2M1228 192h2M1258 350h2M1334 530h2M1310 416h2M1398 532h2M1376 549h2M1278 353h2M1271 360h2M1325 531h2M1264 414h2M1413 535h2M1379 550h2M1394 541h2M1377 549h2M1378 497h2M1382 536h2M1228 174h2M1354 514h2M1329 536h2M1393 568h2M1290 458h2M1396 544h2M1360 539h2M1293 353h2M1341 596h2M1282 390h2M1340 467h2M1382 534h2M1337 472h2M1369 498h2M1404 548h2M1369 485h2M1287 343h2M1372 531h2M1334 590h2M1307 518h2M1313 504h2M1332 594h2M1334 503h2M1393 522h2M1276 415h2M1360 457h2M1409 583h2M1360 467h2M1255 333h2M1389 529h2M1360 556h2M1337 540h2M1259 374h2M1309 534h2M1345 525h2M1284 380h2M1308 488h2M1285 433h2M1308 456h2M1348 591h2M1326 474h2M1302 456h2M1363 594h2M1327 562h2M1290 323h2M1380 497h2M1311 514h2M1361 500h2M1292 426h2M1279 322h2M1259 280h2M1268 357h2M1302 551h2M1314 553h2M1380 504h2M1303 449h2M1271 411h2M1398 588h2M1334 605h2M1302 489h2M1302 541h2M1306 551h2M1316 498h2M1370 491h2M1298 447h2M1319 537h2M1363 558h2M1393 610h2M1387 576h2M1400 559h2M1374 540h2M1348 477h2M1352 475h2M1307 601h2M1313 462h2M1338 445h2M1249 325h2M1351 589h2M1255 334h2M1310 382h2M1280 426h2M1367 557h2M1318 439h2M1239 230h2M1369 559h2M1249 291h2M1320 561h2M1340 574h2M1241 236h2M1277 341h2M1330 454h2M1336 539h2M1339 609h2M1287 460h2M1423 547h2M1368 477h2M1258 381h2M1409 577h2M1347 493h2M1286 469h2M1341 491h2M1325 484h2M1339 561h2M1221 153h2M1311 569h2M1353 522h2M1284 397h2M1267 403h2M1272 357h2M1329 608h2M1300 455h2M1334 603h2M1307 407h2M1352 554h2M1303 526h2M1325 561h2M1279 442h2M1266 427h2M1378 567h2M1341 483h2M1361 497h2M1401 603h2M1352 544h2M1377 541h2M1298 328h2M1292 484h2M1396 529h2M1283 480h2M1288 486h2M1278 302h2M1346 589h2M1303 425h2M1301 385h2M1263 382h2M1417 530h2M1330 499h2M1285 397h2M1256 341h2M1398 596h2M1352 491h2M1323 545h2M1398 512h2M1240 242h2M1317 498h2M1360 512h2M1367 518h2M1331 466h2M1423 554h2M1289 496h2M1344 494h2M1308 362h2M1285 424h2M1294 337h2M1272 400h2M1315 579h2M1299 542h2M1363 588h2M1300 343h2M1407 523h2M1283 445h2M1363 610h2M1322 446h2M1313 547h2M1305 458h2M1225 180h2M1377 538h2M1266 300h2M1366 479h2M1320 410h2M1400 534h2M1368 553h2M1235 270h2M1394 584h2M1305 482h2M1333 437h2M1332 485h2M1330 546h2M1291 468h2M1270 333h2M1291 415h2M1356 516h2M1338 582h2M1352 546h2M1306 539h2M1274 346h2M1344 499h2M1358 567h2M1286 440h2M1383 547h2M1318 516h2M1384 543h2M1309 447h2M1242 214h2M1325 436h2M1328 584h2M1263 268h2M1282 409h2M1277 377h2M1294 427h2M1311 398h2M1328 459h2M1390 587h2M1333 471h2M1423 540h2M1277 445h2M1287 510h2M1384 518h2M1401 588h2M1382 609h2M1270 424h2M1322 585h2M1379 559h2M1285 455h2M1295 349h2M1359 505h2M1322 574h2M1277 373h2M1329 523h2M1384 522h2M1245 308h2M1288 520h2M1311 551h2M1289 444h2M1276 442h2M1335 554h2M1338 536h2M1292 385h2M1257 334h2M1346 584h2M1346 469h2M1342 433h2M1426 604h2M1261 415h2M1243 252h2M1390 607h2M1350 476h2M1319 506h2M1312 489h2M1297 444h2M1422 541h2M1303 495h2M1295 474h2M1239 254h2M1287 435h2M1344 586h2M1369 599h2M1295 517h2M1342 587h2M1338 541h2M1318 429h2M1268 295h2M1426 576h2M1352 593h2M1316 417h2M1309 472h2M1297 501h2M1334 469h2M1272 416h2M1354 567h2M1339 494h2M1269 338h2M1242 221h2M1254 293h2M1282 321h2M1364 589h2M1357 564h2M1308 487h2M1304 502h2M1332 431h2M1407 564h2M1358 467h2M1330 602h2M1285 343h2M1284 456h2M1422 612h2M1390 516h2M1231 217h2M1353 612h2M1291 366h2M1355 450h2M1418 551h2M1332 533h2M1313 573h2M1419 585h2M1292 459h2M1383 584h2M1320 568h2M1294 483h2M1399 521h2M1314 556h2M1309 474h2M1295 411h2M1318 576h2M1298 473h2M1427 585h2M1266 267h2M1332 514h2M1301 557h2M1353 535h2M1270 300h2M1303 479h2M1274 396h2M1315 558h2M1411 592h2M1346 516h2M1298 423h2M1346 478h2M1312 552h2M1358 484h2M1368 584h2M1281 288h2M1364 578h2M1363 594h2M1427 599h2M1411 551h2M1323 491h2M1355 499h2M1421 553h2M1241 291h2M1300 481h2M1325 540h2M1350 554h2M1267 351h2M1377 576h2M1345 533h2M1313 443h2M1392 533h2M1328 539h2M1383 587h2M1367 582h2M1296 441h2M1332 563h2M1288 508h2M1365 484h2M1292 516h2M1423 604h2M1339 523h2M1391 604h2M1271 275h2M1380 565h2M1374 539h2M1390 549h2M1275 279h2M1328 554h2M1339 597h2M1359 586h2M1334 566h2M1284 432h2M1316 511h2M1332 524h2M1272 376h2M1424 579h2M1250 336h2M1282 360h2M1283 384h2M1315 519h2M1267 324h2M1273 364h2M1350 578h2M1386 505h2M1273 386h2M1284 459h2M1274 432h2M1329 580h2M1324 504h2M1288 374h2M1369 611h2M1243 305h2M1355 601h2M1400 601h2M1357 513h2M1289 434h2M1424 555h2M1252 362h2M1243 269h2M1282 475h2M1387 556h2M1344 528h2M1374 543h2M1352 502h2M1305 518h2M1291 458h2M1320 573h2M1371 603h2M1304 446h2M1344 604h2M1293 331h2M1341 497h2M1353 579h2M1314 488h2M1306 538h2M1290 410h2M1332 521h2M1279 439h2M1326 481h2M1403 528h2M1284 284h2M1374 606h2M1328 587h2M1276 439h2M1304 561h2M1314 552h2M1397 566h2M1308 501h2M1383 606h2M1406 530h2M1317 593h2M1356 532h2M1340 593h2M1277 475h2M1302 396h2M1396 554h2M1283 335h2M1349 538h2M1328 491h2M1256 278h2M1377 498h2M1334 436h2M1340 456h2M1368 562h2M1335 474h2M1337 602h2M1386 604h2M1299 497h2M1425 534h2M1334 467h2M1226 167h2M1387 520h2M1389 526h2M1419 552h2M1283 344h2M1307 522h2M1237 153h2M1366 514h2M1291 472h2M1352 603h2M1270 380h2M1397 544h2M1309 526h2M1313 474h2M1309 436h2M1270 418h2M1305 473h2M1347 501h2M1345 590h2M1325 513h2M1311 501h2M1396 525h2M1278 448h2M1372 503h2M1418 557h2M1341 575h2M1336 598h2M1267 395h2M1345 602h2M1332 443h2M1421 566h2M1308 441h2M1382 587h2M1336 604h2M1281 396h2M1345 545h2M1281 489h2M1244 268h2M1305 422h2M1323 509h2M1310 519h2M1258 306h2M1294 406h2M1311 499h2M1337 463h2M1338 529h2M1282 348h2M1258 301h2M1363 603h2M1351 570h2M1282 425h2M1363 585h2M1256 375h2M1288 475h2M1331 592h2M1243 282h2M1268 376h2M1293 500h2M1300 533h2M1329 489h2M1323 572h2M1275 330h2M1272 379h2M1328 607h2M1390 550h2M1354 574h2M1360 533h2M1280 373h2M1262 382h2M1310 507h2M1354 546h2M1296 433h2M1335 545h2M1269 481h2M1281 395h2M1320 475h2M1319 546h2M1307 587h2M1287 287h2M1246 296h2M1291 515h2M1403 585h2M1316 517h2M1406 591h2M1305 486h2M1277 462h2M1251 237h2M1281 357h2M1383 528h2M1265 273h2M1332 505h2M1391 563h2M1360 472h2M1378 514h2M1322 520h2M1311 564h2M1273 457h2M1366 503h2M1273 332h2M1382 497h2M1292 476h2M1245 316h2M1301 539h2M1355 484h2M1376 510h2M1337 582h2M1265 416h2M1294 408h2M1316 578h2M1294 437h2M1371 533h2M1249 351h2M1361 563h2M1292 316h2M1304 553h2M1301 454h2M1322 515h2M1323 535h2M1320 455h2M1282 336h2M1300 467h2M1269 326h2M1247 262h2M1326 463h2M1369 531h2M1340 593h2M1268 300h2M1360 544h2M1382 571h2M1339 594h2M1266 341h2M1326 571h2M1305 387h2M1311 549h2M1401 600h2M1365 496h2M1300 527h2M1357 491h2M1356 517h2M1427 544h2M1282 480h2M1408 561h2M1380 576h2M1351 591h2M1272 323h2M1245 225h2M1305 410h2M1299 441h2M1278 455h2M1265 309h2M1310 466h2M1336 598h2M1361 574h2M1277 321h2M1275 409h2M1312 546h2M1360 489h2M1274 434h2M1286 310h2M1342 599h2M1360 482h2M1247 294h2M1413 592h2M1314 501h2M1406 578h2M1289 451h2M1295 468h2M1318 597h2M1256 348h2M1377 543h2M1370 519h2M1341 468h2M1379 553h2M1277 478h2M1348 506h2M1367 602h2M1384 607h2M1270 315h2M1251 239h2M1343 548h2M1301 539h2M1353 526h2M1297 390h2M1310 429h2M1326 533h2M1290 481h2M1243 218h2M1392 603h2M1256 386h2M1313 436h2M1377 575h2M1307 517h2M1325 521h2M1362 499h2M1229 197h2M1307 539h2M1285 357h2M1243 223h2M1235 273h2M1349 518h2M1261 297h2M1258 351h2M1283 465h2M1373 551h2M1329 541h2M1410 554h2M1289 494h2M1301 419h2M1326 501h2M1416 583h2M1333 562h2M1359 578h2M1423 550h2M1366 556h2M1291 407h2M1347 450h2M1362 485h2M1401 587h2M1341 487h2M1287 518h2M1418 593h2M1382 611h2M1287 507h2M1413 548h2M1393 569h2M1403 605h2M1246 323h2M1336 467h2M1289 294h2M1378 564h2M1319 582h2M1318 432h2M1396 568h2M1243 246h2M1267 372h2M1385 520h2M1344 441h2M1369 593h2M1329 579h2M1304 395h2M1287 400h2M1379 568h2M1370 586h2M1232 147h2M1298 511h2M1227 168h2M1380 574h2M1288 342h2M1427 600h2M1308 486h2M1285 385h2M1263 342h2M1270 295h2M1406 588h2M1307 508h2M1281 423h2M1288 446h2M1290 360h2M1266 375h2M1353 474h2M1354 547h2M1331 548h2M1376 600h2M1347 500h2M1288 372h2M1418 598h2M1397 504h2M1314 570h2M1241 243h2M1316 574h2M1352 599h2M1313 574h2M1315 521h2M1339 560h2M1380 549h2M1311 432h2M1379 493h2M1309 529h2M1316 402h2M1267 398h2M1294 458h2M1274 458h2M1376 580h2M1252 248h2M1269 419h2M1287 398h2M1303 433h2M1391 603h2M1376 593h2M1418 538h2M1350 583h2M1317 592h2M1235 185h2M1359 533h2M1348 590h2M1291 520h2M1329 527h2M1284 315h2M1410 594h2M1373 510h2M1307 544h2M1358 526h2M1286 394h2M1335 441h2M1345 476h2M1323 462h2M1303 551h2M1258 308h2M1302 556h2M1282 490h2M1226 287h2M1339 497h2M1418 549h2M1240 229h2M1315 477h2M1317 476h2M1268 340h2M1302 545h2M1352 527h2M1263 271h2M1293 317h2M1419 544h2M1407 550h2M1284 472h2M1275 362h2M1354 491h2M1355 480h2M1311 520h2M1306 445h2M1231 246h2M1320 534h2M1280 466h2M1376 521h2M1314 506h2M1408 562h2M1310 570h2M1318 527h2M1402 604h2M1336 563h2M1252 385h2M1414 536h2M1236 252h2M1308 513h2M1270 385h2M1415 564h2M1351 519h2M1416 593h2M1291 537h2M1422 599h2M1378 571h2M1269 346h2M1417 565h2M1282 339h2M1274 271h2M1326 438h2M1419 578h2M1239 220h2M1252 246h2M1325 477h2M1343 466h2M1332 586h2M1282 453h2M1343 572h2M1331 524h2M1306 412h2M1404 521h2M1359 497h2M1350 552h2M1326 516h2M1402 605h2M1314 488h2M1269 402h2M1318 459h2M1334 534h2M1326 420h2M1254 361h2M1327 403h2M1367 508h2M1401 586h2M1339 456h2M1313 583h2M1393 518h2M1265 314h2M1311 560h2M1255 251h2M1259 365h2M1343 579h2M1378 522h2M1378 594h2M1282 505h2M1343 566h2M1360 494h2M1341 515h2M1331 609h2M1422 546h2M1293 452h2M1358 497h2M1393 533h2M1280 474h2M1316 568h2M1330 455h2M1267 355h2M1338 610h2M1290 522h2M1343 496h2M1345 503h2M1300 546h2M1309 532h2M1308 544h2M1285 436h2M1347 555h2M1293 481h2M1376 600h2M1415 581h2M1419 543h2M1396 592h2M1265 401h2M1382 589h2M1326 510h2M1342 512h2M1300 484h2M1278 320h2M1302 548h2M1292 438h2M1376 530h2M1271 330h2M1379 606h2M1258 420h2M1340 588h2M1368 531h2M1286 498h2M1379 520h2M1326 600h2M1331 494h2M1419 569h2M1309 565h2M1405 601h2M1327 523h2M1268 375h2M1354 601h2M1383 530h2M1230 236h2M1349 591h2M1375 533h2M1275 463h2M1272 428h2M1365 502h2M1338 471h2M1359 554h2M1232 163h2M1300 386h2M1300 390h2M1396 577h2M1341 480h2M1421 576h2M1299 465h2M1351 489h2M1384 576h2M1373 559h2M1357 488h2M1288 498h2M1401 587h2M1411 567h2M1299 500h2M1255 357h2M1257 230h2M1325 573h2M1307 424h2M1351 507h2M1290 409h2M1316 401h2M1329 494h2M1325 494h2M1287 452h2M1303 562h2M1329 589h2M1420 538h2M1300 415h2M1405 553h2M1299 332h2M1371 510h2M1297 563h2M1315 575h2M1321 588h2M1360 603h2M1264 455h2M1272 423h2M1384 483h2M1266 398h2M1334 580h2M1407 562h2M1388 580h2M1411 587h2M1353 583h2M1341 521h2M1384 605h2M1337 585h2M1352 556h2M1295 396h2M1333 429h2M1390 545h2M1304 386h2M1289 395h2M1319 425h2M1348 512h2M1244 306h2M1329 502h2M1276 283h2M1358 487h2M1383 598h2M1283 478h2M1315 595h2M1261 362h2M1399 559h2M1264 285h2M1270 304h2M1416 532h2M1274 297h2M1423 545h2M1407 589h2M1251 279h2M1372 593h2M1299 442h2M1408 548h2M1250 293h2M1319 406h2M1423 600h2M1376 537h2M1368 576h2M1300 491h2M1267 417h2M1341 494h2M1264 325h2M1285 439h2M1232 245h2M1263 321h2M1354 495h2M1264 248h2M1258 407h2M1344 467h2M1352 607h2M1339 514h2M1333 584h2M1301 480h2M1322 498h2M1309 374h2M1302 479h2M1273 390h2M1379 513h2M1378 530h2M1308 519h2M1336 525h2M1241 236h2M1363 556h2M1348 560h2M1305 490h2M1370 483h2M1250 217h2M1421 584h2M1270 284h2M1341 512h2M1282 452h2M1379 491h2M1286 366h2M1289 476h2M1395 531h2M1388 611h2M1280 443h2M1382 540h2M1422 545h2M1258 404h2M1360 490h2M1265 302h2M1356 521h2M1237 195h2M1310 443h2M1308 522h2M1275 381h2M1370 576h2M1334 460h2M1324 550h2M1318 422h2M1331 595h2M1312 596h2M1379 587h2M1253 361h2M1386 543h2M1343 498h2M1305 422h2M1276 313h2M1326 447h2M1337 571h2M1320 516h2M1390 499h2M1272 299h2M1311 538h2M1274 286h2M1269 393h2M1288 502h2M1269 319h2M1280 428h2M1380 517h2M1357 518h2M1395 517h2M1359 477h2M1335 574h2M1297 458h2M1346 479h2M1414 562h2M1280 363h2M1276 467h2M1387 535h2M1285 420h2M1362 547h2M1324 464h2M1372 563h2M1297 362h2M1318 481h2M1272 366h2M1283 458h2M1282 402h2M1388 572h2M1365 608h2M1285 272h2M1303 478h2M1406 529h2M1331 606h2M1366 570h2M1307 463h2M1313 452h2M1369 578h2M1363 533h2M1231 178h2M1357 531h2M1295 349h2M1279 476h2M1264 257h2M1321 513h2M1375 581h2M1274 341h2M1312 428h2M1306 499h2M1322 396h2M1317 536h2M1239 296h2M1286 403h2M1307 523h2M1365 549h2M1344 521h2M1368 589h2M1238 309h2M1424 575h2M1309 552h2M1425 579h2M1296 534h2M1414 564h2M1343 549h2M1226 242h2M1340 510h2M1292 403h2M1358 540h2M1377 554h2M1309 505h2M1331 465h2M1247 339h2M1332 578h2M1350 488h2M1300 434h2M1284 440h2M1319 599h2M1329 471h2M1337 516h2M1302 507h2M1414 560h2M1307 498h2M1306 393h2M1320 600h2M1354 553h2M1326 444h2M1239 240h2M1356 554h2M1258 242h2M1348 534h2M1352 545h2M1396 606h2M1307 533h2M1421 600h2M1238 223h2M1401 598h2M1288 464h2M1277 479h2M1249 245h2M1264 262h2M1328 468h2M1275 458h2M1271 411h2M1265 375h2M1299 471h2M1310 440h2M1365 533h2M1348 608h2M1275 276h2M1407 578h2M1391 587h2M1361 596h2M1324 502h2M1305 419h2M1319 457h2M1398 548h2M1254 358h2M1374 594h2M1335 491h2M1402 565h2M1406 538h2M1356 527h2M1308 490h2M1345 571h2M1379 526h2M1352 585h2M1241 241h2M1363 507h2M1296 452h2M1328 562h2M1225 205h2M1327 569h2M1303 386h2M1270 380h2M1231 264h2M1361 599h2M1394 526h2M1237 195h2M1349 602h2M1370 511h2M1347 588h2M1405 608h2M1299 414h2M1250 274h2M1382 573h2M1265 335h2M1348 534h2M1362 469h2M1349 525h2M1317 585h2M1274 417h2M1293 393h2M1310 439h2M1355 543h2M1230 196h2M1420 558h2M1312 440h2M1330 461h2M1245 329h2M1304 481h2M1424 597h2M1419 557h2M1287 400h2M1284 369h2M1356 535h2M1290 370h2M1425 553h2M1292 486h2M1325 509h2M1373 575h2M1278 462h2M1338 459h2M1282 323h2M1320 536h2M1342 448h2M1303 466h2M1321 562h2M1309 492h2M1275 361h2M1422 610h2M1291 440h2M1339 465h2M1412 576h2M1266 415h2M1294 439h2M1283 458h2M1225 187h2M1409 537h2M1230 192h2M1320 428h2M1285 397h2M1291 532h2M1299 417h2M1356 583h2M1363 566h2M1398 562h2M1423 589h2M1373 576h2M1312 423h2M1367 590h2M1330 560h2M1351 554h2M1299 487h2M1404 590h2M1244 276h2M1276 399h2M1351 453h2M1261 448h2M1318 569h2M1321 546h2M1329 467h2M1357 526h2M1295 458h2M1346 497h2M1298 434h2M1292 350h2M1306 563h2M1291 468h2M1275 382h2M1307 527h2M1399 551h2M1293 418h2M1362 576h2M1380 540h2M1406 548h2M1294 479h2M1370 597h2M1391 606h2M1400 556h2M1330 505h2M1328 532h2M1388 553h2M1274 445h2M1286 525h2M1256 338h2M1274 453h2M1336 606h2M1300 399h2M1329 471h2M1347 481h2M1241 182h2M1344 495h2M1373 545h2M1413 566h2M1269 348h2M1311 444h2M1325 563h2M1371 606h2M1277 406h2M1251 341h2M1391 571h2M1371 579h2M1372 524h2M1314 379h2M1341 501h2M1303 490h2M1287 406h2M1317 416h2M1307 458h2M1321 535h2M1237 280h2M1300 445h2M1227 153h2M1250 245h2M1309 488h2M1300 477h2M1388 555h2M1373 486h2M1290 503h2M1285 470h2M1336 545h2M1319 553h2M1381 506h2M1236 239h2M1393 608h2M1355 607h2M1369 568h2M1273 409h2M1274 354h2M1309 539h2M1391 575h2M1374 598h2M1331 506h2M1354 506h2M1340 547h2M1349 466h2M1369 607h2M1329 519h2M1313 551h2M1308 571h2M1270 391h2M1417 574h2M1318 562h2M1337 586h2M1353 528h2M1292 454h2M1293 408h2M1278 458h2M1229 257h2M1321 601h2M1317 410h2M1359 521h2M1291 317h2M1306 391h2M1424 545h2M1324 563h2M1342 541h2M1353 605h2M1249 283h2M1336 598h2M1296 421h2M1274 478h2M1324 426h2M1282 412h2M1408 527h2M1329 596h2M1374 531h2M1283 452h2M1316 417h2M1376 602h2M1269 274h2M1284 462h2M1327 510h2M1420 520h2M1418 564h2M1351 511h2M1360 528h2M1336 473h2M1377 568h2M1328 598h2M1330 592h2M1307 476h2M1382 582h2M1281 400h2M1417 543h2M1352 548h2M1332 611h2M1388 505h2M1329 487h2M1268 387h2M1261 288h2M1407 603h2M1365 494h2M1341 509h2M1286 319h2M1373 609h2M1275 399h2M1305 364h2M1287 432h2M1306 570h2M1266 322h2M1325 548h2M1325 572h2M1299 351h2M1258 360h2M1362 552h2M1362 599h2M1274 351h2M1359 607h2M1282 448h2M1333 599h2M1258 293h2M1271 346h2M1292 398h2M1378 542h2M1283 473h2M1376 566h2M1333 586h2M1359 518h2M1422 553h2M1351 529h2M1416 531h2M1339 457h2M1276 326h2M1393 546h2M1298 404h2M1319 497h2M1318 523h2M1281 442h2M1252 303h2M1352 557h2M1251 372h2M1288 500h2M1252 279h2M1333 436h2M1244 292h2M1259 259h2M1245 252h2M1314 506h2M1378 524h2M1322 467h2M1356 575h2M1287 473h2M1329 498h2M1326 514h2M1391 585h2M1313 503h2M1370 537h2M1272 406h2M1274 317h2M1385 555h2M1351 595h2M1333 571h2M1307 393h2M1300 524h2M1282 403h2M1380 500h2M1234 185h2M1336 595h2M1370 557h2M1392 516h2M1408 554h2M1377 529h2M1265 354h2M1301 529h2M1389 525h2M1347 518h2M1382 529h2M1282 408h2M1288 498h2M1297 378h2M1362 590h2M1388 599h2M1388 534h2M1356 593h2M1369 556h2M1266 430h2M1295 466h2M1386 559h2M1280 445h2M1264 329h2M1408 568h2M1341 564h2M1316 429h2M1326 536h2M1332 555h2M1276 384h2M1322 473h2M1337 512h2M1386 563h2M1265 386h2M1416 570h2M1279 353h2M1331 579h2M1246 350h2M1306 362h2M1277 331h2M1259 363h2M1317 571h2M1277 367h2M1297 507h2M1370 493h2M1286 408h2M1384 528h2M1312 535h2M1330 445h2M1337 428h2M1308 483h2M1323 551h2M1296 541h2M1333 471h2M1340 464h2M1410 527h2M1317 457h2M1375 505h2M1272 373h2M1329 607h2M1290 531h2M1401 544h2M1291 352h2M1249 347h2M1317 406h2M1340 455h2M1393 523h2M1399 567h2M1397 581h2M1411 590h2M1381 506h2M1325 603h2M1388 598h2M1402 604h2M1349 562h2M1365 570h2M1297 388h2M1330 598h2M1351 561h2M1380 536h2M1289 488h2M1264 263h2M1406 596h2M1283 435h2M1278 450h2M1357 489h2M1306 476h2M1366 506h2M1333 505h2M1278 297h2M1394 573h2M1344 578h2M1317 579h2M1338 490h2M1315 555h2M1340 487h2M1242 226h2M1331 481h2M1340 458h2M1345 470h2M1328 503h2M1415 601h2M1327 582h2M1299 455h2M1351 484h2M1280 419h2M1402 588h2M1290 482h2M1318 492h2M1322 474h2M1244 338h2M1289 382h2M1276 391h2M1335 461h2M1328 535h2M1406 536h2M1242 232h2M1385 587h2M1419 557h2M1309 536h2M1322 606h2M1324 418h2M1342 536h2M1321 577h2M1337 572h2M1377 609h2M1348 456h2M1296 423h2M1263 345h2M1335 593h2M1365 603h2M1408 602h2M1275 436h2M1327 578h2M1320 477h2M1246 235h2M1397 524h2M1342 604h2M1392 568h2M1294 448h2M1317 587h2M1419 599h2M1320 586h2M1380 586h2M1311 578h2M1327 519h2M1304 420h2M1400 602h2M1314 472h2M1275 290h2M1300 505h2M1248 255h2M1321 492h2M1341 450h2M1355 500h2M1330 416h2M1362 496h2M1285 501h2M1290 426h2M1317 494h2M1324 548h2M1365 519h2M1238 282h2M1314 399h2M1347 524h2M1334 581h2M1409 573h2M1338 487h2M1271 459h2M1243 261h2M1235 201h2M1401 597h2M1339 468h2M1425 568h2M1267 464h2M1390 589h2M1331 549h2M1304 472h2M1317 472h2M1306 516h2M1397 557h2M1287 485h2M1263 439h2M1279 340h2M1277 367h2M1339 453h2M1275 287h2M1303 431h2M1397 575h2M1371 497h2M1284 461h2M1315 558h2M1332 529h2M1263 351h2M1278 369h2M1360 513h2M1326 597h2M1283 416h2M1308 538h2M1364 470h2M1315 509h2M1422 568h2M1295 355h2M1366 502h2M1293 449h2M1366 513h2M1267 375h2M1269 458h2M1413 585h2M1309 441h2M1330 605h2M1314 588h2M1390 583h2M1280 473h2M1315 513h2M1422 603h2M1341 491h2M1328 533h2M1322 506h2M1239 251h2M1270 325h2M1261 390h2M1297 500h2M1305 416h2M1394 574h2M1351 485h2M1280 309h2M1394 546h2M1323 473h2M1255 261h2M1330 607h2M1247 253h2M1389 609h2M1262 380h2M1336 512h2M1325 505h2M1352 529h2M1341 559h2M1334 592h2M1369 500h2M1365 506h2M1378 499h2M1325 440h2M1349 516h2M1328 580h2M1307 515h2M1271 339h2M1255 373h2M1376 542h2M1319 435h2M1364 559h2M1289 420h2M1368 609h2M1348 585h2M1286 491h2M1325 584h2M1352 577h2M1339 452h2M1362 600h2M1426 602h2M1316 528h2M1331 474h2M1313 395h2M1260 298h2M1385 557h2M1366 581h2M1381 572h2M1356 563h2M1306 485h2M1325 581h2M1328 586h2M1323 569h2M1311 335h2M1326 416h2M1313 556h2M1382 593h2M1423 563h2M1370 539h2M1269 396h2M1366 543h2M1386 515h2M1308 537h2M1310 438h2M1372 548h2M1393 547h2M1393 602h2M1330 572h2M1292 464h2M1235 204h2M1321 603h2M1427 540h2M1233 152h2M1264 360h2M1323 486h2M1347 496h2M1241 272h2M1340 569h2M1241 253h2M1381 579h2M1265 430h2M1308 398h2M1334 497h2M1427 559h2M1266 268h2M1321 414h2M1421 606h2M1270 269h2M1417 585h2M1320 468h2M1321 462h2M1331 504h2M1237 279h2M1323 428h2M1330 491h2M1338 561h2M1323 599h2M1231 192h2M1419 553h2M1334 554h2M1286 287h2M1368 565h2M1318 529h2M1288 478h2M1328 558h2M1303 494h2M1316 484h2M1325 533h2M1367 611h2M1312 387h2M1395 550h2M1352 519h2M1339 612h2M1359 526h2M1365 497h2M1412 549h2M1322 537h2M1361 501h2M1306 498h2M1264 318h2M1294 495h2M1374 528h2M1341 461h2M1395 524h2M1336 569h2M1324 542h2M1298 410h2M1358 471h2M1300 326h2M1320 544h2M1406 591h2M1347 509h2M1321 487h2M1401 520h2M1412 602h2M1347 498h2M1411 547h2M1423 567h2M1296 434h2M1279 433h2M1368 525h2M1411 570h2M1374 559h2M1412 570h2M1370 494h2M1355 477h2M1274 393h2M1290 389h2M1275 368h2M1367 497h2M1275 404h2M1418 548h2M1321 532h2M1334 606h2M1271 320h2M1278 302h2M1265 297h2M1404 549h2M1356 461h2M1304 457h2M1419 611h2M1334 571h2M1254 261h2M1307 390h2M1258 276h2M1333 588h2M1417 547h2M1244 299h2M1354 550h2M1404 577h2M1395 572h2M1235 244h2M1396 507h2M1425 543h2M1308 459h2M1310 478h2M1333 447h2M1312 414h2M1423 566h2M1359 579h2M1353 490h2M1406 589h2M1336 564h2M1296 426h2M1358 489h2M1291 549h2M1331 534h2M1357 504h2M1368 577h2M1250 246h2M1315 391h2M1334 448h2M1294 373h2M1243 207h2M1319 497h2M1273 336h2M1337 533h2M1367 544h2M1275 430h2M1371 504h2M1315 529h2M1353 502h2M1275 458h2M1367 538h2M1322 408h2M1328 516h2M1400 546h2M1284 478h2M1318 427h2M1394 525h2M1321 423h2M1398 553h2M1379 521h2M1337 564h2M1376 551h2M1345 584h2M1408 559h2M1353 608h2M1297 526h2M1322 598h2M1346 524h2M1382 501h2M1407 554h2M1334 546h2M1287 414h2M1256 386h2M1310 517h2M1383 520h2M1300 523h2M1374 602h2M1379 602h2M1330 581h2M1289 472h2M1408 584h2M1369 546h2M1318 574h2M1280 378h2M1304 355h2M1259 345h2M1289 523h2M1393 536h2M1266 403h2M1348 571h2M1403 581h2M1376 541h2M1348 524h2M1282 493h2M1262 361h2M1354 476h2M1268 388h2M1272 438h2M1396 557h2M1325 489h2M1401 548h2M1390 527h2M1291 480h2M1417 543h2M1323 479h2M1252 325h2M1297 445h2M1354 499h2M1272 295h2M1382 477h2M1381 515h2M1333 567h2M1377 539h2M1377 592h2M1322 593h2M1354 522h2M1329 443h2M1346 568h2M1352 579h2M1238 256h2M1309 393h2M1382 512h2M1279 360h2M1334 503h2M1423 566h2M1344 467h2M1295 412h2M1361 552h2M1409 548h2M1389 514h2M1263 288h2M1400 581h2M1232 210h2M1273 489h2M1284 328h2M1306 365h2M1401 515h2M1252 253h2M1301 455h2M1369 564h2M1345 450h2M1267 299h2M1337 529h2M1281 446h2M1369 541h2M1297 423h2M1331 482h2M1307 469h2M1405 577h2M1348 607h2M1355 563h2M1363 530h2M1297 390h2M1322 551h2M1399 524h2M1296 484h2M1331 427h2M1274 381h2M1241 220h2M1422 580h2M1333 509h2M1269 431h2M1373 605h2M1233 219h2M1383 545h2M1361 472h2M1372 573h2M1359 500h2M1278 392h2M1390 580h2M1398 499h2M1267 341h2M1304 443h2M1278 375h2M1335 549h2M1374 569h2M1324 527h2M1380 504h2M1269 292h2M1322 494h2M1389 521h2M1372 593h2M1362 605h2M1359 503h2M1243 262h2M1268 362h2M1357 555h2M1285 466h2M1324 522h2M1318 577h2M1417 549h2M1252 326h2M1365 602h2M1426 596h2M1313 452h2M1325 546h2M1338 519h2M1412 542h2M1354 512h2M1416 593h2M1371 528h2M1373 549h2M1427 557h2M1318 546h2M1327 597h2M1301 524h2M1400 515h2M1309 399h2M1354 555h2M1302 486h2M1320 431h2M1278 388h2M1362 497h2M1224 186h2M1348 568h2M1303 570h2M1319 587h2M1253 280h2M1246 265h2M1252 322h2M1359 555h2M1301 519h2M1416 553h2M1415 583h2M1240 286h2M1420 589h2M1305 535h2M1380 579h2M1369 517h2M1231 189h2M1284 424h2M1386 606h2M1419 532h2M1329 502h2M1358 585h2M1415 564h2M1298 538h2M1367 525h2M1226 152h2M1382 545h2M1268 377h2M1411 605h2M1285 401h2M1314 408h2M1290 523h2M1261 350h2M1406 586h2M1361 575h2M1251 315h2M1360 478h2M1300 381h2M1395 609h2M1397 558h2M1300 434h2M1369 487h2M1319 413h2M1365 539h2M1343 608h2M1254 326h2M1350 534h2M1302 543h2M1332 484h2M1297 356h2M1343 519h2M1380 556h2M1328 552h2M1342 522h2M1272 414h2M1327 542h2M1338 476h2M1244 292h2M1303 403h2M1273 369h2M1274 423h2M1398 584h2M1290 442h2M1269 380h2M1341 547h2M1270 298h2M1367 508h2M1330 497h2M1401 568h2M1351 574h2M1319 472h2M1346 539h2M1304 400h2M1283 442h2M1234 186h2M1389 579h2M1336 460h2M1339 537h2M1311 381h2M1250 224h2M1336 433h2M1320 580h2M1401 602h2M1296 490h2M1276 335h2M1352 573h2M1328 468h2M1331 579h2M1389 519h2M1369 506h2M1414 583h2M1326 480h2M1280 415h2M1315 597h2M1299 477h2M1348 562h2M1379 591h2M1345 468h2M1269 379h2M1343 591h2M1295 458h2M1410 568h2M1328 496h2M1396 557h2M1264 398h2M1355 587h2M1303 480h2M1243 290h2M1259 270h2M1421 582h2M1279 372h2M1260 269h2M1290 496h2M1313 550h2M1312 392h2M1395 528h2M1279 331h2M1390 560h2M1302 452h2M1306 548h2M1268 281h2M1319 501h2M1296 346h2M1308 471h2M1415 549h2M1307 446h2M1284 411h2M1311 522h2M1423 576h2M1320 473h2M1275 394h2M1347 594h2M1308 549h2M1338 527h2M1240 263h2M1398 604h2M1254 293h2M1284 281h2M1399 551h2M1404 541h2M1285 494h2M1423 581h2M1302 459h2M1289 482h2M1372 570h2M1344 491h2M1327 547h2M1248 300h2M1300 503h2M1314 443h2M1360 549h2M1331 608h2M1360 590h2M1415 548h2M1311 540h2M1393 528h2M1229 185h2M1314 568h2M1396 578h2M1273 316h2M1301 475h2M1333 608h2M1312 556h2M1364 577h2M1236 247h2M1306 480h2M1391 558h2M1352 453h2M1286 424h2M1230 205h2M1304 483h2M1379 547h2M1373 521h2M1335 450h2M1284 293h2M1302 520h2M1293 342h2M1312 566h2M1359 607h2M1304 568h2M1283 379h2M1250 237h2M1250 236h2M1338 561h2M1365 514h2M1390 599h2M1384 579h2M1231 228h2M1317 491h2M1328 464h2M1308 432h2M1283 502h2M1353 481h2M1304 527h2M1338 543h2M1346 511h2M1389 591h2M1284 401h2M1361 589h2M1347 547h2M1225 151h2M1348 584h2M1296 385h2M1324 459h2M1386 580h2M1270 309h2M1321 470h2M1261 396h2M1347 551h2M1303 421h2M1308 485h2M1352 601h2M1264 370h2M1238 185h2M1419 550h2M1338 597h2M1275 384h2M1323 530h2M1281 431h2M1377 490h2M1321 516h2M1333 521h2M1282 303h2M1236 259h2M1320 552h2M1252 319h2M1260 277h2M1305 536h2M1364 534h2M1312 472h2M1422 600h2M1321 606h2M1243 297h2M1295 442h2M1328 528h2M1303 472h2M1363 532h2M1393 549h2M1377 557h2M1274 449h2M1267 424h2M1407 568h2M1272 318h2M1375 547h2M1284 433h2M1421 579h2M1307 381h2M1310 567h2M1356 507h2M1278 384h2M1262 404h2M1255 319h2M1305 544h2M1428 578h2M1244 181h2M1282 321h2M1299 375h2M1261 266h2M1321 465h2M1261 286h2M1288 449h2M1278 464h2M1265 371h2M1297 508h2M1252 287h2M1297 299h2M1384 505h2M1236 263h2M1367 470h2M1372 491h2M1331 485h2M1295 470h2M1378 541h2M1304 362h2M1398 577h2M1327 526h2M1391 504h2M1394 526h2M1314 493h2M1317 518h2M1293 506h2M1326 518h2M1365 515h2M1284 331h2M1381 610h2M1340 569h2M1339 493h2M1272 270h2M1301 457h2M1366 600h2M1311 562h2M1332 461h2M1300 515h2M1255 301h2M1249 387h2M1276 373h2M1383 567h2M1331 466h2M1349 530h2M1317 572h2M1246 259h2M1300 371h2M1322 455h2M1356 461h2M1317 512h2M1419 551h2M1267 418h2M1354 571h2M1340 544h2M1283 483h2M1310 538h2M1348 543h2M1269 379h2M1309 435h2M1426 601h2M1326 423h2M1328 579h2M1246 288h2M1347 482h2M1365 558h2M1317 469h2M1281 400h2M1311 471h2M1335 489h2M1320 536h2M1301 492h2M1300 538h2M1284 413h2M1300 418h2M1275 371h2M1293 445h2M1240 239h2M1303 550h2M1424 593h2M1312 513h2M1290 444h2M1344 513h2M1348 499h2M1325 540h2M1303 537h2M1278 377h2M1272 287h2M1334 451h2M1333 467h2M1293 379h2M1226 204h2M1333 568h2M1286 418h2M1322 601h2M1259 305h2M1323 578h2M1376 609h2M1273 302h2M1310 529h2M1328 607h2M1418 531h2M1257 341h2M1326 508h2M1279 470h2M1244 210h2M1363 494h2M1381 535h2M1326 456h2M1271 368h2M1266 357h2M1270 334h2M1329 436h2M1345 597h2M1311 396h2M1302 532h2M1298 443h2M1318 560h2M1301 468h2M1359 507h2M1272 399h2M1355 540h2M1277 393h2M1313 591h2M1301 475h2M1382 509h2M1268 448h2M1392 509h2M1295 464h2M1371 576h2M1281 414h2M1346 507h2M1298 386h2M1353 597h2M1347 598h2M1361 530h2M1296 532h2M1306 569h2M1334 576h2M1309 527h2M1326 450h2M1355 584h2M1351 549h2M1341 492h2M1402 583h2M1408 527h2M1275 306h2M1296 551h2M1389 532h2M1416 580h2M1256 350h2M1317 549h2M1325 404h2M1363 526h2M1325 562h2M1300 439h2M1221 167h2M1371 552h2M1309 524h2M1326 585h2M1419 605h2M1288 429h2M1421 542h2M1414 569h2M1409 592h2M1297 497h2M1304 562h2M1311 524h2M1335 455h2M1313 417h2M1334 518h2M1418 608h2M1302 485h2M1413 577h2M1337 458h2M1346 577h2M1301 556h2M1266 375h2M1340 548h2M1303 535h2M1384 544h2M1279 378h2M1424 587h2M1319 581h2M1280 282h2M1356 601h2M1308 550h2M1352 583h2M1392 550h2M1331 586h2M1300 532h2M1250 291h2M1288 312h2M1283 462h2M1419 529h2M1403 547h2M1329 452h2M1267 281h2M1395 530h2M1376 563h2M1417 610h2M1419 570h2M1230 183h2M1385 596h2M1356 578h2M1278 460h2M1325 513h2M1303 578h2M1388 537h2M1337 515h2M1327 467h2M1350 446h2M1321 449h2M1280 449h2M1278 381h2M1366 534h2M1286 381h2M1292 445h2M1384 582h2M1330 477h2M1335 507h2M1419 526h2M1377 491h2M1272 464h2M1336 431h2M1424 568h2M1322 464h2M1283 498h2M1356 514h2M1350 537h2M1267 392h2M1337 549h2M1300 460h2M1326 498h2M1246 316h2M1351 571h2M1259 360h2M1334 536h2M1262 372h2M1325 485h2M1291 345h2M1332 556h2M1233 223h2M1247 291h2M1322 453h2M1372 487h2M1280 315h2M1305 419h2M1380 509h2M1384 610h2M1384 544h2M1271 448h2M1332 548h2M1245 344h2M1268 329h2M1369 593h2M1288 369h2M1301 425h2M1268 342h2M1350 593h2M1403 604h2M1286 402h2M1407 582h2M1357 487h2M1406 580h2M1362 560h2M1299 506h2M1263 425h2M1297 456h2M1288 481h2M1334 539h2M1280 275h2M1297 430h2M1298 435h2M1274 446h2M1407 587h2M1424 600h2M1356 510h2M1364 607h2M1387 574h2M1400 569h2M1400 541h2M1312 426h2M1273 306h2M1365 558h2M1325 457h2M1334 466h2M1361 566h2M1350 504h2M1323 600h2M1368 554h2M1278 433h2M1324 483h2M1369 586h2M1411 597h2M1301 435h2M1348 479h2M1281 478h2M1410 601h2M1324 455h2M1340 552h2M1240 269h2M1325 422h2M1343 544h2M1328 451h2M1304 457h2M1298 466h2M1398 584h2M1403 573h2M1382 594h2M1333 562h2M1367 552h2M1264 414h2M1231 227h2M1325 559h2M1298 399h2M1291 386h2M1415 597h2M1323 498h2M1362 505h2M1255 305h2M1344 449h2M1408 525h2M1375 583h2M1278 322h2M1331 550h2M1258 246h2M1353 534h2M1406 603h2M1288 433h2M1278 281h2M1344 535h2M1320 532h2M1390 565h2M1371 536h2M1337 503h2M1322 471h2M1332 434h2M1370 587h2M1313 552h2M1363 475h2M1241 201h2M1351 532h2M1353 536h2M1335 578h2M1310 392h2M1308 532h2M1371 488h2M1244 280h2M1386 558h2M1382 571h2M1270 364h2M1420 576h2M1321 497h2M1401 535h2M1307 531h2M1388 582h2M1387 540h2M1391 587h2M1273 431h2M1318 541h2M1327 442h2M1344 481h2M1376 538h2M1278 441h2M1277 361h2M1418 532h2M1346 536h2M1347 488h2M1269 434h2M1260 348h2M1271 323h2M1416 609h2M1346 594h2M1231 200h2M1237 202h2M1310 412h2M1277 361h2M1282 436h2M1276 453h2M1234 275h2M1269 280h2M1281 430h2M1301 571h2M1315 425h2M1263 295h2M1355 583h2M1350 608h2M1341 523h2M1315 590h2M1274 440h2M1403 529h2M1375 535h2M1356 463h2M1347 586h2M1304 463h2M1337 578h2M1235 167h2M1323 530h2M1254 308h2M1293 442h2M1406 578h2M1373 572h2M1379 567h2M1265 296h2M1272 399h2M1359 541h2M1325 568h2M1286 440h2M1262 356h2M1347 456h2M1421 594h2M1308 481h2M1265 399h2M1298 433h2M1349 486h2M1245 330h2M1297 368h2M1294 528h2M1276 451h2M1288 431h2M1302 457h2M1349 555h2M1346 554h2M1307 414h2M1319 585h2M1425 559h2M1287 384h2M1354 513h2M1344 432h2M1258 313h2M1359 548h2M1297 485h2M1247 243h2M1313 454h2M1279 365h2M1356 510h2M1354 518h2M1352 573h2M1321 446h2M1344 505h2M1262 283h2M1300 418h2M1337 491h2M1401 588h2M1403 559h2M1293 535h2M1330 447h2M1281 360h2M1295 493h2M1270 411h2M1386 576h2M1330 565h2M1407 552h2M1424 566h2M1368 543h2M1312 464h2M1357 561h2M1325 547h2M1335 473h2M1351 507h2M1294 361h2M1318 472h2M1297 457h2M1285 378h2M1259 396h2M1296 481h2M1276 320h2M1300 409h2M1377 527h2M1337 494h2M1269 414h2M1393 527h2M1391 507h2M1376 526h2M1381 599h2M1227 186h2M1292 430h2M1311 523h2M1331 556h2M1311 512h2M1389 577h2M1328 516h2M1315 540h2M1272 463h2M1348 449h2M1286 324h2M1271 354h2M1371 524h2M1411 547h2M1346 469h2M1297 442h2M1269 296h2M1261 438h2M1273 363h2M1353 603h2M1319 525h2M1291 502h2M1279 345h2M1398 524h2M1370 529h2M1279 307h2M1303 524h2M1379 571h2M1272 281h2M1335 570h2M1254 330h2M1345 538h2M1286 476h2M1338 485h2M1366 487h2M1309 558h2M1351 463h2M1235 225h2M1344 559h2M1260 394h2M1267 376h2M1303 468h2M1271 422h2M1359 580h2M1292 486h2M1316 542h2M1354 511h2M1337 607h2M1294 392h2M1374 492h2M1232 199h2M1333 542h2M1368 484h2M1367 576h2M1265 333h2M1307 383h2M1243 203h2M1353 518h2M1244 199h2M1318 472h2M1426 585h2M1324 575h2M1281 471h2M1325 584h2M1352 594h2M1319 547h2M1354 500h2M1295 403h2M1386 562h2M1273 396h2M1370 604h2M1417 564h2M1331 448h2M1337 612h2M1312 469h2M1321 497h2M1410 574h2M1417 524h2M1332 465h2M1282 285h2M1349 452h2M1347 489h2M1312 493h2M1291 513h2M1234 233h2M1314 480h2M1387 507h2M1341 601h2M1288 497h2M1379 569h2M1317 475h2M1317 591h2M1324 428h2M1306 393h2M1383 523h2M1308 405h2M1327 433h2M1291 475h2M1344 576h2M1302 532h2M1311 453h2M1289 297h2M1354 548h2M1421 586h2M1262 387h2M1362 567h2M1419 586h2M1347 607h2M1312 485h2M1243 221h2M1404 575h2M1299 513h2M1341 583h2M1259 291h2M1289 363h2M1299 563h2M1379 507h2M1319 443h2M1406 604h2M1291 499h2M1299 468h2M1426 559h2M1302 409h2M1268 295h2M1341 451h2M1298 449h2M1336 499h2M1329 461h2M1293 492h2M1271 446h2M1319 446h2M1316 522h2M1323 438h2M1380 553h2M1338 458h2M1334 598h2M1382 582h2M1342 601h2M1335 470h2M1246 248h2M1411 538h2M1321 490h2M1335 532h2M1319 580h2M1342 476h2M1276 398h2M1351 471h2M1381 488h2M1330 456h2M1284 487h2M1311 365h2M1384 535h2M1388 591h2M1316 455h2M1358 535h2M1303 513h2M1277 345h2M1393 565h2M1328 589h2M1294 512h2M1272 394h2M1292 374h2M1277 374h2M1354 604h2M1357 512h2M1379 566h2M1273 421h2M1423 554h2M1284 394h2M1309 521h2M1314 599h2M1375 553h2M1328 510h2M1396 599h2M1233 197h2M1343 511h2M1410 590h2M1388 509h2M1297 519h2M1280 335h2M1348 469h2M1255 360h2M1413 587h2M1367 562h2M1265 368h2M1341 605h2M1292 488h2M1260 359h2M1370 581h2M1382 606h2M1396 534h2M1335 601h2M1372 580h2M1339 582h2M1385 508h2M1362 524h2M1301 401h2M1280 480h2M1286 375h2M1420 608h2M1386 538h2M1379 511h2M1353 491h2M1299 528h2M1315 554h2M1339 588h2M1411 582h2M1279 477h2M1303 409h2M1335 534h2M1318 550h2M1294 495h2M1387 499h2M1316 449h2M1244 224h2M1312 567h2M1302 386h2M1327 552h2M1302 501h2M1251 285h2M1283 508h2M1313 427h2M1313 526h2M1233 216h2M1273 369h2M1326 462h2M1345 502h2M1369 596h2M1300 521h2M1413 573h2M1243 309h2M1249 260h2M1291 343h2M1306 465h2M1342 455h2M1427 597h2M1284 385h2M1371 593h2M1268 398h2M1414 542h2M1422 583h2M1304 570h2M1321 565h2M1275 281h2M1399 574h2M1360 535h2M1413 601h2M1291 523h2M1269 377h2M1321 507h2M1329 467h2M1267 377h2M1333 578h2M1366 484h2M1279 463h2M1401 554h2M1289 433h2M1281 405h2M1364 571h2M1313 563h2M1398 566h2M1310 563h2M1361 541h2M1374 568h2M1390 522h2M1373 534h2M1297 424h2M1355 496h2M1333 438h2M1293 418h2M1391 530h2M1323 573h2M1250 305h2M1316 533h2M1261 375h2M1302 500h2M1361 541h2M1375 583h2M1256 269h2M1272 303h2M1396 576h2M1403 545h2M1365 494h2M1305 479h2M1223 155h2M1245 303h2M1299 509h2M1240 222h2M1322 407h2M1262 390h2M1326 419h2M1314 547h2M1298 433h2M1347 586h2M1366 594h2M1314 403h2M1289 413h2M1351 531h2M1322 437h2M1245 290h2M1368 595h2M1352 568h2M1331 531h2M1329 602h2M1245 281h2M1382 556h2M1388 597h2M1369 611h2M1412 555h2M1260 262h2M1366 491h2M1275 392h2M1344 543h2M1295 421h2M1227 156h2M1307 376h2M1308 421h2M1240 257h2M1250 238h2M1287 474h2M1366 508h2M1356 584h2M1405 530h2M1319 516h2M1385 576h2M1228 212h2M1337 477h2M1398 588h2M1343 514h2M1347 484h2M1415 586h2M1352 559h2M1328 607h2M1379 516h2M1243 252h2M1239 251h2M1316 421h2M1376 609h2M1298 450h2M1243 232h2M1339 575h2M1379 571h2M1325 554h2M1364 569h2M1405 526h2M1267 465h2M1307 513h2M1350 576h2M1277 453h2M1227 203h2M1371 553h2M1277 352h2M1327 602h2M1385 518h2M1275 442h2M1351 505h2M1381 541h2M1260 275h2M1316 449h2M1390 551h2M1265 456h2M1293 528h2M1364 584h2M1340 488h2M1363 559h2M1247 291h2M1279 493h2M1295 388h2M1365 520h2M1328 570h2M1250 284h2M1362 537h2M1391 547h2M1249 316h2M1325 430h2M1278 454h2M1408 567h2M1356 566h2M1298 470h2M1251 232h2M1328 438h2M1366 606h2M1382 533h2M1301 554h2M1315 509h2M1384 488h2M1312 522h2M1267 403h2M1318 405h2M1326 557h2M1262 399h2M1341 547h2M1354 456h2M1345 543h2M1288 424h2M1400 585h2M1409 555h2M1371 491h2M1344 524h2M1273 315h2M1418 603h2M1360 474h2M1318 423h2M1310 388h2M1272 338h2M1270 311h2M1338 477h2M1225 158h2M1412 582h2M1311 515h2M1330 537h2M1420 547h2M1264 338h2M1238 210h2M1408 542h2M1268 391h2M1289 381h2M1290 502h2M1287 442h2M1398 548h2M1333 494h2M1422 612h2M1320 437h2M1358 564h2M1302 513h2M1245 261h2M1367 588h2M1326 511h2M1270 278h2M1397 582h2M1264 413h2M1343 577h2M1284 506h2M1289 402h2M1380 579h2M1285 394h2M1328 529h2M1370 475h2M1309 420h2M1368 548h2M1276 329h2M1302 434h2M1321 587h2M1282 414h2M1240 212h2M1406 547h2M1313 364h2M1401 532h2M1397 593h2M1324 560h2M1296 444h2M1375 557h2M1251 297h2M1317 436h2M1332 542h2M1409 536h2M1346 494h2M1288 461h2M1351 473h2M1260 344h2M1369 594h2M1293 527h2M1373 571h2M1278 340h2M1235 226h2M1345 552h2M1236 190h2M1240 214h2M1402 607h2M1237 277h2M1326 591h2M1393 556h2M1362 469h2M1363 497h2M1325 548h2M1309 477h2M1293 520h2M1346 480h2M1268 337h2M1360 534h2M1341 587h2M1324 546h2M1427 578h2M1316 579h2M1262 249h2M1308 441h2M1314 405h2M1348 575h2M1308 552h2M1355 484h2M1324 500h2M1351 601h2M1297 395h2M1375 569h2M1229 240h2M1285 473h2M1355 604h2M1289 492h2M1283 436h2M1280 396h2M1374 604h2M1320 485h2M1308 397h2M1252 295h2M1362 540h2M1328 568h2M1310 471h2M1322 437h2M1282 433h2M1279 501h2M1244 226h2M1343 450h2M1347 491h2M1378 579h2M1278 455h2M1362 603h2M1298 401h2M1274 410h2M1420 548h2M1346 542h2M1385 580h2M1420 546h2M1317 414h2M1338 500h2M1378 585h2M1362 607h2M1341 507h2M1288 415h2M1304 413h2M1348 502h2M1327 480h2M1320 380h2M1299 459h2M1322 599h2M1274 358h2M1347 485h2M1301 330h2M1305 417h2M1268 287h2M1323 505h2M1274 367h2M1424 564h2M1414 567h2M1234 198h2M1320 503h2M1361 541h2M1326 473h2M1376 533h2M1267 302h2M1355 533h2M1296 382h2M1305 430h2M1304 467h2M1302 394h2M1360 479h2M1293 434h2M1302 358h2M1289 516h2M1301 441h2M1379 582h2M1287 382h2M1338 484h2M1259 315h2M1302 507h2M1357 496h2M1336 490h2M1296 486h2M1366 584h2M1350 548h2M1273 413h2M1325 548h2M1344 562h2M1317 478h2M1351 553h2M1275 288h2M1327 479h2M1298 502h2M1422 599h2M1351 449h2M1295 546h2M1342 550h2M1302 544h2M1268 258h2M1342 520h2M1335 484h2M1322 607h2M1259 402h2M1396 535h2M1388 573h2M1314 456h2M1296 537h2M1334 438h2M1377 566h2M1341 502h2M1300 495h2M1318 536h2M1264 295h2M1384 521h2M1291 490h2M1312 458h2M1382 600h2M1244 233h2M1354 561h2M1253 327h2M1329 533h2M1286 406h2M1427 542h2M1291 494h2M1231 168h2M1398 560h2M1278 332h2M1331 443h2M1282 459h2M1347 552h2M1344 603h2M1342 599h2M1341 573h2M1417 526h2M1247 341h2M1414 561h2M1304 547h2M1226 252h2M1233 159h2M1383 527h2M1296 369h2M1404 569h2M1400 587h2M1309 494h2M1425 545h2M1285 395h2M1241 311h2M1413 544h2M1274 331h2M1275 442h2M1296 512h2M1315 541h2M1291 488h2M1310 392h2M1331 459h2M1280 498h2M1399 599h2M1383 566h2M1361 556h2M1305 444h2M1286 357h2M1309 489h2M1271 353h2M1267 427h2M1297 442h2M1372 610h2M1418 600h2M1335 444h2M1281 310h2M1232 196h2M1289 489h2M1317 587h2M1306 449h2M1371 483h2M1323 487h2M1314 399h2M1322 448h2M1288 319h2M1354 602h2M1262 328h2M1330 477h2M1354 468h2M1391 551h2M1363 609h2M1372 539h2M1412 584h2M1312 523h2M1308 437h2M1320 413h2M1351 550h2M1324 428h2M1299 523h2M1354 544h2M1267 453h2M1294 521h2M1325 604h2M1368 516h2M1346 471h2M1241 260h2M1381 599h2M1274 272h2M1304 429h2M1321 594h2M1376 519h2M1378 588h2M1350 611h2M1378 556h2M1282 343h2M1277 452h2M1308 414h2M1329 468h2M1246 313h2M1327 480h2M1400 596h2M1372 552h2M1423 608h2M1337 592h2M1298 338h2M1398 547h2M1271 314h2M1301 448h2M1417 533h2M1362 590h2M1361 599h2M1401 554h2M1392 510h2M1360 547h2M1337 463h2M1300 419h2M1403 552h2M1262 421h2M1348 548h2M1373 554h2M1341 500h2M1382 521h2M1246 231h2M1268 343h2M1421 565h2M1425 567h2M1399 605h2M1241 282h2M1290 456h2M1330 572h2M1363 569h2M1319 478h2M1362 540h2M1324 515h2M1334 567h2M1422 587h2M1282 411h2M1398 587h2M1259 404h2M1321 430h2M1369 553h2M1363 610h2M1394 516h2M1391 526h2M1288 457h2M1394 520h2M1358 521h2M1317 576h2M1283 478h2M1290 429h2M1304 542h2M1264 303h2M1287 386h2M1339 545h2M1397 597h2M1328 593h2M1376 594h2M1360 563h2M1316 440h2M1288 405h2M1326 504h2M1303 400h2M1228 204h2M1420 601h2M1384 511h2M1342 484h2M1243 219h2M1420 594h2M1285 373h2M1401 531h2M1330 485h2M1390 586h2M1367 500h2M1380 542h2M1324 436h2M1302 366h2M1315 550h2M1405 601h2M1368 600h2M1265 347h2M1261 361h2M1238 265h2M1329 604h2M1310 495h2M1303 338h2M1324 479h2M1371 483h2M1340 512h2M1346 569h2M1375 544h2M1342 513h2M1335 548h2M1305 411h2M1282 492h2M1354 521h2M1265 380h2M1243 289h2M1371 537h2M1313 403h2M1295 335h2M1366 601h2M1324 569h2M1309 481h2M1329 570h2M1344 455h2M1283 442h2M1308 587h2M1260 380h2M1329 439h2M1366 527h2M1263 398h2M1269 381h2M1333 507h2M1335 568h2M1281 419h2M1388 555h2M1299 549h2M1261 277h2M1388 604h2M1288 531h2M1298 486h2M1403 577h2M1404 587h2M1296 282h2M1259 344h2M1250 360h2M1424 583h2M1409 538h2M1310 395h2M1282 400h2M1269 433h2M1271 308h2M1304 429h2M1269 360h2M1272 374h2M1351 503h2M1358 479h2M1375 565h2M1327 472h2M1284 374h2M1308 369h2M1365 515h2M1360 576h2M1334 541h2M1374 489h2M1233 210h2M1351 553h2M1396 566h2M1268 376h2M1367 569h2M1359 469h2M1330 522h2M1333 580h2M1298 425h2M1386 547h2M1364 583h2M1286 498h2M1348 554h2M1270 454h2M1308 538h2M1328 473h2M1310 392h2M1323 550h2M1314 438h2M1382 504h2M1280 460h2M1298 381h2M1342 605h2M1338 487h2M1264 276h2M1274 444h2M1263 389h2M1371 600h2M1405 530h2M1315 469h2M1335 574h2M1264 375h2M1390 570h2M1363 497h2M1335 522h2M1236 177h2M1301 497h2M1353 456h2M1257 287h2M1380 601h2M1316 574h2M1391 575h2M1379 482h2M1322 591h2M1351 492h2M1404 555h2M1415 582h2M1348 489h2M1378 515h2M1312 483h2M1323 464h2M1286 457h2M1332 514h2M1352 602h2M1346 454h2M1270 309h2M1406 584h2M1303 452h2M1343 583h2M1282 397h2M1292 507h2M1323 502h2M1330 602h2M1282 429h2M1389 560h2M1386 525h2M1278 494h2M1276 415h2M1393 522h2M1347 465h2M1375 589h2M1354 566h2M1235 175h2M1287 456h2M1326 472h2M1393 496h2M1301 423h2M1342 513h2M1395 583h2M1402 535h2M1395 546h2M1337 444h2M1405 565h2M1343 516h2M1337 458h2M1329 600h2M1409 604h2M1406 529h2M1357 549h2M1249 257h2M1236 186h2M1426 607h2M1425 580h2M1351 590h2M1285 363h2M1384 608h2M1275 336h2M1322 605h2M1322 600h2M1361 505h2M1273 416h2M1368 472h2M1309 460h2M1323 569h2M1283 296h2M1235 224h2M1278 334h2M1347 522h2M1351 529h2M1238 237h2M1297 526h2M1338 491h2M1385 537h2M1262 305h2M1299 437h2M1375 610h2M1298 456h2M1294 529h2M1287 385h2M1411 578h2M1319 432h2M1338 552h2M1242 332h2M1317 452h2M1341 542h2M1327 566h2M1329 443h2M1314 579h2M1304 374h2M1319 417h2M1275 357h2M1252 292h2M1300 420h2M1297 326h2M1347 555h2M1283 502h2M1262 353h2M1372 520h2M1392 579h2M1305 558h2M1345 484h2M1261 402h2M1328 436h2M1336 450h2M1299 508h2M1412 591h2M1322 502h2M1395 602h2M1380 543h2M1315 486h2M1294 479h2M1389 598h2M1358 495h2M1271 457h2M1323 523h2M1427 556h2M1389 601h2M1363 562h2M1289 356h2M1342 514h2M1341 452h2M1372 511h2M1354 593h2M1353 501h2M1405 529h2M1298 479h2M1240 220h2M1353 561h2M1274 353h2M1257 291h2M1284 499h2M1260 397h2M1295 357h2M1258 422h2M1271 281h2M1314 529h2M1346 466h2M1290 316h2M1297 529h2M1362 506h2M1292 319h2M1414 530h2M1368 521h2M1317 447h2M1307 402h2M1416 588h2M1328 478h2M1268 404h2M1262 271h2M1343 545h2M1276 333h2M1271 384h2M1403 588h2M1344 507h2M1395 605h2M1311 407h2M1281 386h2M1366 583h2M1376 586h2M1271 464h2M1281 493h2M1280 331h2M1392 510h2M1360 505h2M1289 367h2M1357 579h2M1421 546h2M1308 440h2M1405 587h2M1383 526h2M1397 561h2M1302 509h2M1331 501h2M1319 607h2M1326 522h2M1408 595h2M1331 532h2M1342 480h2M1386 551h2M1408 519h2M1297 449h2M1397 574h2M1248 247h2M1260 401h2M1296 441h2M1385 498h2M1345 560h2M1295 389h2M1342 475h2M1244 210h2M1277 460h2M1311 418h2M1307 420h2M1385 602h2M1296 417h2M1281 364h2M1292 387h2M1352 486h2M1334 519h2M1280 483h2M1424 604h2M1287 350h2M1260 292h2M1382 546h2M1299 329h2M1353 498h2M1269 413h2M1363 504h2M1286 339h2M1406 605h2M1251 237h2M1406 598h2M1293 498h2M1320 499h2M1353 573h2M1317 448h2M1262 299h2M1334 447h2M1308 396h2M1395 598h2M1317 503h2M1284 401h2M1321 546h2M1319 426h2M1273 492h2M1238 300h2M1427 563h2M1384 602h2M1339 514h2M1272 451h2M1363 541h2M1394 537h2M1256 299h2M1292 451h2M1428 593h2M1355 604h2M1313 429h2M1328 528h2M1312 475h2M1306 478h2M1264 332h2M1229 155h2M1265 333h2M1392 567h2M1315 464h2M1411 606h2M1295 448h2M1280 418h2M1318 486h2M1236 233h2M1323 466h2M1236 205h2M1247 265h2M1415 600h2M1289 468h2M1387 566h2M1408 558h2M1420 588h2M1393 557h2M1416 539h2M1378 513h2M1291 347h2M1254 346h2M1377 530h2M1383 582h2M1332 520h2M1347 517h2M1380 561h2M1320 414h2M1304 510h2M1299 419h2M1292 498h2M1393 590h2M1250 233h2M1413 551h2M1289 298h2M1334 580h2M1358 496h2M1274 413h2M1366 489h2M1342 607h2M1349 467h2M1321 466h2M1305 483h2M1303 388h2M1397 541h2M1400 590h2M1295 435h2M1332 491h2M1326 478h2M1310 505h2M1387 560h2M1356 508h2M1295 408h2M1313 499h2M1364 492h2M1378 582h2M1238 306h2M1327 476h2M1233 246h2M1426 594h2M1306 575h2M1245 305h2M1279 363h2M1375 565h2M1355 568h2M1256 343h2M1323 539h2M1385 608h2M1246 256h2M1301 526h2M1312 458h2M1378 587h2M1270 387h2M1236 198h2M1408 586h2M1312 581h2M1282 375h2M1326 606h2M1284 450h2M1243 215h2M1236 205h2M1281 343h2M1265 329h2M1358 492h2M1399 585h2M1320 492h2M1364 578h2M1337 557h2M1303 448h2M1263 367h2M1424 603h2M1336 501h2M1292 327h2M1355 600h2M1268 403h2M1406 517h2M1349 573h2M1349 607h2M1247 257h2M1382 593h2M1296 398h2M1281 407h2M1300 371h2M1380 589h2M1341 505h2M1224 149h2M1329 491h2M1400 537h2M1319 538h2M1272 349h2M1355 590h2M1256 373h2M1320 424h2M1283 470h2M1395 549h2M1270 365h2M1328 460h2M1281 392h2M1370 569h2M1299 375h2M1228 184h2M1302 448h2M1309 481h2M1373 545h2M1276 414h2M1288 325h2M1386 514h2M1380 562h2M1285 421h2M1341 564h2M1341 612h2M1426 591h2M1350 498h2M1422 603h2M1344 607h2M1363 520h2M1410 528h2M1419 576h2M1327 586h2M1369 482h2M1407 579h2M1336 474h2M1387 574h2M1264 313h2M1288 506h2M1331 392h2M1318 480h2M1300 464h2M1234 198h2M1417 594h2M1257 344h2M1391 580h2M1317 578h2M1336 604h2M1324 603h2M1340 456h2M1280 483h2M1275 365h2M1376 509h2M1417 556h2M1281 472h2M1374 478h2M1305 367h2M1311 511h2M1336 475h2M1320 434h2M1333 467h2M1264 417h2M1357 466h2M1420 596h2M1424 593h2M1403 571h2M1282 462h2M1313 558h2M1404 527h2M1245 256h2M1338 502h2M1315 491h2M1346 529h2M1312 378h2M1291 379h2M1427 590h2M1283 512h2M1300 549h2M1268 414h2M1336 502h2M1244 210h2M1372 507h2M1266 302h2M1416 519h2M1295 400h2M1276 299h2M1410 534h2M1425 591h2M1365 524h2M1398 538h2M1336 449h2M1282 287h2M1300 477h2M1313 533h2M1277 463h2M1383 500h2M1321 582h2M1285 446h2M1342 533h2M1358 545h2M1279 311h2M1378 515h2M1241 268h2M1354 602h2M1239 268h2M1359 497h2M1295 377h2M1249 305h2M1277 408h2M1289 385h2M1342 584h2M1409 589h2M1288 390h2M1397 590h2M1315 543h2M1288 394h2M1353 515h2M1295 447h2M1375 518h2M1411 526h2M1255 252h2M1424 548h2M1318 460h2M1291 403h2M1309 560h2M1277 422h2M1308 529h2M1330 591h2M1326 499h2M1329 568h2M1388 527h2M1295 461h2M1340 610h2M1411 525h2M1357 596h2M1306 571h2M1321 560h2M1347 537h2M1286 372h2M1278 315h2M1224 174h2M1342 574h2M1346 541h2M1368 514h2M1359 506h2M1254 328h2M1357 547h2M1337 571h2M1342 488h2M1300 483h2M1412 544h2M1347 580h2M1416 548h2M1307 410h2M1343 580h2M1303 435h2M1266 436h2M1371 596h2M1311 424h2M1396 577h2M1341 582h2M1285 496h2M1316 509h2M1365 526h2M1309 583h2M1294 472h2M1255 347h2M1360 523h2M1385 545h2M1342 595h2M1221 179h2M1327 549h2M1264 397h2M1319 594h2M1313 427h2M1259 336h2M1266 382h2M1335 545h2M1245 197h2M1284 312h2M1245 323h2M1375 510h2M1311 457h2M1424 559h2M1400 587h2M1322 565h2M1316 561h2M1243 305h2M1288 348h2M1286 404h2M1312 561h2M1317 514h2M1264 443h2M1379 565h2M1273 282h2M1341 595h2M1309 505h2M1272 356h2M1308 568h2M1307 486h2M1302 536h2M1279 458h2M1373 507h2M1367 507h2M1299 383h2M1327 531h2M1333 436h2M1416 587h2M1333 524h2M1281 309h2M1311 541h2M1372 573h2M1254 414h2M1402 521h2M1375 489h2M1410 584h2M1338 554h2M1316 506h2M1295 428h2M1325 541h2M1377 593h2M1404 593h2M1297 438h2M1419 545h2M1285 509h2M1376 546h2M1334 423h2M1339 560h2M1305 482h2M1291 509h2M1311 484h2M1279 315h2M1328 466h2M1358 593h2M1358 583h2M1299 448h2M1288 493h2M1298 532h2M1422 545h2M1359 587h2M1324 489h2M1312 396h2M1309 583h2M1276 451h2M1392 587h2M1362 537h2M1289 486h2M1336 447h2M1239 252h2M1418 592h2M1382 512h2M1257 255h2M1277 333h2M1294 479h2M1412 543h2M1389 506h2M1295 443h2M1359 509h2M1298 384h2M1361 579h2M1348 542h2M1332 519h2M1247 279h2M1358 476h2M1295 430h2M1283 340h2M1259 277h2M1364 602h2M1311 567h2M1343 534h2M1331 559h2M1286 431h2M1428 570h2M1256 317h2M1290 512h2M1384 607h2M1373 581h2M1234 179h2M1354 559h2M1286 478h2M1271 450h2M1252 333h2M1320 440h2M1395 569h2M1351 585h2M1346 544h2M1328 545h2M1271 265h2M1224 195h2M1388 590h2M1256 360h2M1329 474h2M1323 483h2M1295 341h2M1339 504h2M1260 277h2M1297 447h2M1398 570h2M1388 573h2M1329 498h2M1337 512h2M1288 367h2M1358 478h2M1383 612h2M1363 505h2M1264 412h2M1392 513h2M1258 368h2M1262 339h2M1371 514h2M1245 211h2M1367 525h2M1313 528h2M1355 519h2M1352 527h2M1407 581h2M1407 561h2M1309 421h2M1381 597h2M1299 404h2M1413 547h2M1335 598h2M1271 365h2M1326 596h2M1310 409h2M1311 471h2M1289 392h2M1364 600h2M1322 578h2M1336 548h2M1418 602h2M1290 384h2M1251 241h2M1243 300h2M1300 547h2M1273 425h2M1278 319h2M1400 568h2M1331 464h2M1328 452h2M1304 513h2M1379 531h2M1322 568h2M1336 463h2M1330 603h2M1389 523h2M1299 527h2M1332 549h2M1256 238h2M1362 500h2M1329 577h2M1354 557h2M1394 585h2M1349 554h2M1355 597h2M1281 352h2M1284 434h2M1360 580h2M1317 508h2M1282 412h2M1397 576h2M1260 316h2M1278 372h2M1251 354h2M1421 586h2M1320 416h2M1286 457h2M1383 526h2M1423 600h2M1328 605h2M1249 253h2M1399 522h2M1363 546h2M1332 459h2M1312 438h2M1298 455h2M1330 594h2M1329 503h2M1338 495h2M1247 278h2M1294 466h2M1324 494h2M1373 544h2M1414 610h2M1327 463h2M1286 479h2M1298 341h2M1381 545h2M1245 256h2M1294 359h2M1288 430h2M1285 433h2M1405 539h2M1334 508h2M1289 404h2M1338 494h2M1251 236h2M1394 583h2M1250 288h2M1309 448h2M1333 552h2M1282 436h2M1411 585h2M1367 555h2M1422 552h2M1353 588h2M1345 519h2M1331 489h2M1352 603h2M1335 594h2M1260 347h2M1313 508h2M1344 571h2M1273 442h2M1267 389h2M1357 562h2M1259 286h2M1369 520h2M1254 260h2M1226 181h2M1285 500h2M1341 580h2M1415 578h2M1384 585h2M1225 152h2M1358 558h2M1387 603h2M1311 578h2M1392 529h2M1313 415h2M1297 369h2M1337 565h2M1318 518h2M1379 515h2M1344 553h2M1359 546h2M1420 559h2M1263 326h2M1376 516h2M1329 507h2M1323 530h2M1303 418h2M1318 475h2M1276 361h2M1423 575h2M1296 422h2M1326 509h2M1395 581h2M1375 569h2M1258 312h2M1262 287h2M1280 447h2M1317 493h2M1353 486h2M1418 525h2M1271 459h2M1380 509h2M1249 343h2M1348 478h2M1257 335h2M1404 563h2M1277 445h2M1379 587h2M1287 501h2M1290 410h2M1300 510h2M1302 374h2M1290 412h2M1408 560h2M1319 483h2M1369 473h2M1408 534h2M1320 522h2M1301 446h2M1228 202h2M1330 573h2M1396 568h2M1381 545h2M1371 547h2M1295 375h2M1305 474h2M1270 387h2M1268 409h2M1303 445h2M1403 528h2M1302 535h2M1378 576h2M1337 437h2M1295 370h2M1412 565h2M1304 462h2M1342 470h2M1366 489h2M1348 522h2M1275 427h2M1338 586h2M1315 541h2M1299 350h2M1268 424h2M1226 172h2M1295 406h2M1271 342h2M1302 372h2M1269 312h2M1348 553h2M1309 487h2M1391 533h2M1316 599h2M1386 557h2M1295 365h2M1297 465h2M1322 603h2M1407 553h2M1371 572h2M1280 387h2M1333 447h2M1286 421h2M1350 490h2M1263 280h2M1398 605h2M1309 406h2M1288 483h2M1271 261h2M1263 242h2M1283 288h2M1266 237h2M1259 245h2M1255 234h2M1264 223h2M1303 298h2M1293 291h2M1286 289h2M1253 229h2M1294 292h2M1275 255h2M1287 283h2M1282 288h2M1286 274h2M1265 225h2M1251 219h2M1288 270h2M1266 241h2M1284 284h2M1283 262h2M1293 269h2M1282 285h2M1261 243h2M1280 262h2M1255 215h2M1290 289h2M1251 224h2M1268 247h2M1287 260h2M1268 249h2M1278 273h2M1265 241h2M1293 284h2M1258 235h2M1275 271h2M1276 273h2M1282 275h2M1274 211h2M1257 238h2M1285 295h2M1275 269h2M1271 261h2M1250 211h2M1248 215h2M1249 219h2M1280 280h2M1259 245h2M1289 294h2M1271 256h2M1273 235h2M1286 294h2M1285 267h2M1257 214h2M1268 240h2M1255 223h2M1273 266h2M1253 227h2M1251 213h2M1271 247h2M1249 211h2M1258 240h2M1281 266h2M1292 268h2M1275 250h2M1284 264h2M1280 268h2M1298 291h2M1257 215h2M1394 488h2M1378 474h2M1398 494h2M1346 445h2M1360 465h2M1367 442h2M1393 485h2M1395 507h2M1410 514h2M1408 510h2M1365 470h2M1427 518h2M1411 523h2M1428 519h2M1368 471h2M1406 480h2M1372 481h2M1347 449h2M1418 522h2M1393 463h2M1370 467h2M1385 466h2M1345 443h2M1402 508h2M1421 531h2M1410 519h2M1379 483h2M1373 472h2M1404 491h2M1359 445h2M1369 447h2M1423 507h2M1342 440h2M1419 533h2M1411 517h2M1404 510h2M1407 504h2M1381 489h2M1372 458h2M1372 477h2M1423 526h2M1400 508h2M1389 485h2M1349 450h2M1424 515h2M1408 506h2M1393 464h2M1423 459h2M1427 525h2M1398 511h2M1387 479h2M1355 452h2M1355 447h2M1357 455h2M1398 490h2M1359 451h2M1410 510h2M1408 509h2M1417 527h2M1406 486h2M1353 452h2M1377 475h2M1358 453h2M1359 445h2M1367 463h2M1375 480h2M1408 515h2M1403 512h2M1406 517h2M1345 444h2M1413 513h2M1377 475h2M1425 532h2M1386 479h2M1353 443h2M1356 444h2M1383 471h2M1396 476h2M1376 469h2M1345 440h2M1375 473h2M1394 499h2M1412 500h2M1383 493h2M1401 487h2M1393 503h2M1384 452h2M1350 447h2M1358 453h2M1408 520h2M1425 520h2M1403 496h2M1363 470h2M1399 504h2M1353 446h2M1384 488h2M1381 476h2M1385 447h2M1374 469h2M1393 497h2M1408 517h2M1368 473h2M1385 466h2M1399 502h2M1399 513h2M1396 496h2M1410 520h2M1411 505h2M1356 456h2M1389 501h2M1412 498h2M1417 530h2M1373 456h2M1406 490h2M1373 476h2M1415 512h2M1390 502h2M1426 525h2M1424 531h2M1361 460h2M1386 478h2M1398 508h2M1365 468h2M1393 505h2M1367 469h2M1395 491h2M1407 496h2M1397 502h2M1384 496h2M1368 471h2M1416 514h2M1420 519h2M1410 522h2M1421 517h2M1381 465h2M1383 492h2M1421 511h2M1383 460h2M1407 511h2M1396 495h2M1395 486h2M1394 489h2M1422 527h2M1376 474h2M1310 617h2M1348 612h2M1315 596h2M1317 620h2M1352 607h2M1329 599h2M1316 606h2M1312 617h2M1333 620h2M1330 624h2M1309 605h2M1313 616h2M1338 623h2M1347 621h2M1309 597h2M1341 615h2M1315 607h2M1325 606h2M1331 611h2M1352 596h2M1347 602h2M1345 600h2M1338 623h2M1342 597h2M1339 609h2M1352 612h2M1322 595h2M1313 613h2M1346 602h2M1347 614h2M1348 598h2M1352 596h2M1349 610h2M1323 601h2M1344 597h2M1323 598h2M1348 619h2M1329 598h2M1350 596h2M1341 618h2M1341 624h2M1328 602h2M1311 597h2M1345 602h2M1328 608h2M1319 601h2M1311 617h2M1349 596h2M1336 603h2M1328 615h2M1323 618h2M1341 609h2M1330 616h2M1338 607h2M1324 620h2M1342 612h2M1346 614h2M1352 621h2M1338 610h2M1317 603h2M1330 605h2M1346 609h2M1315 599h2M1344 615h2M1352 603h2M1339 601h2M1311 600h2M1310 597h2M1319 616h2M1346 623h2M1314 603h2M1326 624h2M1318 610h2M1351 601h2M1329 603h2M1321 614h2M1320 615h2M1322 623h2M1334 624h2M1323 620h2M1344 604h2M1326 614h2M1331 597h2M1345 620h2M1319 598h2M1342 624h2M1324 614h2M1316 621h2M1309 596h2M1323 608h2M1353 617h2M1351 603h2M1336 603h2M1310 604h2M1348 610h2M1312 603h2M1337 615h2M1350 616h2M1308 618h2M1327 612h2M1340 605h2M1324 616h2M1328 606h2M1338 624h2M1335 617h2M1351 604h2M1340 614h2M1316 609h2M1350 617h2M1345 612h2M1316 602h2M1337 614h2M1319 623h2M1341 616h2M1348 607h2M1326 610h2M1351 599h2M1330 602h2M1341 614h2M1343 616h2" stroke="#1c261c" stroke-width="2.5" fill="none" stroke-opacity="0.92"/>
<path d="M1430 583h2M1431 563h2M1429 568h2M1432 566h2M1430 592h2M1431 600h2M1430 599h2M1432 604h2M1430 579h2M1432 558h2M1429 562h2M1431 587h2M1432 595h2M1429 601h2M1429 590h2M1430 591h2M1430 580h2M1431 547h2M1429 565h2M1429 552h2M1431 605h2M1430 591h2M1430 589h2M1431 588h2M1428 573h2M1430 562h2M1429 590h2M1429 577h2M1430 551h2M1431 562h2M1429 582h2M1430 573h2M1431 612h2M1430 605h2M1429 582h2M1431 607h2M1429 546h2M1431 571h2M1429 601h2M1430 563h2M1428 580h2M1431 566h2M1430 553h2M1430 539h2M1430 560h2M1430 572h2M1431 593h2M1428 572h2M1430 571h2M1431 596h2M1428 536h2M1431 565h2M1431 578h2M1428 599h2M1432 556h2M1429 551h2M1429 570h2M1429 592h2M1431 557h2M1429 545h2M1430 540h2M1431 575h2M1431 546h2M1428 535h2M1432 573h2M1428 571h2M1432 573h2M1429 582h2M1431 573h2M1431 589h2M1430 600h2M1431 560h2M1429 569h2M1438 524h2M1459 545h2M1446 546h2M1431 541h2M1436 548h2M1441 550h2M1447 522h2M1461 547h2M1441 538h2M1438 543h2M1448 535h2M1480 550h2M1435 547h2M1429 536h2M1434 541h2M1448 546h2M1430 521h2M1435 544h2M1432 545h2M1448 541h2M1446 548h2M1448 534h2M1445 545h2M1435 527h2M1430 530h2M1436 518h2M1513 571h2M1502 567h2M1713 600h2M1782 600h2M1875 599h2M1603 587h2M1820 606h2M1699 580h2M1585 587h2M1733 598h2M1874 606h2M1658 592h2M1887 608h2M1779 583h2M1754 605h2M1734 602h2M1506 554h2M1498 565h2M1801 604h2M1679 589h2M1689 594h2M1891 606h2M1449 554h2M1444 554h2M1788 600h2M1518 558h2M1770 604h2M1742 595h2M1640 592h2M1735 602h2M1549 578h2M1841 596h2M1897 611h2M1819 601h2M1469 563h2M1484 557h2M1648 592h2M1489 562h2M1898 611h2M1635 593h2M1681 589h2M1628 582h2M1702 592h2M1758 605h2M1513 560h2M1546 581h2M1637 567h2M1709 596h2M1502 563h2M1699 592h2M1534 562h2M1802 609h2M1437 541h2M1504 563h2M1720 599h2M1432 544h2M1630 580h2M1858 608h2M1636 591h2M1811 601h2M1701 600h2M1830 597h2M1708 601h2M1664 593h2M1555 575h2M1514 573h2M1429 527h2M1805 607h2M1623 568h2M1523 568h2M1763 606h2M1781 600h2M1873 612h2M1492 562h2M1831 592h2M1741 604h2M1709 594h2M1670 572h2M1880 607h2M1757 600h2M1742 604h2M1809 608h2M1429 552h2M1703 597h2M1898 613h2M1552 577h2M1477 563h2M1805 607h2M1560 577h2M1645 587h2M1691 596h2M1737 592h2M1724 602h2M1887 606h2M1647 586h2M1820 600h2M1563 578h2M1471 550h2M1890 614h2M1632 590h2M1856 607h2M1561 576h2M1667 588h2M1644 593h2M1882 606h2M1893 610h2M1705 591h2M1736 603h2M1623 578h2M1592 566h2M1454 555h2M1645 588h2M1585 580h2M1459 552h2M1613 572h2M1767 605h2M1878 599h2M1503 572h2M1768 604h2M1859 604h2M1508 572h2M1784 599h2M1867 590h2M1826 600h2M1814 595h2M1898 613h2M1601 583h2M1664 592h2M1630 593h2M1888 609h2M1665 595h2M1728 594h2M1480 556h2M1826 611h2M1593 555h2M1826 606h2M1534 570h2M1692 585h2M1636 589h2M1593 589h2M1886 601h2M1576 578h2M1900 611h2M1499 558h2M1692 590h2M1582 577h2M1474 559h2M1435 538h2M1792 598h2M1591 585h2M1500 560h2M1741 603h2M1727 598h2M1609 582h2M1752 597h2M1890 613h2M1540 570h2M1816 603h2M1689 574h2M1692 596h2M1806 603h2M1689 595h2M1450 557h2M1634 591h2M1543 580h2M1777 589h2M1827 604h2M1494 564h2M1744 593h2M1629 580h2M1810 601h2M1884 610h2M1902 605h2M1548 574h2M1505 572h2M1788 607h2M1891 599h2M1852 604h2M1694 600h2M1744 604h2M1844 608h2M1611 590h2M1747 602h2M1481 559h2M1445 515h2M1724 600h2M1702 592h2M1474 561h2M1437 541h2M1560 573h2M1816 582h2M1830 608h2M1883 597h2M1503 554h2M1663 588h2M1485 555h2M1623 583h2M1894 610h2M1494 553h2M1522 570h2M1548 570h2M1878 607h2M1474 560h2M1487 562h2M1518 565h2M1567 584h2M1855 606h2M1773 604h2M1810 608h2M1512 568h2M1871 607h2M1578 585h2M1830 603h2M1890 611h2M1519 576h2M1863 598h2M1529 568h2M1660 589h2M1566 566h2M1459 560h2M1841 599h2M1822 607h2M1773 607h2M1839 610h2M1626 586h2M1473 565h2M1583 571h2M1896 605h2M1717 595h2M1464 559h2M1707 598h2M1740 591h2M1626 582h2M1822 600h2M1681 579h2M1673 584h2M1820 609h2M1890 609h2M1685 583h2M1754 597h2M1853 608h2M1518 567h2M1800 604h2M1617 586h2M1486 565h2M1853 583h2M1592 575h2M1891 612h2M1609 590h2M1860 605h2M1640 590h2M1529 574h2M1524 570h2M1554 570h2M1434 552h2M1742 603h2M1530 569h2M1604 581h2M1732 591h2M1610 581h2M1677 589h2M1556 568h2M1567 562h2M1733 603h2M1856 612h2M1653 593h2M1461 551h2M1575 580h2M1637 591h2M1785 604h2M1586 586h2M1829 604h2M1813 601h2M1489 569h2M1807 594h2M1640 590h2M1537 570h2M1852 600h2M1550 577h2M1822 607h2M1470 562h2M1844 604h2M1836 608h2M1571 574h2M1824 606h2M1829 603h2M1805 597h2M1588 580h2M1754 602h2M1459 558h2M1564 581h2M1635 589h2M1803 605h2M1511 572h2M1726 599h2M1812 596h2M1583 583h2M1497 568h2M1659 589h2M1491 564h2M1885 603h2M1726 602h2M1868 610h2M1786 608h2M1500 570h2M1686 594h2M1853 597h2M1622 584h2M1492 568h2M1520 572h2M1695 594h2M1469 548h2M1774 603h2M1704 598h2M1581 585h2M1796 608h2M1727 596h2M1569 582h2M1666 588h2M1821 599h2M1822 600h2M1808 585h2M1853 611h2M1690 597h2M1703 599h2M1763 595h2M1727 591h2M1657 588h2M1777 598h2M1551 580h2M1859 581h2M1438 536h2M1824 605h2M1659 588h2M1789 590h2M1486 558h2M1707 600h2M1777 607h2M1472 558h2M1673 596h2M1542 571h2M1696 594h2M1522 573h2M1567 585h2M1557 570h2M1821 606h2M1469 564h2M1535 579h2M1455 554h2M1517 574h2M1525 573h2M1514 572h2M1488 560h2M1699 591h2M1720 601h2M1863 612h2M1719 593h2M1504 551h2M1560 574h2M1811 606h2M1739 595h2M1543 575h2M1885 595h2M1736 594h2M1881 610h2M1871 597h2M1836 601h2M1764 602h2M1542 572h2M1553 574h2M1739 600h2M1583 578h2M1433 546h2M1869 612h2M1608 578h2M1622 590h2M1582 570h2M1445 543h2M1830 606h2M1704 585h2M1902 592h2M1607 588h2M1591 572h2M1443 556h2M1623 589h2M1769 606h2M1721 586h2M1609 576h2M1651 591h2M1806 603h2M1781 606h2M1534 558h2M1527 561h2M1691 591h2M1764 595h2M1825 590h2M1818 606h2M1631 581h2M1835 611h2M1591 580h2M1892 610h2M1684 585h2M1527 575h2M1521 566h2M1675 594h2M1787 601h2M1759 605h2M1747 603h2M1552 573h2M1736 597h2M1702 598h2M1809 593h2M1619 588h2M1752 594h2M1583 578h2M1435 529h2M1627 579h2M1473 557h2M1547 576h2M1884 599h2M1653 593h2M1548 569h2M1849 600h2M1738 604h2M1821 606h2M1726 595h2M1716 592h2M1584 583h2M1695 584h2M1576 578h2M1476 560h2M1586 581h2M1736 597h2M1778 594h2M1816 609h2M1604 565h2M1430 544h2M1698 600h2M1518 572h2M1532 556h2M1652 586h2M1844 610h2M1606 586h2M1850 601h2M1744 597h2M1774 598h2M1735 601h2M1606 581h2M1807 597h2M1530 571h2M1646 584h2M1840 596h2M1572 585h2M1493 551h2M1643 586h2M1724 600h2M1495 559h2M1645 590h2M1739 597h2M1600 590h2M1517 572h2M1809 597h2M1519 558h2M1764 606h2M1688 595h2M1705 592h2M1598 575h2M1570 536h2M1453 558h2M1788 585h2M1597 584h2M1830 597h2M1513 553h2M1727 593h2M1519 564h2M1861 611h2M1801 605h2M1601 579h2M1515 568h2M1490 561h2M1462 551h2M1458 561h2M1833 605h2M1900 607h2M1695 597h2M1567 572h2M1663 591h2M1490 559h2M1898 601h2M1833 607h2M1462 552h2M1600 589h2M1625 585h2M1682 596h2M1468 563h2M1765 601h2M1463 557h2M1816 606h2M1735 595h2M1822 604h2M1792 606h2M1573 574h2M1761 590h2M1833 608h2M1696 586h2M1882 605h2M1512 574h2M1849 610h2M1844 610h2M1462 554h2M1767 603h2M1607 584h2M1449 523h2M1486 562h2M1450 558h2M1718 586h2M1724 600h2M1480 562h2M1652 589h2M1793 594h2M1724 592h2M1475 565h2M1792 591h2M1835 598h2M1551 581h2M1697 588h2M1649 588h2M1712 591h2M1711 596h2M1825 604h2M1708 594h2M1842 604h2M1839 600h2M1545 580h2M1480 553h2M1464 555h2M1719 598h2M1661 583h2M1781 600h2M1597 588h2M1520 575h2M1464 558h2M1529 573h2M1781 606h2M1813 600h2M1850 604h2M1440 547h2M1568 584h2M1452 554h2M1788 604h2M1737 597h2M1538 574h2M1528 576h2M1864 607h2M1553 582h2M1711 598h2M1553 571h2M1556 583h2M1805 607h2M1472 564h2M1704 591h2M1494 560h2M1438 553h2M1517 570h2M1675 597h2M1727 600h2M1826 607h2M1692 596h2M1788 600h2M1854 601h2M1768 596h2M1709 598h2M1447 540h2M1545 577h2M1561 582h2M1542 580h2M1467 556h2M1463 561h2M1620 592h2M1724 599h2M1554 577h2M1835 605h2M1691 583h2M1827 579h2M1591 576h2M1842 611h2M1661 596h2M1803 586h2M1709 593h2M1674 592h2M1501 566h2M1784 605h2M1783 607h2M1739 598h2M1874 611h2M1438 547h2M1667 588h2M1695 592h2M1590 586h2M1782 601h2M1738 604h2M1728 599h2M1570 571h2M1606 580h2M1826 610h2M1879 612h2M1757 601h2M1606 588h2M1687 590h2M1776 595h2M1885 608h2M1543 577h2M1750 601h2M1852 600h2M1565 579h2M1430 552h2M1854 610h2M1787 605h2M1618 589h2M1655 581h2M1661 586h2M1815 603h2M1885 601h2M1435 543h2M1523 571h2M1709 597h2M1890 610h2M1868 612h2M1734 582h2M1691 589h2M1493 560h2M1530 565h2M1677 590h2M1513 571h2M1439 546h2M1724 590h2M1712 584h2M1728 593h2M1894 597h2M1599 584h2M1531 571h2M1867 611h2M1444 552h2M1852 601h2M1609 586h2M1784 600h2M1508 570h2M1497 563h2M1570 567h2M1745 599h2M1694 598h2M1865 583h2M1490 547h2M1765 602h2M1659 596h2M1872 588h2M1870 611h2M1673 597h2M1701 587h2M1534 576h2M1541 578h2M1786 601h2M1903 614h2M1599 578h2M1695 598h2M1634 576h2M1671 597h2M1548 577h2M1789 605h2M1795 595h2M1529 576h2M1520 559h2M1683 598h2M1690 581h2M1786 600h2M1843 606h2M1625 590h2M1573 572h2M1806 606h2M1673 597h2M1750 569h2M1796 603h2M1853 606h2M1511 568h2M1491 566h2M1827 611h2M1469 561h2M1696 592h2M1471 549h2M1445 550h2M1451 556h2M1818 587h2M1782 607h2M1637 584h2M1805 607h2M1780 600h2M1701 596h2M1503 570h2M1781 606h2M1898 609h2M1688 590h2M1806 605h2M1851 596h2M1481 556h2M1593 578h2M1702 579h2M1860 601h2M1855 602h2M1599 584h2M1442 554h2M1825 605h2M1528 568h2M1622 587h2M1787 603h2M1861 602h2M1458 558h2M1578 581h2M1800 589h2M1557 580h2M1622 583h2M1644 591h2M1620 592h2M1796 601h2M1903 609h2M1557 581h2M1430 534h2M1850 599h2M1877 609h2M1745 599h2M1721 601h2M1717 602h2M1640 568h2M1757 602h2M1871 605h2M1532 576h2M1606 590h2M1901 605h2M1786 603h2M1691 597h2M1661 596h2M1524 570h2M1739 594h2M1490 565h2M1557 583h2M1654 596h2M1551 577h2M1875 594h2M1839 605h2M1686 591h2M1655 581h2M1761 605h2M1483 560h2M1472 558h2M1875 602h2M1511 570h2M1828 598h2M1726 598h2M1727 595h2M1717 595h2M1843 610h2M1897 606h2M1880 594h2M1554 572h2M1735 601h2M1546 575h2M1716 595h2M1863 592h2M1754 603h2M1714 593h2M1655 596h2M1579 586h2M1712 599h2M1903 608h2M1550 580h2M1904 610h2M1532 568h2M1897 603h2M1688 597h2M1837 609h2M1780 593h2M1548 580h2M1527 572h2M1748 599h2M1504 566h2M1792 608h2M1702 598h2M1669 596h2M1483 535h2M1585 584h2M1633 586h2M1472 551h2M1454 557h2M1500 569h2M1547 567h2M1717 593h2M1584 585h2M1555 569h2M1568 577h2M1609 587h2M1495 567h2M1846 599h2M1442 546h2M1707 595h2M1626 585h2M1793 605h2M1612 579h2M1710 600h2M1873 610h2M1543 547h2M1809 609h2M1535 577h2M1450 549h2M1476 553h2M1881 608h2M1515 571h2M1446 552h2M1828 611h2M1454 550h2M1814 591h2M1626 590h2M1563 571h2M1830 607h2M1747 599h2M1537 572h2M1699 577h2M1723 593h2M1798 599h2M1492 555h2M1703 591h2M1891 592h2M1800 595h2M1601 587h2M1736 597h2M1657 583h2M1463 549h2M1599 566h2M1813 608h2M1878 599h2M1590 584h2M1478 560h2M1878 608h2M1816 607h2M1504 566h2M1459 548h2M1845 610h2M1704 589h2M1751 601h2M1510 573h2M1669 591h2M1492 565h2M1799 609h2M1436 554h2M1806 604h2M1698 598h2M1692 599h2M1692 582h2M1481 556h2M1456 550h2M1642 588h2M1598 585h2M1435 553h2M1692 597h2M1678 598h2M1539 575h2M1548 575h2M1848 611h2M1562 572h2M1737 603h2M1812 605h2M1807 603h2M1830 601h2M1837 600h2M1731 599h2M1530 569h2M1799 586h2M1460 546h2M1681 582h2M1894 609h2M1658 593h2M1450 552h2M1643 590h2M1707 585h2M1539 577h2M1637 592h2M1621 567h2M1864 609h2M1776 599h2M1732 597h2M1638 585h2M1853 606h2M1594 584h2M1703 594h2M1625 582h2M1648 591h2M1819 590h2M1642 593h2M1549 570h2M1823 608h2M1482 557h2M1694 596h2M1725 585h2M1536 576h2M1534 577h2M1801 599h2M1633 588h2M1501 567h2M1506 565h2M1573 583h2M1656 580h2M1869 608h2M1677 578h2M1721 596h2M1798 604h2M1815 607h2M1618 587h2M1458 558h2M1660 587h2M1754 590h2M1734 603h2M1586 576h2M1770 604h2M1744 593h2M1599 573h2M1633 582h2M1673 587h2M1896 609h2M1816 608h2M1784 593h2M1590 579h2M1761 603h2M1519 557h2M1590 572h2M1435 548h2M1562 579h2M1585 578h2M1546 567h2M1494 559h2M1807 604h2M1581 582h2M1608 572h2M1461 551h2M1705 594h2M1891 610h2M1587 585h2M1729 603h2M1858 609h2M1777 595h2M1664 587h2M1638 589h2M1620 583h2M1814 607h2M1597 579h2M1731 603h2M1767 596h2M1642 590h2M1767 593h2M1525 562h2M1495 558h2M1725 594h2M1480 564h2M1440 543h2M1758 596h2M1642 589h2M1560 580h2M1898 604h2M1513 570h2M1732 601h2M1749 602h2M1753 596h2M1533 564h2M1566 578h2M1496 568h2M1637 590h2M1710 589h2M1662 595h2M1683 589h2M1842 611h2M1541 568h2M1749 591h2M1810 600h2M1896 613h2M1648 591h2M1498 570h2M1614 566h2M1629 568h2M1707 587h2M1468 557h2M1838 611h2M1451 531h2M1815 606h2M1896 608h2M1575 579h2M1716 599h2M1520 564h2M1532 573h2M1641 585h2M1870 597h2M1713 597h2M1867 599h2M1763 607h2M1705 580h2M1901 610h2M1537 579h2M1791 606h2M1577 573h2M1546 576h2M1631 588h2M1593 580h2M1521 568h2M1487 554h2M1588 588h2M1585 577h2M1465 551h2M1679 591h2M1689 592h2M1900 607h2M1613 569h2M1748 601h2M1640 585h2M1597 576h2M1681 598h2M1661 597h2M1636 578h2M1696 597h2M1502 558h2M1679 598h2M1533 577h2M1655 588h2M1447 551h2M1588 585h2M1666 590h2M1819 609h2M1823 602h2M1530 561h2M1720 600h2M1815 604h2M1589 566h2M1636 581h2M1636 585h2M1858 606h2M1764 583h2M1542 571h2M1691 595h2M1608 580h2M1586 582h2M1819 589h2M1846 598h2M1760 600h2M1503 567h2M1752 585h2M1736 600h2M1820 605h2M1896 597h2M1814 599h2M1797 608h2M1534 573h2M1906 608h2M1533 574h2M1438 554h2M1440 546h2M1704 590h2M1529 569h2M1695 597h2M1732 600h2M1818 604h2M1854 596h2M1897 614h2M1565 577h2M1762 601h2M1602 578h2M1746 592h2M1729 595h2M1820 599h2M1747 591h2M1457 553h2M1581 566h2M1449 555h2M1884 607h2M1882 610h2M1811 603h2M1582 583h2M1677 593h2M1510 567h2M1652 586h2M1797 595h2M1583 577h2M1642 588h2M1447 551h2M1681 598h2M1814 584h2M1734 602h2M1747 603h2M1448 554h2M1743 603h2M1594 588h2M1625 584h2M1533 568h2M1782 605h2M1784 607h2M1499 569h2M1870 590h2M1815 606h2M1704 596h2M1829 600h2M1870 612h2M1709 601h2M1599 587h2M1624 591h2M1831 609h2M1736 597h2M1534 573h2M1783 608h2M1726 570h2M1578 582h2M1839 607h2M1871 610h2M1618 584h2M1648 590h2M1757 606h2M1432 553h2M1540 575h2M1568 571h2M1586 585h2M1611 589h2M1710 588h2M1522 537h2M1726 596h2M1519 564h2M1491 562h2M1899 609h2M1599 588h2M1672 582h2M1733 604h2M1606 587h2M1599 576h2M1635 576h2M1871 602h2M1533 563h2M1459 557h2M1476 565h2M1816 601h2M1875 601h2M1598 585h2M1808 598h2M1456 554h2M1736 602h2M1780 607h2M1836 605h2M1485 560h2M1671 597h2M1725 595h2M1648 589h2M1773 606h2M1559 572h2M1592 584h2M1894 602h2M1881 608h2M1864 605h2M1701 591h2M1718 601h2M1854 611h2M1776 601h2M1830 601h2M1635 593h2M1729 601h2M1897 610h2M1793 595h2M1887 601h2M1583 575h2M1582 580h2M1509 559h2M1791 606h2M1437 552h2M1579 571h2M1684 571h2M1552 574h2M1790 594h2M1695 584h2M1575 565h2M1672 586h2M1471 551h2M1584 572h2M1434 546h2M1792 603h2M1745 602h2M1842 610h2M1672 576h2M1531 562h2M1820 604h2M1802 607h2M1604 588h2M1770 590h2M1764 595h2M1806 596h2M1428 543h2M1832 605h2M1579 578h2M1728 585h2M1479 546h2M1869 597h2M1650 593h2M1443 554h2M1875 598h2M1800 601h2M1521 567h2M1553 573h2M1456 559h2M1848 604h2M1654 577h2M1733 602h2M1435 549h2M1666 578h2M1862 609h2M1768 601h2M1682 587h2M1698 597h2M1568 584h2M1842 609h2M1629 586h2M1540 579h2M1729 598h2M1865 610h2M1746 598h2M1559 582h2M1435 544h2M1469 563h2M1588 559h2M1631 587h2M1835 607h2M1741 588h2M1906 614h2M1864 605h2M1896 594h2M1758 582h2M1880 606h2M1767 599h2M1812 607h2M1730 592h2M1617 585h2M1735 597h2M1808 602h2M1680 598h2M1724 590h2M1892 613h2M1705 593h2M1650 581h2M1831 605h2M1470 558h2M1682 598h2M1646 588h2M1877 613h2M1838 587h2M1463 554h2M1540 571h2M1579 585h2M1460 561h2M1633 592h2M1888 594h2M1794 589h2M1555 572h2M1591 587h2M1663 589h2M1704 598h2M1590 586h2M1511 567h2M1811 587h2M1527 564h2M1578 586h2M1877 609h2M1502 561h2M1657 577h2M1747 600h2M1492 563h2M1756 598h2M1524 574h2M1760 594h2M1716 602h2M1599 586h2M1513 570h2M1871 608h2M1777 600h2M1808 604h2M1787 603h2M1439 549h2M1649 588h2M1524 570h2M1660 589h2M1855 602h2M1843 606h2M1699 595h2M1667 595h2M1525 571h2M1754 593h2M1798 607h2M1497 569h2M1796 602h2M1897 612h2M1476 562h2M1708 588h2M1738 601h2M1722 599h2M1864 612h2M1640 578h2M1477 557h2M1866 607h2M1642 580h2M1494 566h2M1817 597h2M1528 565h2M1756 594h2M1749 599h2M1746 596h2M1841 611h2M1626 583h2M1773 603h2M1646 593h2M1447 554h2M1549 569h2M1745 604h2M1818 610h2M1827 581h2M1559 580h2M1776 600h2M1666 587h2M1491 563h2M1517 566h2M1804 606h2M1538 578h2M1509 558h2M1456 559h2M1894 601h2M1903 605h2M1830 592h2M1805 597h2M1904 601h2M1724 545h2M1829 601h2M1658 580h2M1849 610h2M1470 559h2M1624 584h2M1528 578h2M1881 611h2M1734 594h2M1536 574h2M1803 605h2M1900 606h2M1643 592h2M1710 601h2M1801 597h2M1870 610h2M1679 595h2M1618 587h2M1849 608h2M1579 580h2M1533 574h2M1789 608h2M1542 580h2M1894 598h2M1765 587h2M1442 555h2M1810 591h2M1591 583h2M1768 605h2M1897 607h2M1600 587h2M1730 599h2M1440 553h2M1502 562h2M1491 564h2M1867 594h2M1672 593h2M1675 591h2M1845 600h2M1849 607h2M1570 577h2M1626 589h2M1509 568h2M1852 598h2M1767 596h2M1630 585h2M1457 551h2M1825 605h2M1808 598h2M1811 606h2M1472 563h2M1825 606h2M1506 556h2M1796 604h2M1622 583h2M1605 589h2M1563 567h2M1559 549h2M1615 585h2M1783 597h2M1607 590h2M1781 597h2M1883 603h2M1811 610h2M1436 541h2M1711 587h2M1740 594h2M1656 588h2M1589 587h2M1448 551h2M1811 606h2M1879 604h2M1483 552h2M1474 561h2M1658 592h2M1616 568h2M1822 607h2M1676 596h2M1779 600h2M1871 611h2M1587 581h2M1673 594h2M1713 593h2M1493 562h2M1620 582h2M1631 584h2M1744 584h2M1814 606h2M1553 577h2M1809 609h2M1599 586h2M1545 579h2M1902 604h2M1624 578h2M1818 602h2M1565 578h2M1537 579h2M1798 606h2M1473 549h2M1560 582h2M1631 584h2M1542 576h2M1697 590h2M1780 594h2M1753 593h2M1633 589h2M1850 605h2M1688 596h2M1589 581h2M1572 581h2M1465 545h2M1728 595h2M1814 604h2M1475 564h2M1568 583h2M1482 567h2M1809 602h2M1732 602h2M1504 554h2M1456 552h2M1769 595h2M1740 588h2M1700 582h2M1527 576h2M1598 580h2M1503 568h2M1446 549h2M1614 585h2M1803 607h2M1544 577h2M1743 605h2M1696 596h2M1537 577h2M1830 607h2M1789 597h2M1537 555h2M1466 561h2M1839 610h2M1594 581h2M1547 571h2M1544 579h2M1657 586h2M1696 592h2M1568 568h2M1598 582h2M1686 594h2M1782 598h2M1864 611h2M1652 595h2M1624 589h2M1626 587h2M1623 592h2M1721 598h2M1649 589h2M1513 565h2M1861 602h2M1560 568h2M1709 593h2M1501 560h2M1448 553h2M1592 582h2M1844 599h2M1573 582h2M1490 567h2M1433 541h2M1470 564h2M1457 557h2M1578 582h2M1679 577h2M1893 605h2M1471 562h2M1584 587h2M1814 603h2M1749 600h2M1718 584h2M1461 560h2M1822 602h2M1745 598h2M1502 570h2M1638 578h2M1821 588h2M1759 600h2M1868 611h2M1448 552h2M1625 586h2M1901 597h2M1442 556h2M1522 576h2M1842 610h2M1856 599h2M1869 607h2M1807 603h2M1614 585h2M1694 585h2M1729 603h2M1856 603h2M1764 589h2M1759 595h2M1740 604h2M1429 551h2M1585 570h2M1711 594h2M1793 598h2M1593 588h2M1514 574h2M1446 555h2M1472 563h2M1557 576h2M1453 559h2M1558 565h2M1597 589h2M1833 595h2M1671 590h2M1529 553h2M1833 604h2M1520 548h2M1619 590h2M1600 567h2M1715 597h2M1631 574h2M1487 563h2M1632 578h2M1784 598h2M1632 592h2M1792 606h2M1591 585h2M1508 563h2M1492 555h2M1767 600h2M1783 601h2M1732 600h2M1855 608h2M1869 606h2M1814 598h2M1521 563h2M1672 581h2M1654 588h2M1555 570h2M1524 576h2M1818 607h2M1680 588h2M1891 613h2M1780 591h2M1831 605h2M1464 554h2M1457 560h2M1461 541h2M1453 548h2M1533 576h2M1627 581h2M1783 604h2M1854 610h2M1894 609h2M1838 607h2M1557 583h2M1448 551h2M1571 550h2M1675 594h2M1494 561h2M1861 607h2M1705 587h2M1483 563h2M1575 579h2M1741 590h2M1671 585h2M1690 596h2M1726 603h2M1507 566h2M1469 563h2M1439 548h2M1876 611h2M1806 599h2M1488 553h2M1721 601h2M1564 567h2M1840 607h2M1448 549h2M1475 564h2M1526 568h2M1478 561h2M1445 557h2M1839 597h2M1525 573h2M1677 589h2M1701 598h2M1507 569h2M1507 571h2M1845 598h2M1883 606h2M1436 547h2M1730 599h2M1753 592h2M1782 582h2M1468 556h2M1633 593h2M1716 596h2M1791 599h2M1656 582h2M1882 606h2M1651 593h2M1687 595h2M1666 596h2M1439 537h2M1429 540h2M1437 546h2M1680 591h2M1714 592h2M1693 581h2M1904 607h2M1827 609h2M1512 571h2M1835 605h2M1469 563h2M1585 581h2M1495 569h2M1622 583h2M1752 601h2M1744 602h2M1832 606h2M1608 580h2M1698 598h2M1729 593h2M1687 599h2M1450 557h2M1675 598h2M1652 593h2M1467 560h2M1478 566h2M1854 606h2M1743 597h2M1498 537h2M1901 609h2M1644 579h2M1727 601h2M1743 592h2M1537 576h2M1618 575h2M1444 540h2M1435 550h2M1727 596h2M1670 582h2M1444 551h2M1724 593h2M1640 592h2M1586 586h2M1428 546h2M1654 594h2M1459 561h2M1887 608h2M1776 595h2M1813 609h2M1567 576h2M1434 553h2M1509 548h2M1829 602h2M1470 554h2M1622 581h2M1601 589h2M1627 591h2M1799 608h2M1721 602h2M1774 596h2M1732 602h2M1631 592h2M1902 614h2M1821 610h2M1665 593h2M1674 594h2M1798 606h2M1737 600h2M1440 550h2M1801 597h2M1548 558h2M1848 600h2M1844 604h2M1747 599h2M1899 607h2M1797 606h2M1519 565h2M1484 567h2M1607 588h2M1844 601h2M1835 597h2M1691 582h2M1611 582h2M1602 582h2M1808 602h2M1428 551h2M1442 552h2M1636 585h2M1545 580h2M1605 584h2M1470 562h2M1692 590h2M1613 588h2M1600 585h2M1816 597h2M1578 581h2M1511 571h2M1809 585h2M1831 603h2M1869 606h2M1886 602h2M1816 605h2M1819 609h2M1552 574h2M1614 590h2M1885 609h2M1755 582h2M1439 544h2M1680 586h2M1686 595h2M1819 601h2M1679 590h2M1775 595h2M1811 607h2M1669 591h2M1599 580h2M1674 587h2M1583 584h2M1620 588h2M1523 572h2M1736 594h2M1705 598h2M1638 585h2M1857 605h2M1621 584h2M1590 587h2M1657 594h2M1799 601h2M1709 600h2M1457 560h2M1881 588h2M1717 598h2M1450 551h2M1871 605h2M1473 546h2M1906 613h2M1817 607h2M1762 587h2M1875 599h2M1500 568h2M1494 561h2M1623 585h2M1510 570h2M1451 550h2M1740 595h2M1794 601h2M1804 602h2M1690 598h2M1590 585h2M1816 596h2M1864 603h2M1486 556h2M1802 602h2M1504 555h2M1796 607h2M1808 609h2M1802 596h2M1716 594h2M1484 554h2M1467 556h2M1840 602h2M1685 598h2M1496 569h2M1720 602h2M1723 600h2M1894 606h2M1688 583h2M1573 568h2M1534 572h2M1579 586h2M1612 586h2M1758 591h2M1849 602h2M1631 583h2M1609 590h2M1597 565h2M1768 604h2M1557 583h2M1637 594h2M1472 558h2M1804 607h2M1527 576h2M1813 610h2M1597 584h2M1596 587h2M1795 606h2M1811 605h2M1605 589h2M1512 573h2M1865 607h2M1894 598h2M1757 600h2M1440 547h2M1665 594h2M1660 593h2M1756 595h2M1520 573h2M1567 579h2M1638 592h2M1512 556h2M1799 588h2M1582 583h2M1780 606h2M1606 587h2M1749 592h2M1716 583h2M1452 543h2M1704 600h2M1526 573h2M1761 601h2M1758 601h2M1883 600h2M1737 600h2M1855 611h2M1466 546h2M1770 593h2M1495 558h2M1833 598h2M1818 577h2M1437 544h2M1483 567h2M1579 575h2M1652 595h2M1662 596h2M1850 604h2M1879 610h2M1636 593h2M1804 591h2M1634 578h2M1541 576h2M1862 597h2M1803 603h2M1712 589h2M1521 569h2M1578 582h2M1597 584h2M1481 553h2M1799 591h2M1562 578h2M1492 556h2M1464 558h2M1694 597h2M1814 599h2M1540 561h2M1713 594h2M1868 588h2M1881 609h2M1615 586h2M1661 585h2M1837 593h2M1895 611h2M1833 591h2M1503 567h2M1495 558h2M1708 598h2M1495 564h2M1745 603h2M1789 597h2M1724 597h2M1464 561h2M1748 604h2M1492 568h2M1497 570h2M1786 601h2M1817 610h2M1633 578h2M1721 600h2M1693 593h2M1691 576h2M1901 609h2M1775 606h2M1585 582h2M1517 564h2M1644 586h2M1538 569h2M1530 569h2M1875 603h2M1474 558h2M1748 601h2M1636 581h2M1539 575h2M1556 582h2M1904 603h2M1488 567h2M1759 576h2M1861 600h2M1637 582h2M1871 605h2M1774 607h2M1698 583h2M1441 552h2M1523 564h2M1794 595h2M1845 608h2M1473 557h2M1573 584h2M1846 609h2M1695 598h2M1615 590h2M1569 555h2M1628 590h2M1820 608h2M1607 588h2M1748 592h2M1541 577h2M1905 606h2M1438 545h2M1762 605h2M1504 567h2M1759 590h2M1759 600h2M1899 603h2M1437 547h2M1793 604h2M1493 561h2M1770 599h2M1894 611h2M1779 603h2M1764 594h2M1738 586h2M1807 606h2M1814 607h2M1825 601h2M1493 565h2M1724 592h2M1582 582h2M1875 600h2M1513 574h2M1610 586h2M1531 569h2M1744 595h2M1722 588h2M1532 572h2M1644 590h2M1521 575h2M1882 610h2M1573 568h2M1529 570h2M1503 562h2M1831 610h2M1863 602h2M1679 595h2M1614 586h2M1749 603h2M1906 612h2M1746 599h2M1549 579h2M1522 574h2M1662 585h2M1510 564h2M1660 585h2M1868 605h2M1629 582h2M1718 600h2M1695 599h2M1656 596h2M1461 545h2M1682 593h2M1468 563h2M1641 580h2M1625 589h2M1498 563h2M1905 612h2M1466 557h2M1708 596h2M1558 573h2M1809 609h2M1684 589h2M1700 599h2M1730 575h2M1544 580h2M1814 609h2M1672 590h2M1764 602h2M1573 574h2M1492 564h2M1840 602h2M1552 577h2M1687 580h2M1802 606h2M1828 605h2M1656 592h2M1642 582h2M1863 608h2M1479 562h2M1511 574h2M1848 581h2M1513 558h2M1883 608h2M1490 562h2M1784 603h2M1750 587h2M1577 584h2M1814 600h2M1621 589h2M1771 598h2M1664 594h2M1637 569h2M1576 569h2M1786 604h2M1830 605h2M1688 597h2M1613 590h2M1448 551h2M1645 591h2M1798 593h2M1455 556h2M1497 569h2M1687 585h2M1548 579h2M1485 558h2M1656 594h2M1600 585h2M1775 586h2M1872 604h2M1580 577h2M1817 605h2M1682 590h2M1867 610h2M1668 585h2M1757 589h2M1878 611h2M1697 599h2M1643 594h2M1840 599h2M1781 588h2M1794 589h2M1788 597h2M1732 595h2M1583 560h2M1598 585h2M1478 566h2M1626 587h2M1718 586h2M1498 565h2M1433 545h2M1642 593h2M1439 552h2M1437 549h2M1542 563h2M1876 602h2M1459 546h2M1748 602h2M1661 586h2M1634 589h2M1689 597h2M1451 554h2M1479 561h2M1506 570h2M1504 564h2M1840 603h2M1592 584h2M1838 610h2M1521 572h2M1681 594h2M1790 600h2M1769 588h2M1649 578h2M1807 602h2M1609 588h2M1571 581h2M1854 596h2M1779 607h2M1434 549h2M1765 601h2M1819 599h2M1871 612h2M1469 551h2M1845 591h2M1508 571h2M1481 566h2M1578 573h2M1680 588h2M1652 595h2M1822 606h2M1447 557h2M1596 589h2M1744 603h2M1499 561h2M1827 606h2M1729 587h2M1787 607h2M1772 600h2M1558 576h2M1479 566h2M1843 595h2M1552 578h2M1720 600h2M1490 558h2M1837 602h2M1841 600h2M1596 583h2M1724 603h2M1715 601h2M1862 602h2M1728 602h2M1669 592h2M1687 589h2M1615 590h2M1813 570h2M1435 552h2M1625 576h2M1484 567h2M1847 605h2M1486 560h2M1790 604h2M1888 611h2M1541 560h2M1544 577h2M1548 572h2M1437 549h2M1713 584h2M1670 591h2M1660 591h2M1863 604h2M1722 598h2M1758 603h2M1851 607h2M1681 590h2M1499 552h2M1760 600h2M1677 594h2M1606 580h2M1563 579h2M1876 601h2M1873 611h2M1490 569h2M1479 562h2M1585 581h2M1470 560h2M1550 580h2M1820 606h2M1563 573h2M1739 577h2M1576 581h2M1708 598h2M1683 586h2M1789 593h2M1514 573h2M1431 547h2M1440 555h2M1573 574h2M1564 572h2M1717 602h2M1734 598h2M1899 609h2M1655 589h2M1436 541h2M1870 611h2M1780 605h2M1631 583h2M1440 549h2M1764 597h2M1684 586h2M1899 600h2M1451 547h2M1736 590h2M1770 603h2M1516 572h2M1771 601h2M1479 562h2M1884 609h2M1661 595h2M1526 565h2M1446 555h2M1714 601h2M1777 597h2M1596 588h2M1666 586h2M1599 560h2M1618 588h2M1586 579h2M1555 582h2M1898 613h2M1493 565h2M1883 613h2M1731 599h2M1504 559h2M1448 558h2M1834 598h2M1638 584h2M1676 593h2M1663 581h2M1775 602h2M1888 606h2M1764 592h2M1817 610h2M1705 601h2M1619 584h2M1470 563h2M1460 550h2M1851 589h2M1586 587h2M1608 587h2M1607 581h2M1699 593h2M1632 581h2M1853 606h2M1882 608h2M1864 586h2M1450 549h2M1478 559h2M1550 573h2M1769 602h2M1484 556h2M1638 589h2M1502 557h2M1484 545h2M1897 604h2M1555 571h2M1570 583h2M1711 599h2M1605 587h2M1622 570h2M1606 577h2M1674 596h2M1628 593h2M1576 580h2M1770 602h2M1461 551h2M1584 576h2M1868 611h2M1521 571h2M1857 606h2M1527 569h2M1888 602h2M1513 563h2M1480 558h2M1849 599h2M1856 608h2M1847 607h2M1773 602h2M1795 593h2M1757 605h2M1698 599h2M1864 610h2M1627 590h2M1903 585h2M1527 571h2M1597 578h2M1892 595h2M1511 565h2M1703 600h2M1564 583h2M1681 598h2M1629 586h2M1644 589h2M1481 565h2M1801 588h2M1683 591h2M1798 609h2M1861 604h2M1705 599h2M1486 568h2M1861 578h2M1659 596h2M1480 561h2M1439 555h2M1567 571h2M1737 599h2M1699 599h2M1761 604h2M1650 595h2M1618 591h2M1471 559h2M1779 599h2M1675 584h2M1739 601h2M1723 599h2M1604 590h2M1842 604h2M1713 596h2M1715 599h2M1691 591h2M1860 599h2M1594 587h2M1699 594h2M1622 587h2M1522 574h2M1550 579h2M1506 570h2M1857 604h2M1500 572h2M1620 590h2M1468 560h2M1616 572h2M1900 612h2M1721 601h2M1775 597h2M1669 580h2M1579 571h2M1679 596h2M1874 605h2M1794 597h2M1550 576h2M1604 581h2M1892 612h2M1814 597h2M1807 610h2M1560 546h2M1774 594h2M1688 593h2M1532 565h2M1497 561h2M1473 556h2M1629 584h2M1814 603h2M1753 593h2M1491 563h2M1727 585h2M1568 566h2M1755 584h2M1599 585h2M1764 584h2M1760 596h2M1480 558h2M1872 609h2M1597 588h2M1600 573h2M1732 595h2M1590 584h2M1640 590h2M1687 596h2M1440 543h2M1788 595h2M1685 585h2M1428 547h2M1765 601h2M1726 599h2M1596 580h2M1883 612h2M1671 580h2M1461 559h2M1789 599h2M1848 610h2M1690 580h2M1569 579h2M1867 593h2M1755 598h2M1717 594h2M1559 574h2M1747 586h2M1475 551h2M1542 574h2M1548 578h2M1754 592h2M1776 607h2M1783 605h2M1750 605h2M1652 595h2M1815 608h2M1621 590h2M1688 595h2M1873 603h2M1704 588h2M1797 606h2M1900 601h2M1433 549h2M1768 596h2M1457 551h2M1575 584h2M1598 587h2M1764 602h2M1853 608h2M1629 587h2M1479 566h2M1783 601h2M1495 562h2M1876 598h2M1703 594h2M1862 597h2M1535 560h2M1659 593h2M1608 580h2M1831 596h2M1697 594h2M1662 594h2M1834 602h2M1836 606h2M1596 588h2M1444 553h2M1477 565h2M1846 599h2M1705 597h2M1778 607h2M1598 582h2M1657 580h2M1750 595h2M1856 606h2M1550 574h2M1863 606h2M1817 608h2M1620 583h2M1710 593h2M1835 610h2M1882 609h2M1862 598h2M1530 577h2M1716 601h2M1599 580h2M1902 612h2M1540 561h2M1834 593h2M1467 562h2M1773 600h2M1635 593h2M1612 586h2M1897 600h2M1874 582h2M1699 582h2M1804 609h2M1616 578h2M1729 578h2M1501 549h2M1795 601h2M1530 556h2M1825 610h2M1544 578h2M1756 602h2M1654 595h2M1637 588h2M1468 561h2M1442 549h2M1896 607h2M1627 587h2M1763 599h2M1596 586h2M1502 564h2M1707 597h2M1849 609h2M1513 560h2M1761 604h2M1712 601h2M1872 610h2M1783 598h2M1713 593h2M1767 606h2M1731 596h2M1877 608h2M1593 586h2M1538 570h2M1719 596h2M1745 590h2M1433 546h2M1770 591h2M1665 590h2M1678 592h2M1842 610h2M1733 602h2M1641 590h2M1662 592h2M1628 579h2M1494 563h2M1678 592h2M1887 604h2M1596 587h2M1639 582h2M1601 578h2M1900 611h2M1580 585h2M1873 602h2M1588 585h2M1868 611h2M1858 609h2M1592 577h2M1588 582h2M1601 587h2M1454 555h2M1752 601h2M1578 580h2M1473 562h2M1732 595h2M1606 583h2M1640 587h2M1444 555h2M1805 602h2M1550 574h2M1777 607h2M1562 582h2M1775 593h2M1509 572h2M1853 603h2M1631 586h2M1671 584h2M1810 601h2M1611 575h2M1588 583h2M1895 599h2M1454 551h2M1584 569h2M1501 554h2M1470 554h2M1452 550h2M1733 595h2M1883 603h2M1507 570h2M1498 569h2M1607 588h2M1681 589h2M1732 588h2M1640 579h2M1900 611h2M1499 553h2M1451 543h2M1893 612h2M1741 601h2M1606 575h2M1708 597h2M1640 593h2M1453 553h2M1818 607h2M1581 568h2M1718 596h2M1776 591h2M1686 592h2M1800 607h2M1813 606h2M1614 573h2M1549 565h2M1853 611h2M1488 555h2M1869 603h2M1590 579h2M1686 598h2M1868 610h2M1854 611h2M1469 548h2M1888 599h2M1494 565h2M1465 535h2M1474 550h2M1741 597h2M1551 557h2M1720 598h2M1783 601h2M1773 587h2M1571 581h2M1491 569h2M1878 610h2M1809 605h2M1766 603h2M1452 551h2M1863 605h2M1469 555h2M1475 565h2M1431 539h2M1742 600h2M1591 586h2M1462 558h2M1539 571h2M1884 610h2M1522 572h2M1506 553h2M1452 554h2M1885 611h2M1837 578h2M1506 572h2M1641 584h2M1466 559h2M1501 570h2M1739 603h2M1706 590h2M1721 600h2M1792 605h2M1799 598h2M1776 608h2M1851 608h2M1898 611h2M1904 603h2M1666 591h2M1551 581h2M1753 594h2M1697 594h2M1548 573h2M1503 563h2M1848 610h2M1839 600h2M1757 597h2M1614 584h2M1514 567h2M1877 607h2M1787 608h2M1439 551h2M1435 537h2M1710 587h2M1847 608h2M1797 607h2M1431 547h2M1577 585h2M1671 589h2M1448 555h2M1499 570h2M1536 569h2M1472 563h2M1648 592h2M1672 594h2M1571 582h2M1621 583h2M1547 573h2M1528 575h2M1879 613h2M1831 600h2M1628 587h2M1519 570h2M1443 552h2M1467 556h2M1602 572h2M1888 605h2M1859 572h2M1669 570h2M1634 591h2M1676 594h2M1749 603h2M1825 605h2M1460 561h2M1655 575h2M1718 600h2M1717 583h2M1559 582h2M1867 605h2M1800 602h2M1729 603h2M1520 565h2M1559 575h2M1466 560h2M1486 567h2M1885 604h2M1819 588h2M1814 609h2M1557 575h2M1575 583h2M1473 562h2M1798 606h2M1878 605h2M1880 606h2M1523 551h2M1723 599h2M1543 568h2M1609 587h2M1528 574h2M1625 556h2M1567 577h2M1825 608h2M1741 598h2M1512 573h2M1532 565h2M1786 608h2M1696 597h2M1855 608h2M1520 570h2M1751 589h2M1523 568h2M1723 598h2M1751 604h2M1897 612h2M1640 591h2M1596 582h2M1708 598h2M1848 608h2M1613 581h2M1751 599h2M1744 589h2M1481 567h2M1805 592h2M1717 600h2M1497 561h2M1525 570h2M1658 596h2M1587 577h2M1879 607h2M1760 600h2M1467 559h2M1555 581h2M1512 569h2M1670 592h2M1853 609h2M1747 597h2M1863 606h2M1582 586h2M1764 592h2M1602 584h2M1872 602h2M1477 521h2M1792 590h2M1533 577h2M1527 570h2M1604 587h2M1461 548h2M1847 602h2M1898 610h2M1759 593h2M1894 612h2M1540 571h2M1856 605h2M1821 610h2M1505 567h2M1458 561h2M1873 591h2M1722 581h2M1768 601h2M1886 613h2M1613 574h2M1530 575h2M1885 613h2M1815 608h2M1770 599h2M1594 580h2M1484 560h2M1895 603h2M1854 612h2M1552 577h2M1886 597h2M1586 575h2M1462 558h2M1659 590h2M1591 588h2M1541 556h2M1808 591h2M1787 592h2M1681 597h2M1872 602h2M1719 601h2M1664 597h2M1551 577h2M1584 584h2M1433 544h2M1847 603h2M1817 605h2M1584 572h2M1581 585h2M1753 602h2M1868 593h2M1829 608h2M1589 572h2M1495 561h2M1880 607h2M1796 608h2M1735 601h2M1553 572h2M1510 573h2M1547 581h2M1530 559h2M1740 602h2M1831 610h2M1840 606h2M1428 545h2M1537 569h2M1621 580h2M1853 609h2M1499 571h2M1550 572h2M1473 557h2M1623 593h2M1659 587h2M1469 553h2M1623 583h2M1794 606h2M1871 608h2M1733 604h2M1549 575h2M1600 585h2M1502 571h2M1553 580h2M1494 562h2M1631 587h2M1625 587h2M1855 609h2M1725 597h2M1797 604h2M1840 607h2M1725 603h2M1844 600h2M1856 600h2M1837 597h2M1860 611h2M1514 570h2M1437 554h2M1833 605h2M1767 604h2M1501 556h2M1674 577h2M1709 601h2M1485 563h2M1645 594h2M1625 587h2M1498 554h2M1452 554h2M1783 599h2M1609 587h2M1507 571h2M1583 575h2M1819 608h2M1462 560h2M1846 597h2M1647 579h2M1467 551h2M1565 573h2M1772 604h2M1442 554h2M1451 552h2M1886 592h2M1758 605h2M1658 587h2M1533 575h2M1863 612h2M1702 598h2M1890 605h2M1533 574h2M1635 586h2M1798 596h2M1749 595h2M1776 595h2M1755 606h2M1708 599h2M1628 578h2M1447 529h2M1602 589h2M1566 574h2M1622 589h2M1502 570h2M1732 590h2M1649 584h2M1533 567h2M1569 584h2M1875 611h2M1855 581h2M1656 572h2M1749 597h2M1864 609h2M1486 565h2M1596 575h2M1447 552h2M1886 612h2M1510 567h2M1585 587h2M1453 554h2M1596 570h2M1825 604h2M1806 593h2M1533 572h2M1796 606h2M1448 555h2M1521 568h2M1534 560h2M1630 592h2M1865 610h2M1599 581h2M1444 550h2M1715 594h2M1486 559h2M1863 610h2M1524 574h2M1440 550h2M1693 592h2M1635 579h2M1883 609h2M1718 598h2M1442 554h2M1724 597h2M1878 601h2M1678 596h2M1860 601h2M1616 575h2M1433 549h2M1562 581h2M1872 612h2M1906 605h2M1631 592h2M1610 585h2M1513 569h2M1656 582h2M1667 595h2M1771 599h2M1780 599h2M1807 609h2M1695 598h2M1437 553h2M1827 606h2M1674 595h2M1542 577h2M1823 601h2M1816 599h2M1630 585h2M1617 580h2M1758 603h2M1671 594h2M1548 575h2M1586 572h2M1687 596h2M1815 608h2M1716 597h2M1721 593h2M1905 614h2M1614 579h2M1531 578h2M1884 599h2M1471 550h2M1704 599h2M1520 560h2M1659 575h2M1807 606h2M1590 581h2M1882 600h2M1447 528h2M1538 573h2M1448 550h2M1775 602h2M1774 594h2M1461 561h2M1577 583h2M1853 608h2M1545 576h2M1581 584h2M1531 572h2M1489 567h2M1872 607h2M1715 601h2M1573 574h2M1812 596h2M1706 596h2M1689 589h2M1456 559h2M1548 579h2M1683 587h2M1634 592h2M1730 598h2M1626 572h2M1897 607h2M1905 608h2M1474 553h2M1575 547h2M1678 587h2M1490 564h2M1712 601h2M1831 602h2M1441 552h2M1643 586h2M1853 607h2M1816 609h2M1829 608h2M1821 602h2M1702 582h2M1654 586h2M1477 565h2M1762 592h2M1471 562h2M1552 567h2M1598 550h2M1706 589h2M1602 583h2M1866 603h2M1466 555h2M1596 580h2M1867 588h2M1481 560h2M1437 552h2M1800 602h2M1870 610h2M1520 571h2M1845 604h2M1719 599h2M1546 571h2M1507 564h2M1572 584h2M1784 602h2M1525 571h2M1830 608h2M1502 562h2M1599 578h2M1722 594h2M1900 612h2M1579 581h2M1875 590h2M1665 596h2M1464 560h2M1688 591h2M1744 598h2M1787 605h2M1847 604h2M1557 571h2M1826 610h2M1634 581h2M1724 603h2M1477 562h2M1740 571h2M1555 572h2M1527 577h2M1547 573h2M1889 599h2M1468 552h2M1448 557h2M1722 590h2M1807 593h2M1665 597h2M1843 602h2M1891 603h2M1574 584h2M1729 599h2M1770 602h2M1619 587h2M1498 564h2M1741 600h2M1671 597h2M1552 569h2M1633 584h2M1870 608h2M1461 562h2M1883 612h2M1692 591h2M1785 590h2M1637 591h2M1549 580h2M1452 554h2M1648 575h2M1877 612h2M1507 569h2M1718 587h2M1525 573h2M1904 611h2M1719 598h2M1618 580h2M1550 563h2M1688 592h2M1677 583h2M1859 609h2M1537 579h2M1665 584h2M1861 601h2M1648 592h2M1814 597h2M1688 597h2M1612 580h2M1673 597h2M1699 566h2M1846 607h2M1431 552h2M1809 601h2M1676 593h2M1766 605h2M1566 583h2M1605 571h2M1675 596h2M1778 603h2M1802 602h2M1815 607h2M1809 609h2M1710 592h2M1450 549h2M1854 611h2M1763 592h2M1596 586h2M1584 574h2M1889 606h2M1541 555h2M1693 587h2M1628 589h2M1459 559h2M1742 604h2M1586 582h2M1464 562h2M1594 589h2M1780 607h2M1756 598h2M1676 596h2M1850 610h2M1543 580h2M1827 596h2M1472 558h2M1643 590h2M1707 586h2M1782 604h2M1682 591h2M1762 587h2M1598 574h2M1784 601h2M1751 601h2M1547 577h2M1865 611h2M1595 559h2M1860 586h2M1467 545h2M1752 594h2M1449 541h2M1644 593h2M1459 555h2M1434 545h2M1449 549h2M1561 582h2M1643 584h2M1472 558h2M1588 580h2M1851 611h2M1456 551h2M1673 596h2M1683 572h2M1481 555h2M1590 580h2M1499 555h2M1522 560h2M1629 583h2M1550 572h2M1794 608h2M1680 596h2M1755 604h2M1867 610h2M1723 593h2M1899 610h2M1801 599h2M1559 567h2M1584 559h2M1768 597h2M1435 548h2M1764 604h2M1520 565h2M1724 591h2M1695 585h2M1488 566h2M1611 589h2M1820 591h2M1599 589h2M1568 573h2M1467 555h2M1533 562h2M1530 563h2M1809 600h2M1594 586h2M1590 584h2M1884 612h2M1663 595h2M1634 581h2M1511 562h2M1669 584h2M1889 602h2M1530 569h2M1905 605h2M1682 598h2M1558 577h2M1719 596h2M1675 590h2M1475 562h2M1552 572h2M1823 606h2M1703 585h2M1791 600h2M1507 570h2M1443 556h2M1669 591h2M1534 567h2M1870 609h2M1691 597h2M1563 576h2M1619 588h2M1693 586h2M1571 581h2M1825 594h2M1858 566h2M1528 569h2M1647 586h2M1873 602h2M1855 609h2M1431 543h2M1684 588h2M1759 605h2M1495 547h2M1643 588h2M1678 598h2M1645 593h2M1643 586h2M1889 594h2M1726 599h2M1511 565h2M1552 571h2M1598 583h2M1529 575h2M1734 602h2M1783 598h2M1721 601h2M1643 592h2M1777 604h2M1513 565h2M1529 565h2M1691 588h2M1476 562h2M1846 588h2M1794 601h2M1442 550h2M1513 568h2M1732 602h2M1556 577h2M1741 601h2M1499 555h2M1490 551h2M1850 608h2M1433 548h2M1623 593h2M1846 609h2M1437 549h2M1855 602h2M1830 601h2M1646 588h2M1719 592h2M1492 567h2M1729 600h2M1562 545h2M1445 551h2M1858 599h2M1768 596h2M1860 611h2M1442 549h2M1459 545h2M1609 586h2M1566 572h2M1458 560h2M1465 546h2M1454 558h2M1625 583h2M1560 574h2M1881 601h2M1845 588h2M1872 612h2M1596 583h2M1513 558h2M1801 593h2M1632 581h2M1607 580h2M1763 598h2M1847 600h2M1613 584h2M1745 602h2M1795 602h2M1831 598h2M1638 582h2M1491 569h2M1444 550h2M1668 586h2M1570 576h2M1537 568h2M1806 608h2M1704 581h2M1436 534h2M1492 565h2M1457 549h2M1611 569h2M1638 589h2M1670 597h2M1775 602h2M1475 559h2M1668 587h2M1470 563h2M1834 598h2M1535 574h2M1524 564h2M1751 601h2M1467 562h2M1867 610h2M1584 587h2M1790 603h2M1468 556h2M1686 595h2M1793 597h2M1792 606h2M1875 613h2M1847 602h2M1532 573h2M1544 570h2M1795 604h2M1693 599h2M1717 600h2M1439 553h2M1568 578h2M1468 560h2M1887 599h2M1450 524h2M1617 589h2M1567 561h2M1808 596h2M1893 603h2M1483 560h2M1805 608h2M1530 571h2M1888 607h2M1744 594h2M1797 601h2M1585 573h2M1887 608h2M1485 563h2M1699 599h2M1851 601h2M1443 555h2M1492 557h2M1677 591h2M1444 540h2M1871 601h2M1823 598h2M1466 561h2M1472 562h2M1905 612h2M1603 574h2M1547 573h2M1447 555h2M1667 596h2M1496 567h2M1630 580h2M1489 562h2M1738 594h2M1799 599h2M1879 604h2M1622 585h2M1586 577h2M1675 596h2M1827 598h2M1569 582h2M1677 596h2M1530 575h2M1686 576h2M1750 602h2M1528 578h2M1819 610h2M1669 596h2M1791 606h2M1529 573h2M1854 598h2M1711 588h2M1586 576h2M1864 599h2M1467 560h2M1752 592h2M1859 611h2M1641 592h2M1716 596h2M1540 580h2M1725 603h2M1677 590h2M1817 605h2M1767 607h2M1530 574h2M1706 590h2M1729 596h2M1865 603h2M1670 578h2M1565 584h2M1469 543h2M1801 609h2M1494 553h2M1634 580h2M1863 611h2M1516 572h2M1503 548h2M1721 599h2M1517 574h2M1585 571h2M1750 600h2M1824 600h2M1445 548h2M1595 586h2M1434 544h2M1866 603h2M1596 583h2M1454 560h2M1652 586h2M1718 591h2M1755 598h2M1723 595h2M1631 593h2M1532 567h2M1837 606h2M1752 595h2M1809 604h2M1452 550h2M1902 606h2M1757 598h2M1500 571h2M1697 581h2M1581 582h2M1643 585h2M1855 608h2M1838 600h2M1452 557h2M1711 597h2M1697 591h2M1791 597h2M1431 548h2M1471 560h2M1816 597h2M1899 604h2M1627 582h2M1671 585h2M1510 574h2M1791 604h2M1736 599h2M1477 561h2M1648 595h2M1675 594h2M1802 589h2M1846 608h2M1778 592h2M1513 572h2M1837 605h2M1643 591h2M1798 581h2M1679 596h2M1490 568h2M1443 543h2M1873 612h2M1850 596h2M1588 588h2M1543 572h2M1843 597h2M1798 600h2M1634 578h2M1821 608h2M1667 593h2M1480 552h2M1703 590h2M1849 606h2M1574 576h2M1542 573h2M1855 603h2M1751 592h2M1745 599h2M1535 568h2M1749 605h2M1437 552h2M1677 591h2M1669 593h2M1528 575h2M1793 597h2M1576 573h2M1901 610h2M1555 572h2M1899 608h2M1874 610h2M1718 591h2M1784 607h2M1816 588h2M1474 562h2M1858 602h2M1816 602h2M1433 544h2M1787 607h2M1568 579h2M1503 560h2M1619 586h2M1434 545h2M1498 566h2M1581 583h2M1564 573h2M1856 603h2M1832 604h2M1457 545h2M1653 589h2M1524 571h2M1435 547h2M1476 549h2M1615 589h2M1656 591h2M1685 587h2M1520 574h2M1660 592h2M1668 571h2M1875 605h2M1645 595h2M1620 587h2M1537 575h2M1491 569h2M1638 591h2M1624 592h2M1509 557h2M1850 611h2M1528 570h2M1444 552h2M1482 558h2M1771 584h2M1849 597h2M1512 561h2M1893 610h2M1722 602h2M1781 601h2M1783 601h2M1680 599h2M1537 561h2M1894 608h2M1491 565h2M1782 604h2M1532 557h2M1825 593h2M1733 597h2M1434 552h2M1636 590h2M1537 570h2M1540 556h2M1878 600h2M1873 608h2M1802 597h2M1905 614h2M1740 597h2M1816 608h2M1642 573h2M1858 597h2M1776 605h2M1514 570h2M1905 603h2M1786 600h2M1532 568h2M1733 603h2M1576 584h2M1503 570h2M1712 599h2M1632 581h2M1867 609h2M1786 587h2M1837 586h2M1509 564h2M1518 560h2M1818 609h2M1558 579h2M1606 589h2M1428 543h2M1720 601h2M1698 591h2M1552 574h2M1845 611h2M1827 607h2M1821 597h2M1621 578h2M1674 593h2M1511 566h2M1724 595h2M1451 550h2M1835 598h2M1889 596h2M1680 596h2M1758 603h2M1742 593h2M1713 601h2M1904 611h2M1673 582h2M1531 571h2M1643 587h2M1620 580h2M1584 584h2M1460 549h2M1639 594h2M1719 597h2M1563 582h2M1730 594h2M1894 613h2M1749 605h2M1458 549h2M1481 563h2M1853 610h2M1813 606h2M1465 551h2M1606 558h2M1805 609h2M1744 600h2M1817 598h2M1600 587h2M1604 588h2M1567 585h2M1717 593h2M1775 606h2M1733 587h2M1485 558h2M1496 542h2M1482 548h2M1486 549h2M1492 538h2M1485 541h2M1488 558h2M1492 541h2M1484 553h2M1475 542h2M1495 550h2M1470 555h2M1493 543h2M1490 545h2M1498 551h2M1480 547h2M1504 537h2M1475 545h2M1504 557h2M1485 538h2M1496 543h2M1478 554h2M1500 548h2M1499 558h2M1496 551h2M1481 548h2M1487 557h2M1494 549h2M1483 544h2M1496 543h2M1491 567h2M1483 536h2M1490 549h2M1485 554h2M1489 553h2M1510 541h2M1499 550h2M1513 555h2M1503 555h2M1523 553h2M1518 548h2M1506 549h2M1512 555h2M1511 551h2M1507 561h2M1507 544h2M1513 548h2M1515 539h2M1508 550h2M1516 548h2M1514 544h2M1514 552h2M1512 545h2M1521 548h2M1510 557h2M1510 556h2M1518 552h2M1512 563h2M1509 548h2M1515 556h2M1554 552h2M1552 565h2M1553 568h2M1551 568h2M1545 570h2M1548 569h2M1542 569h2M1546 573h2M1556 566h2M1548 574h2M1555 575h2M1551 572h2M1563 570h2M1545 568h2M1536 572h2M1543 575h2M1557 560h2M1540 568h2M1554 570h2M1532 575h2M1550 568h2M1553 558h2M1593 563h2M1572 571h2M1585 548h2M1577 560h2M1575 554h2M1564 553h2M1573 569h2M1563 565h2M1571 561h2M1568 559h2M1572 551h2M1579 561h2M1593 552h2M1583 558h2M1579 562h2M1577 565h2M1572 561h2M1583 560h2M1589 558h2M1582 562h2M1585 552h2M1578 565h2M1617 576h2M1608 566h2M1600 571h2M1614 557h2M1606 559h2M1616 563h2M1599 579h2M1610 571h2M1602 567h2M1594 574h2M1604 566h2M1611 560h2M1602 579h2M1605 554h2M1609 567h2M1612 570h2M1607 567h2M1605 575h2M1601 569h2M1609 571h2M1617 572h2M1604 555h2M1608 572h2M1614 582h2M1614 565h2M1671 571h2M1664 559h2M1659 564h2M1666 557h2M1671 563h2M1665 562h2M1662 572h2M1673 560h2M1665 576h2M1662 554h2M1671 559h2M1673 556h2M1666 569h2M1658 554h2M1668 558h2M1677 568h2M1657 557h2M1666 568h2M1673 552h2M1666 544h2M1668 546h2M1659 579h2M1672 559h2M1660 566h2M1665 563h2M1676 574h2M1669 562h2M1662 568h2M1672 546h2M1679 551h2M1678 555h2M1666 561h2M1672 564h2M1676 559h2M1669 560h2M1672 557h2M1674 559h2M1675 564h2M1663 568h2M1663 558h2M1706 585h2M1692 578h2M1704 583h2M1692 594h2M1695 582h2M1709 598h2M1710 590h2M1702 583h2M1691 580h2M1692 579h2M1708 584h2M1693 588h2M1704 592h2M1702 592h2M1693 592h2M1701 595h2M1692 584h2M1702 603h2M1774 585h2M1759 591h2M1766 597h2M1757 600h2M1775 586h2M1763 585h2M1772 586h2M1759 600h2M1762 587h2M1766 604h2M1764 592h2M1760 588h2M1762 598h2M1750 591h2M1749 589h2M1813 592h2M1807 596h2M1802 595h2M1807 588h2M1810 601h2M1815 587h2M1808 590h2M1816 595h2M1819 595h2M1810 596h2M1795 593h2M1813 593h2M1847 593h2M1848 606h2M1854 591h2M1857 601h2M1851 601h2M1846 606h2M1852 598h2M1841 601h2M1859 606h2M1852 601h2" stroke="#15152b" stroke-width="2.5" fill="none" stroke-opacity="0.92"/>
<path d="M1250.9 202L1252.9 207.5L1254.9 213.4L1256.9 219.4L1258.9 225.8L1260.9 232.3L1262.9 239.5L1264.9 247L1266.9 254.7L1268.9 262.2L1270.9 269.2L1272.9 275.7L1274.9 282L1276.9 288.1L1278.9 294L1280.9 299.8L1282.9 305.4L1284.9 310.9L1286.9 316.2L1288.9 321.3L1290.9 326.3L1292.9 331.2L1294.9 336L1296.9 340.9L1298.9 345.8L1300.9 350.8L1302.9 355.7L1304.9 360.6L1306.9 365.5L1308.9 370.3L1310.9 375.1L1312.9 379.8L1314.9 384.5L1316.9 389.1L1318.9 393.7L1320.9 398.2L1322.9 402.7L1324.9 407.1L1326.9 411.5L1328.9 415.7L1330.9 419.9L1332.9 424.1L1334.9 428.2L1336.9 432.2L1338.9 436.1L1340.9 439.9L1342.9 443.5L1344.9 447L1346.9 450.3L1348.9 453.6L1350.9 456.8L1352.9 459.9L1354.9 463L1356.9 466L1358.9 469L1360.9 472L1362.9 474.9L1364.9 477.9L1366.9 480.7L1368.9 483.6L1370.9 486.3L1372.9 489L1374.9 491.7L1376.9 494.3L1378.9 496.9L1380.9 499.4L1382.9 501.9L1384.9 504.4L1386.9 506.8L1388.9 509.1L1390.9 511.3L1392.9 513.5L1394.9 515.5L1396.9 517.6L1398.9 519.5L1400.9 521.4L1402.9 523.3L1404.9 525.1L1406.9 526.7L1408.9 528.3L1410.9 529.8L1412.9 531.2L1414.9 532.6L1416.9 533.9L1418.9 535.2L1420.9 536.3L1422.9 537.5L1424.9 538.5L1426.9 539.4L1428.9 540.3L1430.9 541.1L1432.9 541.9L1434.9 542.6L1436.9 543.3L1438.9 543.9L1440 544.3L1446 546.1L1452 547.8L1458 549.4L1464 550.9L1470 552.4L1476 553.8L1482 555.3L1488 556.7L1494 558.1L1500 559.5L1506 560.9L1512 562.2L1518 563.5L1524 564.8L1530 566L1536 567.2L1542 568.3L1548 569.4L1554 570.5L1560 571.6L1566 572.6L1572 573.6L1578 574.5L1584 575.5L1590 576.3L1596 577.1L1602 578L1608 578.7L1614 579.5L1620 580.2L1626 580.9L1632 581.6L1638 582.3L1644 582.9L1650 583.6L1656 584.2L1662 584.8L1668 585.4L1674 586L1680 586.5L1686 587.1L1692 587.7L1698 588.3L1704 588.9L1710 589.5L1716 590.2L1722 590.8L1728 591.4L1734 592L1740 592.6L1746 593.2L1752 593.7L1758 594.2L1764 594.7L1770 595.1L1776 595.6L1782 596.1L1788 596.5L1794 596.9L1800 597.3L1806 597.7L1812 598L1818 598.3L1824 598.6L1830 598.9L1836 599.2L1842 599.5L1848 599.8L1854 600L1860 600.3L1866 600.6L1872 600.8L1878 601.1L1884 601.4L1890 601.6L1896 601.9L1902 602.1" stroke="#e65a52" stroke-width="5.2" fill="none" stroke-linecap="round" opacity="0.75"/>
<path d="M1221.6 146.2V779.1H1906.5" stroke="#3a3a3a" stroke-width="1.6" fill="none"/>
<path d="M1221.6 779.1h15M1221.6 741h7.8M1221.6 718.8h7.8M1221.6 703h7.8M1221.6 690.7h7.8M1221.6 680.7h7.8M1221.6 672.2h7.8M1221.6 664.9h7.8M1221.6 658.4h7.8M1221.6 652.7h15M1221.6 614.6h7.8M1221.6 592.3h7.8M1221.6 576.5h7.8M1221.6 564.3h7.8M1221.6 554.3h7.8M1221.6 545.8h7.8M1221.6 538.5h7.8M1221.6 532h7.8M1221.6 526.2h15M1221.6 488.2h7.8M1221.6 465.9h7.8M1221.6 450.1h7.8M1221.6 437.8h7.8M1221.6 427.8h7.8M1221.6 419.4h7.8M1221.6 412h7.8M1221.6 405.6h7.8M1221.6 399.8h15M1221.6 361.7h7.8M1221.6 339.5h7.8M1221.6 323.7h7.8M1221.6 311.4h7.8M1221.6 301.4h7.8M1221.6 292.9h7.8M1221.6 285.6h7.8M1221.6 279.1h7.8M1221.6 273.3h15M1221.6 235.3h7.8M1221.6 213h7.8M1221.6 197.2h7.8M1221.6 185h7.8M1221.6 175h7.8M1221.6 166.5h7.8M1221.6 159.2h7.8M1221.6 152.7h7.8M1221.6 146.9h15M1260.2 779.1v-7M1298.2 779.1v-7M1336.2 779.1v-14M1374.3 779.1v-7M1412.3 779.1v-7M1450.3 779.1v-14M1488.3 779.1v-7M1526.3 779.1v-7M1564.3 779.1v-14M1602.3 779.1v-7M1640.3 779.1v-7M1678.4 779.1v-14M1716.4 779.1v-7M1754.4 779.1v-7M1792.4 779.1v-14M1830.4 779.1v-7M1868.4 779.1v-7M1906.4 779.1v-14" stroke="#3a3a3a" stroke-width="1.4" fill="none"/>
<text x="1199.3" y="789.1" font-size="28" text-anchor="end">10</text>
<text x="1199.4" y="776.6" font-size="19.5">1</text>
<text x="1199.3" y="668.2" font-size="28" text-anchor="end">10</text>
<text x="1199.4" y="655.7" font-size="19.5">2</text>
<text x="1199.3" y="541.2" font-size="28" text-anchor="end">10</text>
<text x="1199.4" y="528.7" font-size="19.5">3</text>
<text x="1199.3" y="415.8" font-size="28" text-anchor="end">10</text>
<text x="1199.4" y="403.3" font-size="19.5">4</text>
<text x="1199.3" y="289.8" font-size="28" text-anchor="end">10</text>
<text x="1199.4" y="277.3" font-size="19.5">5</text>
<text x="1199.3" y="164.4" font-size="28" text-anchor="end">10</text>
<text x="1199.4" y="151.9" font-size="19.5">6</text>
<text x="1222.2" y="813.5" font-size="28.2" text-anchor="middle">0</text>
<text x="1336.2" y="813.5" font-size="28.2" text-anchor="middle">4</text>
<text x="1450.3" y="813.5" font-size="28.2" text-anchor="middle">8</text>
<text x="1564.3" y="813.5" font-size="28.2" text-anchor="middle">12</text>
<text x="1678.4" y="813.5" font-size="28.2" text-anchor="middle">16</text>
<text x="1792.4" y="813.5" font-size="28.2" text-anchor="middle">20</text>
<text x="1906.4" y="813.5" font-size="28.2" text-anchor="middle">24</text>
<text x="1474" y="857.7" font-size="29" textLength="179" lengthAdjust="spacingAndGlyphs">Distance (μm)</text>
<text transform="translate(1141.5 463.5) rotate(-90)" font-size="29" text-anchor="middle" textLength="185" lengthAdjust="spacingAndGlyphs">Intensity (a.u.)</text>
<text x="1268.6" y="167" font-size="24.3" fill="#b91d22" textLength="82" lengthAdjust="spacingAndGlyphs">532 nm</text>
<text x="1266.3" y="196.9" font-size="24.3" fill="#b91d22" textLength="93.8" lengthAdjust="spacingAndGlyphs">plasmon</text>
<text x="1548.5" y="166.5" font-size="24.5" fill="#2f44a0">WSe<tspan font-size="14.5" dy="14">2</tspan><tspan dy="-14"> exciton plasmon</tspan></text>
<text x="1315" y="355" font-size="24" fill="#b91d22" textLength="94" lengthAdjust="spacingAndGlyphs"><tspan font-family="Liberation Serif, serif">γ</tspan> = 1 μm</text>
<text x="1700.8" y="562.6" font-size="24" fill="#2f44a0" textLength="108.4" lengthAdjust="spacingAndGlyphs"><tspan font-family="Liberation Serif, serif">γ</tspan> = 15 μm</text>
</svg></body></html>
